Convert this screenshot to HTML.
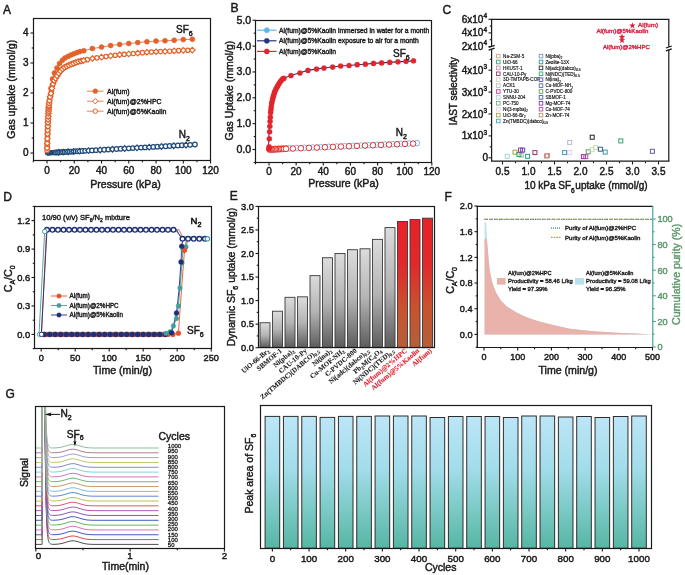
<!DOCTYPE html>
<html><head><meta charset="utf-8"><style>
html,body{margin:0;padding:0;background:#fff;width:685px;height:575px;overflow:hidden;}
svg{display:block;will-change:transform;filter:blur(0.3px);}
</style></head><body>
<svg width="685" height="575" viewBox="0 0 685 575">
<rect x="0" y="0" width="685" height="575" fill="#fff"/>
<text x="3.1" y="13.7" font-size="12" text-anchor="start" fill="#1a1a1a" font-family="Liberation Sans, sans-serif" font-weight="normal"  stroke="#1a1a1a" stroke-width="0.45">A</text>
<path d="M47,153 L47,153 L47.14,152.99 L47.2,152.99 L47.27,152.98 L47.41,152.98 L47.55,152.97 L47.68,152.96 L47.82,152.95 L47.95,152.95 L47.95,152.95 L48.09,152.94 L48.23,152.93 L48.36,152.92 L48.5,152.91 L48.59,152.91 L48.64,152.91 L48.77,152.9 L48.91,152.89 L49.11,152.88 L49.45,152.86 L50.13,152.82 L50.95,152.77 L51.91,152.72 L52.45,152.69 L53,152.66 L54.22,152.59 L54.36,152.58 L55.59,152.51 L56.95,152.43 L57.09,152.42 L58.72,152.33 L59.54,152.28 L60.49,152.23 L62.4,152.12 L64.45,152 L64.99,151.97 L66.63,151.88 L67.99,151.8 L68.81,151.75 L70.99,151.63 L71.13,151.62 L73.44,151.49 L73.99,151.46 L75.9,151.35 L76.99,151.28 L78.35,151.21 L79.98,151.11 L80.94,151.06 L83.53,150.91 L83.8,150.89 L92.39,150.4 L101.52,149.88 L110.65,149.36 L119.65,148.84 L128.78,148.32 L137.78,147.81 L146.91,147.28 L156.04,146.76 L165.04,146.25 L174.17,145.72 L183.3,145.2 L192.3,144.69 L195.57,144.5" stroke="#1f4a7a" stroke-width="0.8" fill="none" />
<circle cx="47.41" cy="152.98" r="2.3" fill="#1f4a7a" stroke="#1f4a7a" stroke-width="0.6"/>
<circle cx="48.23" cy="152.93" r="2.3" fill="#1f4a7a" stroke="#1f4a7a" stroke-width="0.6"/>
<circle cx="49.04" cy="152.88" r="2.3" fill="#1f4a7a" stroke="#1f4a7a" stroke-width="0.6"/>
<circle cx="50" cy="152.83" r="2.3" fill="#1f4a7a" stroke="#1f4a7a" stroke-width="0.6"/>
<circle cx="51.09" cy="152.77" r="2.3" fill="#1f4a7a" stroke="#1f4a7a" stroke-width="0.6"/>
<circle cx="52.18" cy="152.7" r="2.3" fill="#1f4a7a" stroke="#1f4a7a" stroke-width="0.6"/>
<circle cx="53.41" cy="152.63" r="2.3" fill="#1f4a7a" stroke="#1f4a7a" stroke-width="0.6"/>
<circle cx="54.63" cy="152.56" r="2.3" fill="#1f4a7a" stroke="#1f4a7a" stroke-width="0.6"/>
<circle cx="55.86" cy="152.49" r="2.3" fill="#fff" stroke="#1f4a7a" stroke-width="1.25"/>
<circle cx="57.22" cy="152.41" r="2.3" fill="#fff" stroke="#1f4a7a" stroke-width="1.25"/>
<path d="M58.59,149.54 L61.39,152.34 L58.59,155.14 L55.79,152.34Z" fill="#fff" stroke="#1f4a7a" stroke-width="1.25"/>
<circle cx="60.08" cy="152.25" r="2.3" fill="#fff" stroke="#1f4a7a" stroke-width="1.25"/>
<circle cx="61.58" cy="152.17" r="2.3" fill="#fff" stroke="#1f4a7a" stroke-width="1.25"/>
<path d="M63.08,149.28 L65.88,152.08 L63.08,154.88 L60.28,152.08Z" fill="#fff" stroke="#1f4a7a" stroke-width="1.25"/>
<circle cx="64.72" cy="151.99" r="2.3" fill="#fff" stroke="#1f4a7a" stroke-width="1.25"/>
<circle cx="66.35" cy="151.89" r="2.3" fill="#fff" stroke="#1f4a7a" stroke-width="1.25"/>
<path d="M68.13,148.99 L70.93,151.79 L68.13,154.59 L65.33,151.79Z" fill="#fff" stroke="#1f4a7a" stroke-width="1.25"/>
<circle cx="69.9" cy="151.69" r="2.3" fill="#fff" stroke="#1f4a7a" stroke-width="1.25"/>
<circle cx="71.81" cy="151.58" r="2.3" fill="#fff" stroke="#1f4a7a" stroke-width="1.25"/>
<path d="M73.71,148.67 L76.51,151.47 L73.71,154.27 L70.91,151.47Z" fill="#fff" stroke="#1f4a7a" stroke-width="1.25"/>
<circle cx="75.62" cy="151.36" r="2.3" fill="#fff" stroke="#1f4a7a" stroke-width="1.25"/>
<circle cx="77.67" cy="151.25" r="2.3" fill="#fff" stroke="#1f4a7a" stroke-width="1.25"/>
<path d="M79.71,148.33 L82.51,151.13 L79.71,153.93 L76.91,151.13Z" fill="#fff" stroke="#1f4a7a" stroke-width="1.25"/>
<circle cx="82.44" cy="150.97" r="2.3" fill="#fff" stroke="#1f4a7a" stroke-width="1.25"/>
<circle cx="85.16" cy="150.82" r="2.3" fill="#fff" stroke="#1f4a7a" stroke-width="1.25"/>
<path d="M88.57,147.82 L91.37,150.62 L88.57,153.42 L85.77,150.62Z" fill="#fff" stroke="#1f4a7a" stroke-width="1.25"/>
<circle cx="91.98" cy="150.43" r="2.3" fill="#fff" stroke="#1f4a7a" stroke-width="1.25"/>
<circle cx="96.07" cy="150.19" r="2.3" fill="#fff" stroke="#1f4a7a" stroke-width="1.25"/>
<path d="M100.16,147.16 L102.96,149.96 L100.16,152.76 L97.36,149.96Z" fill="#fff" stroke="#1f4a7a" stroke-width="1.25"/>
<circle cx="104.25" cy="149.72" r="2.3" fill="#fff" stroke="#1f4a7a" stroke-width="1.25"/>
<circle cx="108.34" cy="149.49" r="2.3" fill="#fff" stroke="#1f4a7a" stroke-width="1.25"/>
<path d="M112.42,146.46 L115.22,149.26 L112.42,152.06 L109.62,149.26Z" fill="#fff" stroke="#1f4a7a" stroke-width="1.25"/>
<circle cx="116.51" cy="149.02" r="2.3" fill="#fff" stroke="#1f4a7a" stroke-width="1.25"/>
<circle cx="120.6" cy="148.79" r="2.3" fill="#fff" stroke="#1f4a7a" stroke-width="1.25"/>
<path d="M124.69,145.75 L127.49,148.55 L124.69,151.35 L121.89,148.55Z" fill="#fff" stroke="#1f4a7a" stroke-width="1.25"/>
<circle cx="128.78" cy="148.32" r="2.3" fill="#fff" stroke="#1f4a7a" stroke-width="1.25"/>
<circle cx="132.87" cy="148.09" r="2.3" fill="#fff" stroke="#1f4a7a" stroke-width="1.25"/>
<path d="M136.96,145.05 L139.76,147.85 L136.96,150.65 L134.16,147.85Z" fill="#fff" stroke="#1f4a7a" stroke-width="1.25"/>
<circle cx="141.05" cy="147.62" r="2.3" fill="#fff" stroke="#1f4a7a" stroke-width="1.25"/>
<circle cx="145.14" cy="147.38" r="2.3" fill="#fff" stroke="#1f4a7a" stroke-width="1.25"/>
<path d="M149.22,144.35 L152.03,147.15 L149.22,149.95 L146.42,147.15Z" fill="#fff" stroke="#1f4a7a" stroke-width="1.25"/>
<circle cx="153.31" cy="146.92" r="2.3" fill="#fff" stroke="#1f4a7a" stroke-width="1.25"/>
<circle cx="157.4" cy="146.68" r="2.3" fill="#fff" stroke="#1f4a7a" stroke-width="1.25"/>
<path d="M161.49,143.65 L164.29,146.45 L161.49,149.25 L158.69,146.45Z" fill="#fff" stroke="#1f4a7a" stroke-width="1.25"/>
<circle cx="165.58" cy="146.21" r="2.3" fill="#fff" stroke="#1f4a7a" stroke-width="1.25"/>
<circle cx="169.67" cy="145.98" r="2.3" fill="#fff" stroke="#1f4a7a" stroke-width="1.25"/>
<path d="M173.76,142.95 L176.56,145.75 L173.76,148.55 L170.96,145.75Z" fill="#fff" stroke="#1f4a7a" stroke-width="1.25"/>
<circle cx="177.85" cy="145.51" r="2.3" fill="#fff" stroke="#1f4a7a" stroke-width="1.25"/>
<circle cx="181.94" cy="145.28" r="2.3" fill="#fff" stroke="#1f4a7a" stroke-width="1.25"/>
<path d="M186.03,142.24 L188.83,145.04 L186.03,147.84 L183.23,145.04Z" fill="#fff" stroke="#1f4a7a" stroke-width="1.25"/>
<circle cx="190.12" cy="144.81" r="2.3" fill="#fff" stroke="#1f4a7a" stroke-width="1.25"/>
<circle cx="194.89" cy="144.54" r="2.3" fill="#fff" stroke="#1f4a7a" stroke-width="1.25"/>
<path d="M47,153 L47.14,148.03 L47.27,143.22 L47.41,138.55 L47.55,133.93 L47.68,130.13 L47.82,126.36 L47.95,122.62 L48.09,119.57 L48.23,116.53 L48.36,113.51 L48.5,111.3 L48.64,109.23 L48.77,107.51 L48.91,105.79 L49.11,103.22 L49.45,100.72 L50.13,96.84 L50.95,93.47 L51.91,88.39 L53,84 L54.22,80.68 L55.59,78.33 L57.09,75.89 L58.72,73.35 L60.49,71.09 L62.4,69.1 L64.45,67.39 L66.63,66.19 L68.81,65.21 L71.13,64.17 L73.44,63.33 L75.9,62.44 L78.35,61.68 L80.94,61.03 L83.53,60.48 L92.39,58.52 L101.52,57.16 L110.65,55.8 L119.65,54.72 L128.78,53.9 L137.78,53.09 L146.91,52.27 L156.04,51.73 L165.04,51.46 L174.17,50.92 L183.3,50.37 L192.3,50.1" stroke="#e2622a" stroke-width="0.8" fill="none" />
<path d="M47,153 L47.2,145.5 L47.55,133.5 L47.95,121.5 L48.59,107.4 L50.95,88.2 L52.45,78.9 L54.36,72.9 L56.95,68.1 L59.54,63.6 L62.4,60.3 L64.99,57.9 L67.99,56.4 L70.99,54.9 L73.99,53.7 L76.99,52.5 L79.98,51.6 L83.8,50.7 L92.39,48.6 L101.52,47.1 L110.65,45.6 L119.65,44.4 L128.78,43.5 L137.78,42.6 L146.91,41.7 L156.04,41.1 L165.04,40.8 L174.17,40.2 L183.3,39.6 L192.3,39.3" stroke="#e2622a" stroke-width="0.8" fill="none" />
<circle cx="47.2" cy="145.5" r="2.5" fill="#e2622a" stroke="#e2622a" stroke-width="0.5"/>
<circle cx="47.55" cy="133.5" r="2.5" fill="#e2622a" stroke="#e2622a" stroke-width="0.5"/>
<circle cx="47.95" cy="121.5" r="2.5" fill="#e2622a" stroke="#e2622a" stroke-width="0.5"/>
<circle cx="48.59" cy="107.4" r="2.5" fill="#e2622a" stroke="#e2622a" stroke-width="0.5"/>
<circle cx="50.95" cy="88.2" r="2.5" fill="#e2622a" stroke="#e2622a" stroke-width="0.5"/>
<circle cx="52.45" cy="78.9" r="2.5" fill="#e2622a" stroke="#e2622a" stroke-width="0.5"/>
<circle cx="54.36" cy="72.9" r="2.5" fill="#e2622a" stroke="#e2622a" stroke-width="0.5"/>
<circle cx="56.95" cy="68.1" r="2.5" fill="#e2622a" stroke="#e2622a" stroke-width="0.5"/>
<circle cx="59.54" cy="63.6" r="2.5" fill="#e2622a" stroke="#e2622a" stroke-width="0.5"/>
<circle cx="62.4" cy="60.3" r="2.5" fill="#e2622a" stroke="#e2622a" stroke-width="0.5"/>
<circle cx="64.99" cy="57.9" r="2.5" fill="#e2622a" stroke="#e2622a" stroke-width="0.5"/>
<circle cx="67.99" cy="56.4" r="2.5" fill="#e2622a" stroke="#e2622a" stroke-width="0.5"/>
<circle cx="70.99" cy="54.9" r="2.5" fill="#e2622a" stroke="#e2622a" stroke-width="0.5"/>
<circle cx="73.99" cy="53.7" r="2.5" fill="#e2622a" stroke="#e2622a" stroke-width="0.5"/>
<circle cx="76.99" cy="52.5" r="2.5" fill="#e2622a" stroke="#e2622a" stroke-width="0.5"/>
<circle cx="79.98" cy="51.6" r="2.5" fill="#e2622a" stroke="#e2622a" stroke-width="0.5"/>
<circle cx="83.8" cy="50.7" r="2.5" fill="#e2622a" stroke="#e2622a" stroke-width="0.5"/>
<circle cx="92.39" cy="48.6" r="2.5" fill="#e2622a" stroke="#e2622a" stroke-width="0.5"/>
<circle cx="101.52" cy="47.1" r="2.5" fill="#e2622a" stroke="#e2622a" stroke-width="0.5"/>
<circle cx="110.65" cy="45.6" r="2.5" fill="#e2622a" stroke="#e2622a" stroke-width="0.5"/>
<circle cx="119.65" cy="44.4" r="2.5" fill="#e2622a" stroke="#e2622a" stroke-width="0.5"/>
<circle cx="128.78" cy="43.5" r="2.5" fill="#e2622a" stroke="#e2622a" stroke-width="0.5"/>
<circle cx="137.78" cy="42.6" r="2.5" fill="#e2622a" stroke="#e2622a" stroke-width="0.5"/>
<circle cx="146.91" cy="41.7" r="2.5" fill="#e2622a" stroke="#e2622a" stroke-width="0.5"/>
<circle cx="156.04" cy="41.1" r="2.5" fill="#e2622a" stroke="#e2622a" stroke-width="0.5"/>
<circle cx="165.04" cy="40.8" r="2.5" fill="#e2622a" stroke="#e2622a" stroke-width="0.5"/>
<circle cx="174.17" cy="40.2" r="2.5" fill="#e2622a" stroke="#e2622a" stroke-width="0.5"/>
<circle cx="183.3" cy="39.6" r="2.5" fill="#e2622a" stroke="#e2622a" stroke-width="0.5"/>
<circle cx="192.3" cy="39.3" r="2.5" fill="#e2622a" stroke="#e2622a" stroke-width="0.5"/>
<circle cx="47.07" cy="150.51" r="2.2" fill="#fff" stroke="#e2622a" stroke-width="1.2"/>
<circle cx="47.2" cy="145.57" r="2.2" fill="#fff" stroke="#e2622a" stroke-width="1.2"/>
<circle cx="47.34" cy="140.88" r="2.2" fill="#fff" stroke="#e2622a" stroke-width="1.2"/>
<circle cx="47.48" cy="136.24" r="2.2" fill="#fff" stroke="#e2622a" stroke-width="1.2"/>
<circle cx="47.61" cy="132.03" r="2.2" fill="#fff" stroke="#e2622a" stroke-width="1.2"/>
<circle cx="47.75" cy="128.24" r="2.2" fill="#fff" stroke="#e2622a" stroke-width="1.2"/>
<circle cx="47.89" cy="124.49" r="2.2" fill="#fff" stroke="#e2622a" stroke-width="1.2"/>
<circle cx="48.02" cy="121.09" r="2.2" fill="#fff" stroke="#e2622a" stroke-width="1.2"/>
<circle cx="48.16" cy="118.05" r="2.2" fill="#fff" stroke="#e2622a" stroke-width="1.2"/>
<circle cx="48.29" cy="115.02" r="2.2" fill="#fff" stroke="#e2622a" stroke-width="1.2"/>
<circle cx="48.43" cy="112.4" r="2.2" fill="#fff" stroke="#e2622a" stroke-width="1.2"/>
<circle cx="48.57" cy="110.19" r="2.2" fill="#fff" stroke="#e2622a" stroke-width="1.2"/>
<circle cx="48.7" cy="108.37" r="2.2" fill="#fff" stroke="#e2622a" stroke-width="1.2"/>
<circle cx="48.84" cy="106.65" r="2.2" fill="#fff" stroke="#e2622a" stroke-width="1.2"/>
<circle cx="48.98" cy="104.94" r="2.2" fill="#fff" stroke="#e2622a" stroke-width="1.2"/>
<circle cx="49.79" cy="98.64" r="2.2" fill="#fff" stroke="#e2622a" stroke-width="1.2"/>
<circle cx="50.54" cy="95.16" r="2.2" fill="#fff" stroke="#e2622a" stroke-width="1.2"/>
<circle cx="51.43" cy="90.94" r="2.2" fill="#fff" stroke="#e2622a" stroke-width="1.2"/>
<circle cx="52.45" cy="85.45" r="2.2" fill="#fff" stroke="#e2622a" stroke-width="1.2"/>
<circle cx="53.61" cy="82.35" r="2.2" fill="#fff" stroke="#e2622a" stroke-width="1.2"/>
<circle cx="54.91" cy="79.43" r="2.2" fill="#fff" stroke="#e2622a" stroke-width="1.2"/>
<circle cx="56.34" cy="77.11" r="2.2" fill="#fff" stroke="#e2622a" stroke-width="1.2"/>
<circle cx="57.9" cy="74.63" r="2.2" fill="#fff" stroke="#e2622a" stroke-width="1.2"/>
<circle cx="59.61" cy="72" r="2.2" fill="#fff" stroke="#e2622a" stroke-width="1.2"/>
<circle cx="61.45" cy="70.09" r="2.2" fill="#fff" stroke="#e2622a" stroke-width="1.2"/>
<circle cx="63.36" cy="68.3" r="2.2" fill="#fff" stroke="#e2622a" stroke-width="1.2"/>
<circle cx="65.54" cy="66.69" r="2.2" fill="#fff" stroke="#e2622a" stroke-width="1.2"/>
<circle cx="67.72" cy="65.7" r="2.2" fill="#fff" stroke="#e2622a" stroke-width="1.2"/>
<circle cx="69.9" cy="64.71" r="2.2" fill="#fff" stroke="#e2622a" stroke-width="1.2"/>
<circle cx="72.22" cy="63.78" r="2.2" fill="#fff" stroke="#e2622a" stroke-width="1.2"/>
<circle cx="74.67" cy="62.89" r="2.2" fill="#fff" stroke="#e2622a" stroke-width="1.2"/>
<circle cx="77.12" cy="62.01" r="2.2" fill="#fff" stroke="#e2622a" stroke-width="1.2"/>
<circle cx="79.71" cy="61.31" r="2.2" fill="#fff" stroke="#e2622a" stroke-width="1.2"/>
<circle cx="82.3" cy="60.74" r="2.2" fill="#fff" stroke="#e2622a" stroke-width="1.2"/>
<circle cx="87.21" cy="59.66" r="2.2" fill="#fff" stroke="#e2622a" stroke-width="1.2"/>
<circle cx="96.89" cy="57.85" r="2.2" fill="#fff" stroke="#e2622a" stroke-width="1.2"/>
<circle cx="106.02" cy="56.49" r="2.2" fill="#fff" stroke="#e2622a" stroke-width="1.2"/>
<circle cx="115.15" cy="55.26" r="2.2" fill="#fff" stroke="#e2622a" stroke-width="1.2"/>
<circle cx="124.15" cy="54.32" r="2.2" fill="#fff" stroke="#e2622a" stroke-width="1.2"/>
<circle cx="133.28" cy="53.5" r="2.2" fill="#fff" stroke="#e2622a" stroke-width="1.2"/>
<circle cx="142.41" cy="52.67" r="2.2" fill="#fff" stroke="#e2622a" stroke-width="1.2"/>
<circle cx="151.41" cy="52.01" r="2.2" fill="#fff" stroke="#e2622a" stroke-width="1.2"/>
<circle cx="160.54" cy="51.59" r="2.2" fill="#fff" stroke="#e2622a" stroke-width="1.2"/>
<circle cx="169.67" cy="51.18" r="2.2" fill="#fff" stroke="#e2622a" stroke-width="1.2"/>
<circle cx="178.67" cy="50.65" r="2.2" fill="#fff" stroke="#e2622a" stroke-width="1.2"/>
<circle cx="187.8" cy="50.24" r="2.2" fill="#fff" stroke="#e2622a" stroke-width="1.2"/>
<path d="M47.14,145.28 L49.89,148.03 L47.14,150.78 L44.39,148.03Z" fill="#fff" stroke="#e2622a" stroke-width="1.2"/>
<path d="M47.27,140.47 L50.02,143.22 L47.27,145.97 L44.52,143.22Z" fill="#fff" stroke="#e2622a" stroke-width="1.2"/>
<path d="M47.41,135.8 L50.16,138.55 L47.41,141.3 L44.66,138.55Z" fill="#fff" stroke="#e2622a" stroke-width="1.2"/>
<path d="M47.55,131.18 L50.3,133.93 L47.55,136.68 L44.8,133.93Z" fill="#fff" stroke="#e2622a" stroke-width="1.2"/>
<path d="M47.68,127.38 L50.43,130.13 L47.68,132.88 L44.93,130.13Z" fill="#fff" stroke="#e2622a" stroke-width="1.2"/>
<path d="M47.82,123.61 L50.57,126.36 L47.82,129.11 L45.07,126.36Z" fill="#fff" stroke="#e2622a" stroke-width="1.2"/>
<path d="M47.95,119.87 L50.7,122.62 L47.95,125.37 L45.2,122.62Z" fill="#fff" stroke="#e2622a" stroke-width="1.2"/>
<path d="M48.09,116.82 L50.84,119.57 L48.09,122.32 L45.34,119.57Z" fill="#fff" stroke="#e2622a" stroke-width="1.2"/>
<path d="M48.23,113.78 L50.98,116.53 L48.23,119.28 L45.48,116.53Z" fill="#fff" stroke="#e2622a" stroke-width="1.2"/>
<path d="M48.36,110.76 L51.11,113.51 L48.36,116.26 L45.61,113.51Z" fill="#fff" stroke="#e2622a" stroke-width="1.2"/>
<path d="M48.5,108.55 L51.25,111.3 L48.5,114.05 L45.75,111.3Z" fill="#fff" stroke="#e2622a" stroke-width="1.2"/>
<path d="M48.64,106.48 L51.39,109.23 L48.64,111.98 L45.89,109.23Z" fill="#fff" stroke="#e2622a" stroke-width="1.2"/>
<path d="M48.77,104.76 L51.52,107.51 L48.77,110.26 L46.02,107.51Z" fill="#fff" stroke="#e2622a" stroke-width="1.2"/>
<path d="M48.91,103.04 L51.66,105.79 L48.91,108.54 L46.16,105.79Z" fill="#fff" stroke="#e2622a" stroke-width="1.2"/>
<path d="M49.11,100.47 L51.86,103.22 L49.11,105.97 L46.36,103.22Z" fill="#fff" stroke="#e2622a" stroke-width="1.2"/>
<path d="M49.45,97.97 L52.2,100.72 L49.45,103.47 L46.7,100.72Z" fill="#fff" stroke="#e2622a" stroke-width="1.2"/>
<path d="M50.13,94.09 L52.88,96.84 L50.13,99.59 L47.38,96.84Z" fill="#fff" stroke="#e2622a" stroke-width="1.2"/>
<path d="M50.95,90.72 L53.7,93.47 L50.95,96.22 L48.2,93.47Z" fill="#fff" stroke="#e2622a" stroke-width="1.2"/>
<path d="M51.91,85.64 L54.66,88.39 L51.91,91.14 L49.16,88.39Z" fill="#fff" stroke="#e2622a" stroke-width="1.2"/>
<path d="M53,81.25 L55.75,84 L53,86.75 L50.25,84Z" fill="#fff" stroke="#e2622a" stroke-width="1.2"/>
<path d="M54.22,77.93 L56.97,80.68 L54.22,83.43 L51.47,80.68Z" fill="#fff" stroke="#e2622a" stroke-width="1.2"/>
<path d="M55.59,75.58 L58.34,78.33 L55.59,81.08 L52.84,78.33Z" fill="#fff" stroke="#e2622a" stroke-width="1.2"/>
<path d="M57.09,73.14 L59.84,75.89 L57.09,78.64 L54.34,75.89Z" fill="#fff" stroke="#e2622a" stroke-width="1.2"/>
<path d="M58.72,70.6 L61.47,73.35 L58.72,76.1 L55.97,73.35Z" fill="#fff" stroke="#e2622a" stroke-width="1.2"/>
<path d="M60.49,68.34 L63.24,71.09 L60.49,73.84 L57.74,71.09Z" fill="#fff" stroke="#e2622a" stroke-width="1.2"/>
<path d="M62.4,66.35 L65.15,69.1 L62.4,71.85 L59.65,69.1Z" fill="#fff" stroke="#e2622a" stroke-width="1.2"/>
<path d="M64.45,64.64 L67.2,67.39 L64.45,70.14 L61.7,67.39Z" fill="#fff" stroke="#e2622a" stroke-width="1.2"/>
<path d="M66.63,63.44 L69.38,66.19 L66.63,68.94 L63.88,66.19Z" fill="#fff" stroke="#e2622a" stroke-width="1.2"/>
<path d="M68.81,62.46 L71.56,65.21 L68.81,67.96 L66.06,65.21Z" fill="#fff" stroke="#e2622a" stroke-width="1.2"/>
<path d="M71.13,61.42 L73.88,64.17 L71.13,66.92 L68.38,64.17Z" fill="#fff" stroke="#e2622a" stroke-width="1.2"/>
<path d="M73.44,60.58 L76.19,63.33 L73.44,66.08 L70.69,63.33Z" fill="#fff" stroke="#e2622a" stroke-width="1.2"/>
<path d="M75.9,59.69 L78.65,62.44 L75.9,65.19 L73.15,62.44Z" fill="#fff" stroke="#e2622a" stroke-width="1.2"/>
<path d="M78.35,58.93 L81.1,61.68 L78.35,64.43 L75.6,61.68Z" fill="#fff" stroke="#e2622a" stroke-width="1.2"/>
<path d="M80.94,58.28 L83.69,61.03 L80.94,63.78 L78.19,61.03Z" fill="#fff" stroke="#e2622a" stroke-width="1.2"/>
<path d="M83.53,57.73 L86.28,60.48 L83.53,63.23 L80.78,60.48Z" fill="#fff" stroke="#e2622a" stroke-width="1.2"/>
<path d="M92.39,55.77 L95.14,58.52 L92.39,61.27 L89.64,58.52Z" fill="#fff" stroke="#e2622a" stroke-width="1.2"/>
<path d="M101.52,54.41 L104.27,57.16 L101.52,59.91 L98.77,57.16Z" fill="#fff" stroke="#e2622a" stroke-width="1.2"/>
<path d="M110.65,53.05 L113.4,55.8 L110.65,58.55 L107.9,55.8Z" fill="#fff" stroke="#e2622a" stroke-width="1.2"/>
<path d="M119.65,51.97 L122.4,54.72 L119.65,57.47 L116.9,54.72Z" fill="#fff" stroke="#e2622a" stroke-width="1.2"/>
<path d="M128.78,51.15 L131.53,53.9 L128.78,56.65 L126.03,53.9Z" fill="#fff" stroke="#e2622a" stroke-width="1.2"/>
<path d="M137.78,50.34 L140.53,53.09 L137.78,55.84 L135.03,53.09Z" fill="#fff" stroke="#e2622a" stroke-width="1.2"/>
<path d="M146.91,49.52 L149.66,52.27 L146.91,55.02 L144.16,52.27Z" fill="#fff" stroke="#e2622a" stroke-width="1.2"/>
<path d="M156.04,48.98 L158.79,51.73 L156.04,54.48 L153.29,51.73Z" fill="#fff" stroke="#e2622a" stroke-width="1.2"/>
<path d="M165.04,48.71 L167.79,51.46 L165.04,54.21 L162.29,51.46Z" fill="#fff" stroke="#e2622a" stroke-width="1.2"/>
<path d="M174.17,48.17 L176.92,50.92 L174.17,53.67 L171.42,50.92Z" fill="#fff" stroke="#e2622a" stroke-width="1.2"/>
<path d="M183.3,47.62 L186.05,50.37 L183.3,53.12 L180.55,50.37Z" fill="#fff" stroke="#e2622a" stroke-width="1.2"/>
<path d="M192.3,47.35 L195.05,50.1 L192.3,52.85 L189.55,50.1Z" fill="#fff" stroke="#e2622a" stroke-width="1.2"/>
<rect x="33.5" y="18.5" width="177" height="142" fill="none" stroke="#1a1a1a" stroke-width="1.2" />
<line x1="30.5" y1="153" x2="33.5" y2="153" stroke="#1a1a1a" stroke-width="1.1" />
<line x1="30.5" y1="123" x2="33.5" y2="123" stroke="#1a1a1a" stroke-width="1.1" />
<line x1="30.5" y1="93" x2="33.5" y2="93" stroke="#1a1a1a" stroke-width="1.1" />
<line x1="30.5" y1="63" x2="33.5" y2="63" stroke="#1a1a1a" stroke-width="1.1" />
<line x1="30.5" y1="33" x2="33.5" y2="33" stroke="#1a1a1a" stroke-width="1.1" />
<line x1="31.7" y1="138" x2="33.5" y2="138" stroke="#1a1a1a" stroke-width="1.1" />
<line x1="31.7" y1="108" x2="33.5" y2="108" stroke="#1a1a1a" stroke-width="1.1" />
<line x1="31.7" y1="78" x2="33.5" y2="78" stroke="#1a1a1a" stroke-width="1.1" />
<line x1="31.7" y1="48" x2="33.5" y2="48" stroke="#1a1a1a" stroke-width="1.1" />
<line x1="47" y1="160.5" x2="47" y2="163.5" stroke="#1a1a1a" stroke-width="1.1" />
<line x1="74.26" y1="160.5" x2="74.26" y2="163.5" stroke="#1a1a1a" stroke-width="1.1" />
<line x1="101.52" y1="160.5" x2="101.52" y2="163.5" stroke="#1a1a1a" stroke-width="1.1" />
<line x1="128.78" y1="160.5" x2="128.78" y2="163.5" stroke="#1a1a1a" stroke-width="1.1" />
<line x1="156.04" y1="160.5" x2="156.04" y2="163.5" stroke="#1a1a1a" stroke-width="1.1" />
<line x1="183.3" y1="160.5" x2="183.3" y2="163.5" stroke="#1a1a1a" stroke-width="1.1" />
<line x1="210.56" y1="160.5" x2="210.56" y2="163.5" stroke="#1a1a1a" stroke-width="1.1" />
<line x1="33.37" y1="160.5" x2="33.37" y2="162.3" stroke="#1a1a1a" stroke-width="1.1" />
<line x1="60.63" y1="160.5" x2="60.63" y2="162.3" stroke="#1a1a1a" stroke-width="1.1" />
<line x1="87.89" y1="160.5" x2="87.89" y2="162.3" stroke="#1a1a1a" stroke-width="1.1" />
<line x1="115.15" y1="160.5" x2="115.15" y2="162.3" stroke="#1a1a1a" stroke-width="1.1" />
<line x1="142.41" y1="160.5" x2="142.41" y2="162.3" stroke="#1a1a1a" stroke-width="1.1" />
<line x1="169.67" y1="160.5" x2="169.67" y2="162.3" stroke="#1a1a1a" stroke-width="1.1" />
<line x1="196.93" y1="160.5" x2="196.93" y2="162.3" stroke="#1a1a1a" stroke-width="1.1" />
<text x="28.6" y="156.4" font-size="10" text-anchor="end" fill="#1a1a1a" font-family="Liberation Sans, sans-serif" font-weight="normal"  stroke="#1a1a1a" stroke-width="0.45">0</text>
<text x="28.6" y="126.4" font-size="10" text-anchor="end" fill="#1a1a1a" font-family="Liberation Sans, sans-serif" font-weight="normal"  stroke="#1a1a1a" stroke-width="0.45">1</text>
<text x="28.6" y="96.4" font-size="10" text-anchor="end" fill="#1a1a1a" font-family="Liberation Sans, sans-serif" font-weight="normal"  stroke="#1a1a1a" stroke-width="0.45">2</text>
<text x="28.6" y="66.4" font-size="10" text-anchor="end" fill="#1a1a1a" font-family="Liberation Sans, sans-serif" font-weight="normal"  stroke="#1a1a1a" stroke-width="0.45">3</text>
<text x="28.6" y="36.4" font-size="10" text-anchor="end" fill="#1a1a1a" font-family="Liberation Sans, sans-serif" font-weight="normal"  stroke="#1a1a1a" stroke-width="0.45">4</text>
<text x="47" y="173.8" font-size="10" text-anchor="middle" fill="#1a1a1a" font-family="Liberation Sans, sans-serif" font-weight="normal"  stroke="#1a1a1a" stroke-width="0.45">0</text>
<text x="74.26" y="173.8" font-size="10" text-anchor="middle" fill="#1a1a1a" font-family="Liberation Sans, sans-serif" font-weight="normal"  stroke="#1a1a1a" stroke-width="0.45">20</text>
<text x="101.52" y="173.8" font-size="10" text-anchor="middle" fill="#1a1a1a" font-family="Liberation Sans, sans-serif" font-weight="normal"  stroke="#1a1a1a" stroke-width="0.45">40</text>
<text x="128.78" y="173.8" font-size="10" text-anchor="middle" fill="#1a1a1a" font-family="Liberation Sans, sans-serif" font-weight="normal"  stroke="#1a1a1a" stroke-width="0.45">60</text>
<text x="156.04" y="173.8" font-size="10" text-anchor="middle" fill="#1a1a1a" font-family="Liberation Sans, sans-serif" font-weight="normal"  stroke="#1a1a1a" stroke-width="0.45">80</text>
<text x="183.3" y="173.8" font-size="10" text-anchor="middle" fill="#1a1a1a" font-family="Liberation Sans, sans-serif" font-weight="normal"  stroke="#1a1a1a" stroke-width="0.45">100</text>
<text x="210.56" y="173.8" font-size="10" text-anchor="middle" fill="#1a1a1a" font-family="Liberation Sans, sans-serif" font-weight="normal"  stroke="#1a1a1a" stroke-width="0.45">120</text>
<text x="125.5" y="187.5" font-size="10.6" text-anchor="middle" fill="#1a1a1a" font-family="Liberation Sans, sans-serif" font-weight="normal"  stroke="#1a1a1a" stroke-width="0.45">Pressure (kPa)</text>
<text x="15" y="89.3" font-size="10.6" text-anchor="middle" fill="#1a1a1a" font-family="Liberation Sans, sans-serif" font-weight="normal" transform="rotate(-90 15 89.3)"  stroke="#1a1a1a" stroke-width="0.45">Gas uptake (mmol/g)</text>
<text x="176" y="32.6" font-size="10" text-anchor="start" fill="#1a1a1a" font-family="Liberation Sans, sans-serif" font-weight="normal"  stroke="#1a1a1a" stroke-width="0.45">SF<tspan font-size="7" dy="3.3">6</tspan></text>
<text x="178.8" y="137.6" font-size="10" text-anchor="start" fill="#1a1a1a" font-family="Liberation Sans, sans-serif" font-weight="normal"  stroke="#1a1a1a" stroke-width="0.45">N<tspan font-size="7" dy="3.3">2</tspan></text>
<line x1="87" y1="91.2" x2="103.6" y2="91.2" stroke="#e2622a" stroke-width="0.8" />
<circle cx="95.3" cy="91.2" r="2.4" fill="#e2622a" stroke="#e2622a" stroke-width="0.5"/>
<text x="107.1" y="93.7" font-size="7" text-anchor="start" fill="#1a1a1a" font-family="Liberation Sans, sans-serif" font-weight="normal"  stroke="#1a1a1a" stroke-width="0.4">Al(fum)</text>
<line x1="87" y1="101.2" x2="103.6" y2="101.2" stroke="#e2622a" stroke-width="0.8" />
<path d="M95.3,98.5 L98,101.2 L95.3,103.9 L92.6,101.2Z" fill="#fff" stroke="#e2622a" stroke-width="1"/>
<text x="107.1" y="103.7" font-size="7" text-anchor="start" fill="#1a1a1a" font-family="Liberation Sans, sans-serif" font-weight="normal"  stroke="#1a1a1a" stroke-width="0.4">Al(fum)@2%HPC</text>
<line x1="87" y1="111.2" x2="103.6" y2="111.2" stroke="#e2622a" stroke-width="0.8" />
<circle cx="95.3" cy="111.2" r="2.2" fill="#fff" stroke="#e2622a" stroke-width="1"/>
<text x="107.1" y="113.7" font-size="7" text-anchor="start" fill="#1a1a1a" font-family="Liberation Sans, sans-serif" font-weight="normal"  stroke="#1a1a1a" stroke-width="0.4">Al(fum)@5%Kaolin</text>
<text x="230.6" y="11.9" font-size="12.2" text-anchor="start" fill="#1a1a1a" font-family="Liberation Sans, sans-serif" font-weight="normal"  stroke="#1a1a1a" stroke-width="0.45">B</text>
<path d="M269,149.5 L269.41,149.48 L270.09,149.46 L270.9,149.42 L271.71,149.39 L272.66,149.35 L273.61,149.31 L274.7,149.27 L275.79,149.22 L277.14,149.17 L278.5,149.11 L279.86,149.06 L281.21,149 L282.57,148.94 L283.93,148.89 L285.96,148.81 L292.88,148.52 L300.89,148.19 L308.9,147.87 L316.9,147.54 L324.91,147.21 L332.91,146.88 L340.92,146.55 L348.93,146.23 L356.93,145.9 L364.94,145.57 L372.95,145.24 L380.95,144.91 L388.96,144.59 L396.97,144.26 L404.97,143.93 L413.11,143.6" stroke="#e2252b" stroke-width="0.8" fill="none" />
<path d="M269,149.5 L269.41,149.48 L270.09,149.46 L270.9,149.42 L271.71,149.39 L272.66,149.35 L273.61,149.31 L274.7,149.27 L275.79,149.22 L277.14,149.17 L278.5,149.11 L279.86,149.06 L281.21,149 L282.57,148.94 L283.93,148.89 L285.96,148.81 L292.88,148.52 L300.89,148.19 L308.9,147.87 L316.9,147.54 L324.91,147.21 L332.91,146.88 L340.92,146.55 L348.93,146.23 L356.93,145.9 L364.94,145.57 L372.95,145.24 L380.95,144.91 L388.96,144.59 L396.97,144.26 L404.97,143.93 L413.11,143.6" stroke="#27357f" stroke-width="1.1" fill="none" />
<circle cx="273.21" cy="149.07" r="2.8" fill="#fff" stroke="#5cb6e6" stroke-width="0.9"/>
<circle cx="273.89" cy="149.04" r="2.8" fill="#fff" stroke="#5cb6e6" stroke-width="0.9"/>
<circle cx="274.7" cy="149.01" r="2.8" fill="#fff" stroke="#5cb6e6" stroke-width="0.9"/>
<circle cx="275.51" cy="148.97" r="2.8" fill="#fff" stroke="#5cb6e6" stroke-width="0.9"/>
<circle cx="276.46" cy="148.94" r="2.8" fill="#fff" stroke="#5cb6e6" stroke-width="0.9"/>
<circle cx="277.41" cy="148.9" r="2.8" fill="#fff" stroke="#5cb6e6" stroke-width="0.9"/>
<circle cx="278.5" cy="148.85" r="2.8" fill="#fff" stroke="#5cb6e6" stroke-width="0.9"/>
<circle cx="279.58" cy="148.81" r="2.8" fill="#fff" stroke="#5cb6e6" stroke-width="0.9"/>
<circle cx="280.94" cy="148.75" r="2.8" fill="#fff" stroke="#5cb6e6" stroke-width="0.9"/>
<circle cx="282.3" cy="148.7" r="2.8" fill="#fff" stroke="#5cb6e6" stroke-width="0.9"/>
<circle cx="283.66" cy="148.64" r="2.8" fill="#fff" stroke="#5cb6e6" stroke-width="0.9"/>
<circle cx="285.01" cy="148.59" r="2.8" fill="#fff" stroke="#5cb6e6" stroke-width="0.9"/>
<circle cx="286.37" cy="148.53" r="2.8" fill="#fff" stroke="#5cb6e6" stroke-width="0.9"/>
<circle cx="287.73" cy="148.47" r="2.8" fill="#fff" stroke="#5cb6e6" stroke-width="0.9"/>
<circle cx="289.76" cy="148.39" r="2.8" fill="#fff" stroke="#5cb6e6" stroke-width="0.9"/>
<circle cx="296.68" cy="148.11" r="2.8" fill="#fff" stroke="#5cb6e6" stroke-width="0.9"/>
<circle cx="304.69" cy="147.78" r="2.8" fill="#fff" stroke="#5cb6e6" stroke-width="0.9"/>
<circle cx="312.7" cy="147.45" r="2.8" fill="#fff" stroke="#5cb6e6" stroke-width="0.9"/>
<circle cx="320.7" cy="147.12" r="2.8" fill="#fff" stroke="#5cb6e6" stroke-width="0.9"/>
<circle cx="328.71" cy="146.8" r="2.8" fill="#fff" stroke="#5cb6e6" stroke-width="0.9"/>
<circle cx="336.71" cy="146.47" r="2.8" fill="#fff" stroke="#5cb6e6" stroke-width="0.9"/>
<circle cx="344.72" cy="146.14" r="2.8" fill="#fff" stroke="#5cb6e6" stroke-width="0.9"/>
<circle cx="352.73" cy="145.81" r="2.8" fill="#fff" stroke="#5cb6e6" stroke-width="0.9"/>
<circle cx="360.73" cy="145.48" r="2.8" fill="#fff" stroke="#5cb6e6" stroke-width="0.9"/>
<circle cx="368.74" cy="145.16" r="2.8" fill="#fff" stroke="#5cb6e6" stroke-width="0.9"/>
<circle cx="376.75" cy="144.83" r="2.8" fill="#fff" stroke="#5cb6e6" stroke-width="0.9"/>
<circle cx="384.75" cy="144.5" r="2.8" fill="#fff" stroke="#5cb6e6" stroke-width="0.9"/>
<circle cx="392.76" cy="144.17" r="2.8" fill="#fff" stroke="#5cb6e6" stroke-width="0.9"/>
<circle cx="400.76" cy="143.84" r="2.8" fill="#fff" stroke="#5cb6e6" stroke-width="0.9"/>
<circle cx="408.77" cy="143.52" r="2.8" fill="#fff" stroke="#5cb6e6" stroke-width="0.9"/>
<circle cx="416.91" cy="143.18" r="2.8" fill="#fff" stroke="#5cb6e6" stroke-width="0.9"/>
<circle cx="269.41" cy="149.48" r="2.8" fill="#fff" stroke="#e2252b" stroke-width="0.95"/>
<circle cx="270.09" cy="149.46" r="2.8" fill="#fff" stroke="#e2252b" stroke-width="0.95"/>
<circle cx="270.9" cy="149.42" r="2.8" fill="#fff" stroke="#e2252b" stroke-width="0.95"/>
<circle cx="271.71" cy="149.39" r="2.8" fill="#fff" stroke="#e2252b" stroke-width="0.95"/>
<circle cx="272.66" cy="149.35" r="2.8" fill="#fff" stroke="#e2252b" stroke-width="0.95"/>
<circle cx="273.61" cy="149.31" r="2.8" fill="#fff" stroke="#e2252b" stroke-width="0.95"/>
<circle cx="274.7" cy="149.27" r="2.8" fill="#fff" stroke="#e2252b" stroke-width="0.95"/>
<circle cx="275.79" cy="149.22" r="2.8" fill="#fff" stroke="#e2252b" stroke-width="0.95"/>
<circle cx="277.14" cy="149.17" r="2.8" fill="#fff" stroke="#e2252b" stroke-width="0.95"/>
<circle cx="278.5" cy="149.11" r="2.8" fill="#fff" stroke="#e2252b" stroke-width="0.95"/>
<circle cx="279.86" cy="149.06" r="2.8" fill="#fff" stroke="#e2252b" stroke-width="0.95"/>
<circle cx="281.21" cy="149" r="2.8" fill="#fff" stroke="#e2252b" stroke-width="0.95"/>
<circle cx="282.57" cy="148.94" r="2.8" fill="#fff" stroke="#e2252b" stroke-width="0.95"/>
<circle cx="283.93" cy="148.89" r="2.8" fill="#fff" stroke="#e2252b" stroke-width="0.95"/>
<circle cx="285.96" cy="148.81" r="2.8" fill="#fff" stroke="#e2252b" stroke-width="0.95"/>
<circle cx="292.88" cy="148.52" r="2.8" fill="#fff" stroke="#e2252b" stroke-width="0.95"/>
<circle cx="300.89" cy="148.19" r="2.8" fill="#fff" stroke="#e2252b" stroke-width="0.95"/>
<circle cx="308.9" cy="147.87" r="2.8" fill="#fff" stroke="#e2252b" stroke-width="0.95"/>
<circle cx="316.9" cy="147.54" r="2.8" fill="#fff" stroke="#e2252b" stroke-width="0.95"/>
<circle cx="324.91" cy="147.21" r="2.8" fill="#fff" stroke="#e2252b" stroke-width="0.95"/>
<circle cx="332.91" cy="146.88" r="2.8" fill="#fff" stroke="#e2252b" stroke-width="0.95"/>
<circle cx="340.92" cy="146.55" r="2.8" fill="#fff" stroke="#e2252b" stroke-width="0.95"/>
<circle cx="348.93" cy="146.23" r="2.8" fill="#fff" stroke="#e2252b" stroke-width="0.95"/>
<circle cx="356.93" cy="145.9" r="2.8" fill="#fff" stroke="#e2252b" stroke-width="0.95"/>
<circle cx="364.94" cy="145.57" r="2.8" fill="#fff" stroke="#e2252b" stroke-width="0.95"/>
<circle cx="372.95" cy="145.24" r="2.8" fill="#fff" stroke="#e2252b" stroke-width="0.95"/>
<circle cx="380.95" cy="144.91" r="2.8" fill="#fff" stroke="#e2252b" stroke-width="0.95"/>
<circle cx="388.96" cy="144.59" r="2.8" fill="#fff" stroke="#e2252b" stroke-width="0.95"/>
<circle cx="396.97" cy="144.26" r="2.8" fill="#fff" stroke="#e2252b" stroke-width="0.95"/>
<circle cx="404.97" cy="143.93" r="2.8" fill="#fff" stroke="#e2252b" stroke-width="0.95"/>
<circle cx="413.11" cy="143.6" r="2.8" fill="#fff" stroke="#e2252b" stroke-width="0.95"/>
<path d="M268.5,149.5 L268.53,148.64 L268.58,146.91 L268.84,138.73 L269.11,131.73 L269.34,126.23 L269.59,121.32 L269.83,117.14 L270.1,112.48 L270.4,109.76 L270.74,106.93 L271.15,103.54 L271.62,101.26 L272.16,98.99 L272.71,96.82 L273.25,94.96 L273.93,92.63 L274.61,90.95 L275.42,89.03 L276.37,87.33 L277.32,85.63 L278.41,83.84 L279.49,82.12 L280.71,80.61 L282.07,78.93 L283.43,78.39 L290.48,75.57 L299.44,72.98 L307.45,70.4 L316,69.11 L323.46,68.07 L332.14,67.04 L340.15,66 L348.56,65.49 L356.7,64.71 L364.85,64.19 L372.99,63.42 L381.13,62.9 L389.27,62.39 L397.41,61.87 L405.56,61.35 L413.02,60.83" stroke="#27357f" stroke-width="1.1" fill="none" />
<circle cx="269.03" cy="148.64" r="2.6" fill="#e2252b" stroke="#e2252b" stroke-width="0.3"/>
<circle cx="269.08" cy="146.91" r="2.6" fill="#e2252b" stroke="#e2252b" stroke-width="0.3"/>
<circle cx="269.34" cy="138.73" r="2.6" fill="#e2252b" stroke="#e2252b" stroke-width="0.3"/>
<circle cx="269.61" cy="131.73" r="2.6" fill="#e2252b" stroke="#e2252b" stroke-width="0.3"/>
<circle cx="269.84" cy="126.23" r="2.6" fill="#e2252b" stroke="#e2252b" stroke-width="0.3"/>
<circle cx="270.09" cy="121.32" r="2.6" fill="#e2252b" stroke="#e2252b" stroke-width="0.3"/>
<circle cx="270.33" cy="117.14" r="2.6" fill="#e2252b" stroke="#e2252b" stroke-width="0.3"/>
<circle cx="270.6" cy="112.48" r="2.6" fill="#e2252b" stroke="#e2252b" stroke-width="0.3"/>
<circle cx="270.9" cy="109.76" r="2.6" fill="#e2252b" stroke="#e2252b" stroke-width="0.3"/>
<circle cx="271.24" cy="106.93" r="2.6" fill="#e2252b" stroke="#e2252b" stroke-width="0.3"/>
<circle cx="271.65" cy="103.54" r="2.6" fill="#e2252b" stroke="#e2252b" stroke-width="0.3"/>
<circle cx="272.12" cy="101.26" r="2.6" fill="#e2252b" stroke="#e2252b" stroke-width="0.3"/>
<circle cx="272.66" cy="98.99" r="2.6" fill="#e2252b" stroke="#e2252b" stroke-width="0.3"/>
<circle cx="273.21" cy="96.82" r="2.6" fill="#e2252b" stroke="#e2252b" stroke-width="0.3"/>
<circle cx="273.75" cy="94.96" r="2.6" fill="#e2252b" stroke="#e2252b" stroke-width="0.3"/>
<circle cx="274.43" cy="92.63" r="2.6" fill="#e2252b" stroke="#e2252b" stroke-width="0.3"/>
<circle cx="275.11" cy="90.95" r="2.6" fill="#e2252b" stroke="#e2252b" stroke-width="0.3"/>
<circle cx="275.92" cy="89.03" r="2.6" fill="#e2252b" stroke="#e2252b" stroke-width="0.3"/>
<circle cx="276.87" cy="87.33" r="2.6" fill="#e2252b" stroke="#e2252b" stroke-width="0.3"/>
<circle cx="277.82" cy="85.63" r="2.6" fill="#e2252b" stroke="#e2252b" stroke-width="0.3"/>
<circle cx="278.91" cy="83.84" r="2.6" fill="#e2252b" stroke="#e2252b" stroke-width="0.3"/>
<circle cx="279.99" cy="82.12" r="2.6" fill="#e2252b" stroke="#e2252b" stroke-width="0.3"/>
<circle cx="281.21" cy="80.61" r="2.6" fill="#e2252b" stroke="#e2252b" stroke-width="0.3"/>
<circle cx="282.57" cy="78.93" r="2.6" fill="#e2252b" stroke="#e2252b" stroke-width="0.3"/>
<circle cx="283.93" cy="78.39" r="2.6" fill="#e2252b" stroke="#e2252b" stroke-width="0.3"/>
<circle cx="290.98" cy="75.57" r="2.6" fill="#e2252b" stroke="#e2252b" stroke-width="0.3"/>
<circle cx="299.94" cy="72.98" r="2.6" fill="#e2252b" stroke="#e2252b" stroke-width="0.3"/>
<circle cx="307.95" cy="70.4" r="2.6" fill="#e2252b" stroke="#e2252b" stroke-width="0.3"/>
<circle cx="316.5" cy="69.11" r="2.6" fill="#e2252b" stroke="#e2252b" stroke-width="0.3"/>
<circle cx="323.96" cy="68.07" r="2.6" fill="#e2252b" stroke="#e2252b" stroke-width="0.3"/>
<circle cx="332.64" cy="67.04" r="2.6" fill="#e2252b" stroke="#e2252b" stroke-width="0.3"/>
<circle cx="340.65" cy="66" r="2.6" fill="#e2252b" stroke="#e2252b" stroke-width="0.3"/>
<circle cx="349.06" cy="65.49" r="2.6" fill="#e2252b" stroke="#e2252b" stroke-width="0.3"/>
<circle cx="357.2" cy="64.71" r="2.6" fill="#e2252b" stroke="#e2252b" stroke-width="0.3"/>
<circle cx="365.35" cy="64.19" r="2.6" fill="#e2252b" stroke="#e2252b" stroke-width="0.3"/>
<circle cx="373.49" cy="63.42" r="2.6" fill="#e2252b" stroke="#e2252b" stroke-width="0.3"/>
<circle cx="381.63" cy="62.9" r="2.6" fill="#e2252b" stroke="#e2252b" stroke-width="0.3"/>
<circle cx="389.77" cy="62.39" r="2.6" fill="#e2252b" stroke="#e2252b" stroke-width="0.3"/>
<circle cx="397.91" cy="61.87" r="2.6" fill="#e2252b" stroke="#e2252b" stroke-width="0.3"/>
<circle cx="406.06" cy="61.35" r="2.6" fill="#e2252b" stroke="#e2252b" stroke-width="0.3"/>
<circle cx="413.52" cy="60.83" r="2.6" fill="#e2252b" stroke="#e2252b" stroke-width="0.3"/>
<rect x="255.5" y="20.5" width="176" height="142" fill="none" stroke="#1a1a1a" stroke-width="1.2" />
<line x1="252.5" y1="149.5" x2="255.5" y2="149.5" stroke="#1a1a1a" stroke-width="1.1" />
<line x1="252.5" y1="123.65" x2="255.5" y2="123.65" stroke="#1a1a1a" stroke-width="1.1" />
<line x1="252.5" y1="97.8" x2="255.5" y2="97.8" stroke="#1a1a1a" stroke-width="1.1" />
<line x1="252.5" y1="71.95" x2="255.5" y2="71.95" stroke="#1a1a1a" stroke-width="1.1" />
<line x1="252.5" y1="46.1" x2="255.5" y2="46.1" stroke="#1a1a1a" stroke-width="1.1" />
<line x1="252.5" y1="20.25" x2="255.5" y2="20.25" stroke="#1a1a1a" stroke-width="1.1" />
<line x1="253.7" y1="162.43" x2="255.5" y2="162.43" stroke="#1a1a1a" stroke-width="1.1" />
<line x1="253.7" y1="136.57" x2="255.5" y2="136.57" stroke="#1a1a1a" stroke-width="1.1" />
<line x1="253.7" y1="110.72" x2="255.5" y2="110.72" stroke="#1a1a1a" stroke-width="1.1" />
<line x1="253.7" y1="84.88" x2="255.5" y2="84.88" stroke="#1a1a1a" stroke-width="1.1" />
<line x1="253.7" y1="59.02" x2="255.5" y2="59.02" stroke="#1a1a1a" stroke-width="1.1" />
<line x1="253.7" y1="33.17" x2="255.5" y2="33.17" stroke="#1a1a1a" stroke-width="1.1" />
<line x1="269" y1="162.5" x2="269" y2="165.5" stroke="#1a1a1a" stroke-width="1.1" />
<line x1="296.14" y1="162.5" x2="296.14" y2="165.5" stroke="#1a1a1a" stroke-width="1.1" />
<line x1="323.28" y1="162.5" x2="323.28" y2="165.5" stroke="#1a1a1a" stroke-width="1.1" />
<line x1="350.42" y1="162.5" x2="350.42" y2="165.5" stroke="#1a1a1a" stroke-width="1.1" />
<line x1="377.56" y1="162.5" x2="377.56" y2="165.5" stroke="#1a1a1a" stroke-width="1.1" />
<line x1="404.7" y1="162.5" x2="404.7" y2="165.5" stroke="#1a1a1a" stroke-width="1.1" />
<line x1="431.84" y1="162.5" x2="431.84" y2="165.5" stroke="#1a1a1a" stroke-width="1.1" />
<line x1="255.43" y1="162.5" x2="255.43" y2="164.3" stroke="#1a1a1a" stroke-width="1.1" />
<line x1="282.57" y1="162.5" x2="282.57" y2="164.3" stroke="#1a1a1a" stroke-width="1.1" />
<line x1="309.71" y1="162.5" x2="309.71" y2="164.3" stroke="#1a1a1a" stroke-width="1.1" />
<line x1="336.85" y1="162.5" x2="336.85" y2="164.3" stroke="#1a1a1a" stroke-width="1.1" />
<line x1="363.99" y1="162.5" x2="363.99" y2="164.3" stroke="#1a1a1a" stroke-width="1.1" />
<line x1="391.13" y1="162.5" x2="391.13" y2="164.3" stroke="#1a1a1a" stroke-width="1.1" />
<line x1="418.27" y1="162.5" x2="418.27" y2="164.3" stroke="#1a1a1a" stroke-width="1.1" />
<text x="251.2" y="153" font-size="10.6" text-anchor="end" fill="#1a1a1a" font-family="Liberation Sans, sans-serif" font-weight="normal"  stroke="#1a1a1a" stroke-width="0.45">0.0</text>
<text x="251.2" y="127.15" font-size="10.6" text-anchor="end" fill="#1a1a1a" font-family="Liberation Sans, sans-serif" font-weight="normal"  stroke="#1a1a1a" stroke-width="0.45">1.0</text>
<text x="251.2" y="101.3" font-size="10.6" text-anchor="end" fill="#1a1a1a" font-family="Liberation Sans, sans-serif" font-weight="normal"  stroke="#1a1a1a" stroke-width="0.45">2.0</text>
<text x="251.2" y="75.45" font-size="10.6" text-anchor="end" fill="#1a1a1a" font-family="Liberation Sans, sans-serif" font-weight="normal"  stroke="#1a1a1a" stroke-width="0.45">3.0</text>
<text x="251.2" y="49.6" font-size="10.6" text-anchor="end" fill="#1a1a1a" font-family="Liberation Sans, sans-serif" font-weight="normal"  stroke="#1a1a1a" stroke-width="0.45">4.0</text>
<text x="251.2" y="23.75" font-size="10.6" text-anchor="end" fill="#1a1a1a" font-family="Liberation Sans, sans-serif" font-weight="normal"  stroke="#1a1a1a" stroke-width="0.45">5.0</text>
<text x="269" y="175.4" font-size="10" text-anchor="middle" fill="#1a1a1a" font-family="Liberation Sans, sans-serif" font-weight="normal"  stroke="#1a1a1a" stroke-width="0.45">0</text>
<text x="296.14" y="175.4" font-size="10" text-anchor="middle" fill="#1a1a1a" font-family="Liberation Sans, sans-serif" font-weight="normal"  stroke="#1a1a1a" stroke-width="0.45">20</text>
<text x="323.28" y="175.4" font-size="10" text-anchor="middle" fill="#1a1a1a" font-family="Liberation Sans, sans-serif" font-weight="normal"  stroke="#1a1a1a" stroke-width="0.45">40</text>
<text x="350.42" y="175.4" font-size="10" text-anchor="middle" fill="#1a1a1a" font-family="Liberation Sans, sans-serif" font-weight="normal"  stroke="#1a1a1a" stroke-width="0.45">60</text>
<text x="377.56" y="175.4" font-size="10" text-anchor="middle" fill="#1a1a1a" font-family="Liberation Sans, sans-serif" font-weight="normal"  stroke="#1a1a1a" stroke-width="0.45">80</text>
<text x="404.7" y="175.4" font-size="10" text-anchor="middle" fill="#1a1a1a" font-family="Liberation Sans, sans-serif" font-weight="normal"  stroke="#1a1a1a" stroke-width="0.45">100</text>
<text x="431.84" y="175.4" font-size="10" text-anchor="middle" fill="#1a1a1a" font-family="Liberation Sans, sans-serif" font-weight="normal"  stroke="#1a1a1a" stroke-width="0.45">120</text>
<text x="343.5" y="187.4" font-size="10.6" text-anchor="middle" fill="#1a1a1a" font-family="Liberation Sans, sans-serif" font-weight="normal"  stroke="#1a1a1a" stroke-width="0.45">Pressure (kPa)</text>
<text x="232.6" y="90.6" font-size="10.5" text-anchor="middle" fill="#1a1a1a" font-family="Liberation Sans, sans-serif" font-weight="normal" transform="rotate(-90 232.6 90.6)"  stroke="#1a1a1a" stroke-width="0.45">Gas Uptake (mmol/g)</text>
<text x="393" y="56.6" font-size="10" text-anchor="start" fill="#1a1a1a" font-family="Liberation Sans, sans-serif" font-weight="normal"  stroke="#1a1a1a" stroke-width="0.45">SF<tspan font-size="7" dy="3.3">6</tspan></text>
<text x="395.8" y="135.9" font-size="10" text-anchor="start" fill="#1a1a1a" font-family="Liberation Sans, sans-serif" font-weight="normal"  stroke="#1a1a1a" stroke-width="0.45">N<tspan font-size="7" dy="3.3">2</tspan></text>
<line x1="257" y1="30.2" x2="276.5" y2="30.2" stroke="#5cb6e6" stroke-width="1.2" />
<circle cx="266.8" cy="30.2" r="2.6" fill="#5cb6e6" stroke="#5cb6e6" stroke-width="0.3"/>
<text x="279" y="32.6" font-size="6.75" text-anchor="start" fill="#1a1a1a" font-family="Liberation Sans, sans-serif" font-weight="normal"  stroke="#1a1a1a" stroke-width="0.39">Al(fum)@5%Kaolin immersed in water for a month</text>
<line x1="257" y1="40.8" x2="276.5" y2="40.8" stroke="#27357f" stroke-width="1.2" />
<circle cx="266.8" cy="40.8" r="2.6" fill="#27357f" stroke="#27357f" stroke-width="0.3"/>
<text x="279" y="43.2" font-size="6.75" text-anchor="start" fill="#1a1a1a" font-family="Liberation Sans, sans-serif" font-weight="normal"  stroke="#1a1a1a" stroke-width="0.39">Al(fum)@5%Kaolin exposure to air for a month</text>
<line x1="257" y1="51.4" x2="276.5" y2="51.4" stroke="#e2252b" stroke-width="1.2" />
<circle cx="266.8" cy="51.4" r="2.6" fill="#e2252b" stroke="#e2252b" stroke-width="0.3"/>
<text x="279" y="53.8" font-size="6.75" text-anchor="start" fill="#1a1a1a" font-family="Liberation Sans, sans-serif" font-weight="normal"  stroke="#1a1a1a" stroke-width="0.39">Al(fum)@5%Kaolin</text>
<text x="442.5" y="13.8" font-size="12" text-anchor="start" fill="#1a1a1a" font-family="Liberation Sans, sans-serif" font-weight="normal"  stroke="#1a1a1a" stroke-width="0.45">C</text>
<line x1="491" y1="19.4" x2="669.4" y2="19.4" stroke="#1a1a1a" stroke-width="1.2" />
<line x1="491" y1="161.2" x2="669.4" y2="161.2" stroke="#1a1a1a" stroke-width="1.2" />
<line x1="491.6" y1="19.4" x2="491.6" y2="46.4" stroke="#1a1a1a" stroke-width="1.2" />
<line x1="491.6" y1="49.2" x2="491.6" y2="161.2" stroke="#1a1a1a" stroke-width="1.2" />
<line x1="488.7" y1="47.4" x2="494.6" y2="45.4" stroke="#1a1a1a" stroke-width="1.3" />
<line x1="488.7" y1="50.2" x2="494.6" y2="48.2" stroke="#1a1a1a" stroke-width="1.3" />
<line x1="668.8" y1="19.4" x2="668.8" y2="47" stroke="#1a1a1a" stroke-width="1.2" />
<line x1="668.8" y1="49.8" x2="668.8" y2="161.2" stroke="#1a1a1a" stroke-width="1.2" />
<line x1="665.9" y1="48" x2="671.8" y2="46" stroke="#1a1a1a" stroke-width="1.3" />
<line x1="665.9" y1="50.8" x2="671.8" y2="48.8" stroke="#1a1a1a" stroke-width="1.3" />
<line x1="488.5" y1="46.5" x2="491.5" y2="46.5" stroke="#1a1a1a" stroke-width="1.1" />
<line x1="488.5" y1="32.9" x2="491.5" y2="32.9" stroke="#1a1a1a" stroke-width="1.1" />
<line x1="488.5" y1="19.3" x2="491.5" y2="19.3" stroke="#1a1a1a" stroke-width="1.1" />
<line x1="489.7" y1="39.7" x2="491.5" y2="39.7" stroke="#1a1a1a" stroke-width="1.1" />
<line x1="489.7" y1="26.1" x2="491.5" y2="26.1" stroke="#1a1a1a" stroke-width="1.1" />
<line x1="488.5" y1="157.8" x2="491.5" y2="157.8" stroke="#1a1a1a" stroke-width="1.1" />
<line x1="488.5" y1="135.9" x2="491.5" y2="135.9" stroke="#1a1a1a" stroke-width="1.1" />
<line x1="488.5" y1="114" x2="491.5" y2="114" stroke="#1a1a1a" stroke-width="1.1" />
<line x1="488.5" y1="92.1" x2="491.5" y2="92.1" stroke="#1a1a1a" stroke-width="1.1" />
<line x1="488.5" y1="70.2" x2="491.5" y2="70.2" stroke="#1a1a1a" stroke-width="1.1" />
<line x1="489.7" y1="146.85" x2="491.5" y2="146.85" stroke="#1a1a1a" stroke-width="1.1" />
<line x1="489.7" y1="124.95" x2="491.5" y2="124.95" stroke="#1a1a1a" stroke-width="1.1" />
<line x1="489.7" y1="103.05" x2="491.5" y2="103.05" stroke="#1a1a1a" stroke-width="1.1" />
<line x1="489.7" y1="81.15" x2="491.5" y2="81.15" stroke="#1a1a1a" stroke-width="1.1" />
<line x1="489.7" y1="59.25" x2="491.5" y2="59.25" stroke="#1a1a1a" stroke-width="1.1" />
<line x1="502.5" y1="161.5" x2="502.5" y2="164.5" stroke="#1a1a1a" stroke-width="1.1" />
<line x1="528.5" y1="161.5" x2="528.5" y2="164.5" stroke="#1a1a1a" stroke-width="1.1" />
<line x1="554.5" y1="161.5" x2="554.5" y2="164.5" stroke="#1a1a1a" stroke-width="1.1" />
<line x1="580.5" y1="161.5" x2="580.5" y2="164.5" stroke="#1a1a1a" stroke-width="1.1" />
<line x1="606.5" y1="161.5" x2="606.5" y2="164.5" stroke="#1a1a1a" stroke-width="1.1" />
<line x1="632.5" y1="161.5" x2="632.5" y2="164.5" stroke="#1a1a1a" stroke-width="1.1" />
<line x1="658.5" y1="161.5" x2="658.5" y2="164.5" stroke="#1a1a1a" stroke-width="1.1" />
<line x1="515.5" y1="161.5" x2="515.5" y2="163.3" stroke="#1a1a1a" stroke-width="1.1" />
<line x1="541.5" y1="161.5" x2="541.5" y2="163.3" stroke="#1a1a1a" stroke-width="1.1" />
<line x1="567.5" y1="161.5" x2="567.5" y2="163.3" stroke="#1a1a1a" stroke-width="1.1" />
<line x1="593.5" y1="161.5" x2="593.5" y2="163.3" stroke="#1a1a1a" stroke-width="1.1" />
<line x1="619.5" y1="161.5" x2="619.5" y2="163.3" stroke="#1a1a1a" stroke-width="1.1" />
<line x1="645.5" y1="161.5" x2="645.5" y2="163.3" stroke="#1a1a1a" stroke-width="1.1" />
<text x="487" y="50" font-size="10" text-anchor="end" fill="#1a1a1a" font-family="Liberation Sans, sans-serif" font-weight="normal"  stroke="#1a1a1a" stroke-width="0.45">2x10<tspan font-size="6.5" dy="-4.6">4</tspan></text>
<text x="487" y="36.4" font-size="10" text-anchor="end" fill="#1a1a1a" font-family="Liberation Sans, sans-serif" font-weight="normal"  stroke="#1a1a1a" stroke-width="0.45">4x10<tspan font-size="6.5" dy="-4.6">4</tspan></text>
<text x="487" y="22.8" font-size="10" text-anchor="end" fill="#1a1a1a" font-family="Liberation Sans, sans-serif" font-weight="normal"  stroke="#1a1a1a" stroke-width="0.45">6x10<tspan font-size="6.5" dy="-4.6">4</tspan></text>
<text x="487" y="139.4" font-size="10" text-anchor="end" fill="#1a1a1a" font-family="Liberation Sans, sans-serif" font-weight="normal"  stroke="#1a1a1a" stroke-width="0.45">1x10<tspan font-size="6.5" dy="-4.6">3</tspan></text>
<text x="487" y="117.5" font-size="10" text-anchor="end" fill="#1a1a1a" font-family="Liberation Sans, sans-serif" font-weight="normal"  stroke="#1a1a1a" stroke-width="0.45">2x10<tspan font-size="6.5" dy="-4.6">3</tspan></text>
<text x="487" y="95.6" font-size="10" text-anchor="end" fill="#1a1a1a" font-family="Liberation Sans, sans-serif" font-weight="normal"  stroke="#1a1a1a" stroke-width="0.45">3x10<tspan font-size="6.5" dy="-4.6">3</tspan></text>
<text x="487" y="73.7" font-size="10" text-anchor="end" fill="#1a1a1a" font-family="Liberation Sans, sans-serif" font-weight="normal"  stroke="#1a1a1a" stroke-width="0.45">4x10<tspan font-size="6.5" dy="-4.6">3</tspan></text>
<text x="488" y="161.3" font-size="10" text-anchor="end" fill="#1a1a1a" font-family="Liberation Sans, sans-serif" font-weight="normal"  stroke="#1a1a1a" stroke-width="0.45">0</text>
<text x="502.5" y="174.8" font-size="10" text-anchor="middle" fill="#1a1a1a" font-family="Liberation Sans, sans-serif" font-weight="normal"  stroke="#1a1a1a" stroke-width="0.45">0.5</text>
<text x="528.5" y="174.8" font-size="10" text-anchor="middle" fill="#1a1a1a" font-family="Liberation Sans, sans-serif" font-weight="normal"  stroke="#1a1a1a" stroke-width="0.45">1.0</text>
<text x="554.5" y="174.8" font-size="10" text-anchor="middle" fill="#1a1a1a" font-family="Liberation Sans, sans-serif" font-weight="normal"  stroke="#1a1a1a" stroke-width="0.45">1.5</text>
<text x="580.5" y="174.8" font-size="10" text-anchor="middle" fill="#1a1a1a" font-family="Liberation Sans, sans-serif" font-weight="normal"  stroke="#1a1a1a" stroke-width="0.45">2.0</text>
<text x="606.5" y="174.8" font-size="10" text-anchor="middle" fill="#1a1a1a" font-family="Liberation Sans, sans-serif" font-weight="normal"  stroke="#1a1a1a" stroke-width="0.45">2.5</text>
<text x="632.5" y="174.8" font-size="10" text-anchor="middle" fill="#1a1a1a" font-family="Liberation Sans, sans-serif" font-weight="normal"  stroke="#1a1a1a" stroke-width="0.45">3.0</text>
<text x="658.5" y="174.8" font-size="10" text-anchor="middle" fill="#1a1a1a" font-family="Liberation Sans, sans-serif" font-weight="normal"  stroke="#1a1a1a" stroke-width="0.45">3.5</text>
<text x="586" y="189.3" font-size="10" text-anchor="middle" fill="#1a1a1a" font-family="Liberation Sans, sans-serif" font-weight="normal"  stroke="#1a1a1a" stroke-width="0.45">10 kPa SF<tspan font-size="6.5" dy="3.3">6</tspan><tspan dy="-3.3" dx="0.6">uptake (mmol/g)</tspan></text>
<text x="456.6" y="91.2" font-size="10" text-anchor="middle" fill="#1a1a1a" font-family="Liberation Sans, sans-serif" font-weight="normal" transform="rotate(-90 456.6 91.2)"  stroke="#1a1a1a" stroke-width="0.45">IAST selectivity</text>
<rect x="496.5" y="54.3" width="3.6" height="3.6" fill="none" stroke="#c9a27a" stroke-width="0.85" />
<text x="503.1" y="57.8" font-size="4.6" text-anchor="start" fill="#111" font-family="Liberation Sans, sans-serif" font-weight="normal"  stroke="#111" stroke-width="0.15">Na-ZSM-5</text>
<rect x="496.5" y="60.2" width="3.6" height="3.6" fill="none" stroke="#2aa37f" stroke-width="0.85" />
<text x="503.1" y="63.7" font-size="4.6" text-anchor="start" fill="#111" font-family="Liberation Sans, sans-serif" font-weight="normal"  stroke="#111" stroke-width="0.15">UiO-66</text>
<rect x="496.5" y="66.1" width="3.6" height="3.6" fill="none" stroke="#d58c9c" stroke-width="0.85" />
<text x="503.1" y="69.6" font-size="4.6" text-anchor="start" fill="#111" font-family="Liberation Sans, sans-serif" font-weight="normal"  stroke="#111" stroke-width="0.15">HKUST-1</text>
<rect x="496.5" y="72" width="3.6" height="3.6" fill="none" stroke="#9c2f6c" stroke-width="0.85" />
<text x="503.1" y="75.5" font-size="4.6" text-anchor="start" fill="#111" font-family="Liberation Sans, sans-serif" font-weight="normal"  stroke="#111" stroke-width="0.15">CAU-10-Py</text>
<rect x="496.5" y="77.9" width="3.6" height="3.6" fill="none" stroke="#c9d9bb" stroke-width="0.85" />
<text x="503.1" y="81.4" font-size="4.6" text-anchor="start" fill="#111" font-family="Liberation Sans, sans-serif" font-weight="normal"  stroke="#111" stroke-width="0.15">3D-TMTAPB-COF</text>
<rect x="496.5" y="83.8" width="3.6" height="3.6" fill="none" stroke="#b8b8cc" stroke-width="0.85" />
<text x="503.1" y="87.3" font-size="4.6" text-anchor="start" fill="#111" font-family="Liberation Sans, sans-serif" font-weight="normal"  stroke="#111" stroke-width="0.15">ACK1</text>
<rect x="496.5" y="89.7" width="3.6" height="3.6" fill="none" stroke="#c43a96" stroke-width="0.85" />
<text x="503.1" y="93.2" font-size="4.6" text-anchor="start" fill="#111" font-family="Liberation Sans, sans-serif" font-weight="normal"  stroke="#111" stroke-width="0.15">YTU-30</text>
<rect x="496.5" y="95.6" width="3.6" height="3.6" fill="none" stroke="#a6d4d0" stroke-width="0.85" />
<text x="503.1" y="99.1" font-size="4.6" text-anchor="start" fill="#111" font-family="Liberation Sans, sans-serif" font-weight="normal"  stroke="#111" stroke-width="0.15">SNNU-204</text>
<rect x="496.5" y="101.5" width="3.6" height="3.6" fill="none" stroke="#7fa67f" stroke-width="0.85" />
<text x="503.1" y="105" font-size="4.6" text-anchor="start" fill="#111" font-family="Liberation Sans, sans-serif" font-weight="normal"  stroke="#111" stroke-width="0.15">PC-750</text>
<rect x="496.5" y="107.4" width="3.6" height="3.6" fill="none" stroke="#e2d2ec" stroke-width="0.85" />
<text x="503.1" y="110.9" font-size="4.6" text-anchor="start" fill="#111" font-family="Liberation Sans, sans-serif" font-weight="normal"  stroke="#111" stroke-width="0.15">Ni(3-mpba)<tspan font-size="3.5" dy="1.5">2</tspan></text>
<rect x="496.5" y="113.3" width="3.6" height="3.6" fill="none" stroke="#a8a23a" stroke-width="0.85" />
<text x="503.1" y="116.8" font-size="4.6" text-anchor="start" fill="#111" font-family="Liberation Sans, sans-serif" font-weight="normal"  stroke="#111" stroke-width="0.15">UiO-66-Br<tspan font-size="3.5" dy="1.5">2</tspan></text>
<rect x="496.5" y="119.2" width="3.6" height="3.6" fill="none" stroke="#3e9cc0" stroke-width="0.85" />
<text x="503.1" y="122.7" font-size="4.6" text-anchor="start" fill="#111" font-family="Liberation Sans, sans-serif" font-weight="normal"  stroke="#111" stroke-width="0.15">Zn(TMBDC)(dabco)<tspan font-size="3.5" dy="1.5">0.5</tspan></text>
<rect x="539.2" y="54.3" width="3.6" height="3.6" fill="none" stroke="#6a96c0" stroke-width="0.85" />
<text x="545.5" y="57.8" font-size="4.6" text-anchor="start" fill="#111" font-family="Liberation Sans, sans-serif" font-weight="normal"  stroke="#111" stroke-width="0.15">Ni(pba)<tspan font-size="3.5" dy="1.5">2</tspan></text>
<rect x="539.2" y="60.2" width="3.6" height="3.6" fill="none" stroke="#2a9494" stroke-width="0.85" />
<text x="545.5" y="63.7" font-size="4.6" text-anchor="start" fill="#111" font-family="Liberation Sans, sans-serif" font-weight="normal"  stroke="#111" stroke-width="0.15">Zeolite-13X</text>
<rect x="539.2" y="66.1" width="3.6" height="3.6" fill="none" stroke="#222222" stroke-width="0.85" />
<text x="545.5" y="69.6" font-size="4.6" text-anchor="start" fill="#111" font-family="Liberation Sans, sans-serif" font-weight="normal"  stroke="#111" stroke-width="0.15">Ni(adc)(dabco)<tspan font-size="3.5" dy="1.5">0.5</tspan></text>
<rect x="539.2" y="72" width="3.6" height="3.6" fill="none" stroke="#2aa86a" stroke-width="0.85" />
<text x="545.5" y="75.5" font-size="4.6" text-anchor="start" fill="#111" font-family="Liberation Sans, sans-serif" font-weight="normal"  stroke="#111" stroke-width="0.15">Ni(NDC)(TED)<tspan font-size="3.5" dy="1.5">0.5</tspan></text>
<rect x="539.2" y="77.9" width="3.6" height="3.6" fill="none" stroke="#4a4ac0" stroke-width="0.85" />
<text x="545.5" y="81.4" font-size="4.6" text-anchor="start" fill="#111" font-family="Liberation Sans, sans-serif" font-weight="normal"  stroke="#111" stroke-width="0.15">Ni(ina)<tspan font-size="3.5" dy="1.5">2</tspan></text>
<rect x="539.2" y="83.8" width="3.6" height="3.6" fill="none" stroke="#5c6294" stroke-width="0.85" />
<text x="545.5" y="87.3" font-size="4.6" text-anchor="start" fill="#111" font-family="Liberation Sans, sans-serif" font-weight="normal"  stroke="#111" stroke-width="0.15">Cu-MOF-NH<tspan font-size="3.5" dy="1.5">2</tspan></text>
<rect x="539.2" y="89.7" width="3.6" height="3.6" fill="none" stroke="#5ca05c" stroke-width="0.85" />
<text x="545.5" y="93.2" font-size="4.6" text-anchor="start" fill="#111" font-family="Liberation Sans, sans-serif" font-weight="normal"  stroke="#111" stroke-width="0.15">C-PVDC-800</text>
<rect x="539.2" y="95.6" width="3.6" height="3.6" fill="none" stroke="#3a5a94" stroke-width="0.85" />
<text x="545.5" y="99.1" font-size="4.6" text-anchor="start" fill="#111" font-family="Liberation Sans, sans-serif" font-weight="normal"  stroke="#111" stroke-width="0.15">SBMOF-1</text>
<rect x="539.2" y="101.5" width="3.6" height="3.6" fill="none" stroke="#9a2aa8" stroke-width="0.85" />
<text x="545.5" y="105" font-size="4.6" text-anchor="start" fill="#111" font-family="Liberation Sans, sans-serif" font-weight="normal"  stroke="#111" stroke-width="0.15">Mg-MOF-74</text>
<rect x="539.2" y="107.4" width="3.6" height="3.6" fill="none" stroke="#b04aa8" stroke-width="0.85" />
<text x="545.5" y="110.9" font-size="4.6" text-anchor="start" fill="#111" font-family="Liberation Sans, sans-serif" font-weight="normal"  stroke="#111" stroke-width="0.15">Co-MOF-74</text>
<rect x="539.2" y="113.3" width="3.6" height="3.6" fill="none" stroke="#b88a64" stroke-width="0.85" />
<text x="545.5" y="116.8" font-size="4.6" text-anchor="start" fill="#111" font-family="Liberation Sans, sans-serif" font-weight="normal"  stroke="#111" stroke-width="0.15">Zn-MOF-74</text>
<rect x="505.2" y="154.3" width="4" height="4" fill="none" stroke="#a6d4d0" stroke-width="1" />
<rect x="513" y="150.2" width="4" height="4" fill="none" stroke="#a8a23a" stroke-width="1" />
<rect x="519.2" y="153.1" width="4" height="4" fill="none" stroke="#c9a27a" stroke-width="1" />
<rect x="516.9" y="152.5" width="4" height="4" fill="none" stroke="#2aa37f" stroke-width="1" />
<rect x="518.5" y="148.1" width="4" height="4" fill="none" stroke="#c43a96" stroke-width="1" />
<rect x="520.7" y="148.1" width="4" height="4" fill="none" stroke="#4a4ac0" stroke-width="1" />
<rect x="525.6" y="154.3" width="4" height="4" fill="none" stroke="#2a9494" stroke-width="1" />
<rect x="532.9" y="150.6" width="4" height="4" fill="none" stroke="#9c2f6c" stroke-width="1" />
<rect x="544.6" y="154" width="4" height="4" fill="none" stroke="#b88a64" stroke-width="1" />
<rect x="545.5" y="153.5" width="4" height="4" fill="none" stroke="#d58c9c" stroke-width="1" />
<rect x="562.6" y="150.6" width="4" height="4" fill="none" stroke="#3e9cc0" stroke-width="1" />
<rect x="567.7" y="140.4" width="4" height="4" fill="none" stroke="#b8b8cc" stroke-width="1" />
<rect x="567.7" y="150.6" width="4" height="4" fill="none" stroke="#e2d2ec" stroke-width="1" />
<rect x="581.4" y="154.6" width="4" height="4" fill="none" stroke="#9a2aa8" stroke-width="1" />
<rect x="583.8" y="154.6" width="4" height="4" fill="none" stroke="#b04aa8" stroke-width="1" />
<rect x="590.2" y="135.2" width="4" height="4" fill="none" stroke="#222222" stroke-width="1" />
<rect x="618.8" y="138.9" width="4" height="4" fill="none" stroke="#2aa86a" stroke-width="1" />
<rect x="593.6" y="145.6" width="4" height="4" fill="none" stroke="#c9d9bb" stroke-width="1" />
<rect x="598.4" y="147.2" width="4" height="4" fill="none" stroke="#3a5a94" stroke-width="1" />
<rect x="603.2" y="150.1" width="4" height="4" fill="none" stroke="#3a9c9c" stroke-width="1" />
<rect x="586.2" y="149.8" width="4" height="4" fill="none" stroke="#5ca05c" stroke-width="1" />
<rect x="589.9" y="147.7" width="4" height="4" fill="none" stroke="#c9d9bb" stroke-width="1" />
<rect x="650.4" y="149.3" width="4" height="4" fill="none" stroke="#5c6294" stroke-width="1" />
<polygon points="632.4,22.2 633.22,24.47 635.63,24.55 633.73,26.03 634.4,28.35 632.4,27 630.4,28.35 631.07,26.03 629.17,24.55 631.58,24.47" fill="#e0203a"/>
<polygon points="622,33.6 622.82,35.87 625.23,35.95 623.33,37.43 624,39.75 622,38.4 620,39.75 620.67,37.43 618.77,35.95 621.18,35.87" fill="#e0203a"/>
<polygon points="622,37 622.82,39.27 625.23,39.35 623.33,40.83 624,43.15 622,41.8 620,43.15 620.67,40.83 618.77,39.35 621.18,39.27" fill="#e0203a"/>
<text x="638" y="27" font-size="6.2" text-anchor="start" fill="#d82040" font-family="Liberation Sans, sans-serif" font-weight="normal"  stroke="#d82040" stroke-width="0.37">Al(fum)</text>
<text x="596.4" y="33.2" font-size="6.15" text-anchor="start" fill="#d82040" font-family="Liberation Sans, sans-serif" font-weight="normal"  stroke="#d82040" stroke-width="0.37">Al(fum)@5%Kaolin</text>
<text x="603" y="48.8" font-size="6.0" text-anchor="start" fill="#d82040" font-family="Liberation Sans, sans-serif" font-weight="normal"  stroke="#d82040" stroke-width="0.37">Al(fum)@2%HPC</text>
<text x="3.3" y="200.6" font-size="12" text-anchor="start" fill="#1a1a1a" font-family="Liberation Sans, sans-serif" font-weight="normal"  stroke="#1a1a1a" stroke-width="0.45">D</text>
<path d="M39,334.4 L44.7,231 L176,231 L181,236.5 L184,237 L207,237" stroke="#3f9f9c" stroke-width="0.9" fill="none" />
<path d="M41.5,334.4 L46.5,229.8 L179,229.8 L183.5,238.8 L207,238.8" stroke="#e4532a" stroke-width="0.9" fill="none" />
<path d="M41.3,334.4 L47,229.8 L176.5,229.8 L181.7,238.8 L207,238.8" stroke="#1f2f78" stroke-width="0.9" fill="none" />
<path d="M39,334.4 L160,334.4 L166,333.4 L170,331.8 L173.4,326 L176.5,318.5 L178.4,306 L180,288 L182,263 L183,250 L186,247 L188,238.8 L207,238.8" stroke="#3f9f9c" stroke-width="0.9" fill="none" />
<path d="M41,334.4 L172.8,334.4 L178.4,333.2 L181.5,290 L184.5,250.3 L186.5,238.8" stroke="#e4532a" stroke-width="0.9" fill="none" />
<path d="M41,334.4 L166,334.4 L171.6,332.8 L176.5,313 L179,290 L181,262 L181.7,246.3 L183,238.8" stroke="#1f2f78" stroke-width="0.9" fill="none" />
<circle cx="46.95" cy="334.4" r="2.5" fill="#e4532a" stroke="#e4532a" stroke-width="0.3"/>
<circle cx="52.45" cy="334.4" r="2.5" fill="#e4532a" stroke="#e4532a" stroke-width="0.3"/>
<circle cx="57.95" cy="334.4" r="2.5" fill="#e4532a" stroke="#e4532a" stroke-width="0.3"/>
<circle cx="63.45" cy="334.4" r="2.5" fill="#e4532a" stroke="#e4532a" stroke-width="0.3"/>
<circle cx="68.95" cy="334.4" r="2.5" fill="#e4532a" stroke="#e4532a" stroke-width="0.3"/>
<circle cx="74.45" cy="334.4" r="2.5" fill="#e4532a" stroke="#e4532a" stroke-width="0.3"/>
<circle cx="79.95" cy="334.4" r="2.5" fill="#e4532a" stroke="#e4532a" stroke-width="0.3"/>
<circle cx="85.45" cy="334.4" r="2.5" fill="#e4532a" stroke="#e4532a" stroke-width="0.3"/>
<circle cx="90.95" cy="334.4" r="2.5" fill="#e4532a" stroke="#e4532a" stroke-width="0.3"/>
<circle cx="96.45" cy="334.4" r="2.5" fill="#e4532a" stroke="#e4532a" stroke-width="0.3"/>
<circle cx="101.95" cy="334.4" r="2.5" fill="#e4532a" stroke="#e4532a" stroke-width="0.3"/>
<circle cx="107.45" cy="334.4" r="2.5" fill="#e4532a" stroke="#e4532a" stroke-width="0.3"/>
<circle cx="112.95" cy="334.4" r="2.5" fill="#e4532a" stroke="#e4532a" stroke-width="0.3"/>
<circle cx="118.45" cy="334.4" r="2.5" fill="#e4532a" stroke="#e4532a" stroke-width="0.3"/>
<circle cx="123.95" cy="334.4" r="2.5" fill="#e4532a" stroke="#e4532a" stroke-width="0.3"/>
<circle cx="129.45" cy="334.4" r="2.5" fill="#e4532a" stroke="#e4532a" stroke-width="0.3"/>
<circle cx="134.95" cy="334.4" r="2.5" fill="#e4532a" stroke="#e4532a" stroke-width="0.3"/>
<circle cx="140.45" cy="334.4" r="2.5" fill="#e4532a" stroke="#e4532a" stroke-width="0.3"/>
<circle cx="145.95" cy="334.4" r="2.5" fill="#e4532a" stroke="#e4532a" stroke-width="0.3"/>
<circle cx="151.45" cy="334.4" r="2.5" fill="#e4532a" stroke="#e4532a" stroke-width="0.3"/>
<circle cx="156.95" cy="334.4" r="2.5" fill="#e4532a" stroke="#e4532a" stroke-width="0.3"/>
<circle cx="162.45" cy="334.4" r="2.5" fill="#e4532a" stroke="#e4532a" stroke-width="0.3"/>
<circle cx="167.95" cy="334.4" r="2.5" fill="#e4532a" stroke="#e4532a" stroke-width="0.3"/>
<circle cx="44.2" cy="334.4" r="2.6" fill="#1f2f78" stroke="#1f2f78" stroke-width="0.3"/>
<circle cx="49.7" cy="334.4" r="2.6" fill="#1f2f78" stroke="#1f2f78" stroke-width="0.3"/>
<circle cx="55.2" cy="334.4" r="2.6" fill="#1f2f78" stroke="#1f2f78" stroke-width="0.3"/>
<circle cx="60.7" cy="334.4" r="2.6" fill="#1f2f78" stroke="#1f2f78" stroke-width="0.3"/>
<circle cx="66.2" cy="334.4" r="2.6" fill="#1f2f78" stroke="#1f2f78" stroke-width="0.3"/>
<circle cx="71.7" cy="334.4" r="2.6" fill="#1f2f78" stroke="#1f2f78" stroke-width="0.3"/>
<circle cx="77.2" cy="334.4" r="2.6" fill="#1f2f78" stroke="#1f2f78" stroke-width="0.3"/>
<circle cx="82.7" cy="334.4" r="2.6" fill="#1f2f78" stroke="#1f2f78" stroke-width="0.3"/>
<circle cx="88.2" cy="334.4" r="2.6" fill="#1f2f78" stroke="#1f2f78" stroke-width="0.3"/>
<circle cx="93.7" cy="334.4" r="2.6" fill="#1f2f78" stroke="#1f2f78" stroke-width="0.3"/>
<circle cx="99.2" cy="334.4" r="2.6" fill="#1f2f78" stroke="#1f2f78" stroke-width="0.3"/>
<circle cx="104.7" cy="334.4" r="2.6" fill="#1f2f78" stroke="#1f2f78" stroke-width="0.3"/>
<circle cx="110.2" cy="334.4" r="2.6" fill="#1f2f78" stroke="#1f2f78" stroke-width="0.3"/>
<circle cx="115.7" cy="334.4" r="2.6" fill="#1f2f78" stroke="#1f2f78" stroke-width="0.3"/>
<circle cx="121.2" cy="334.4" r="2.6" fill="#1f2f78" stroke="#1f2f78" stroke-width="0.3"/>
<circle cx="126.7" cy="334.4" r="2.6" fill="#1f2f78" stroke="#1f2f78" stroke-width="0.3"/>
<circle cx="132.2" cy="334.4" r="2.6" fill="#1f2f78" stroke="#1f2f78" stroke-width="0.3"/>
<circle cx="137.7" cy="334.4" r="2.6" fill="#1f2f78" stroke="#1f2f78" stroke-width="0.3"/>
<circle cx="143.2" cy="334.4" r="2.6" fill="#1f2f78" stroke="#1f2f78" stroke-width="0.3"/>
<circle cx="148.7" cy="334.4" r="2.6" fill="#1f2f78" stroke="#1f2f78" stroke-width="0.3"/>
<circle cx="154.2" cy="334.4" r="2.6" fill="#1f2f78" stroke="#1f2f78" stroke-width="0.3"/>
<circle cx="159.7" cy="334.4" r="2.6" fill="#1f2f78" stroke="#1f2f78" stroke-width="0.3"/>
<circle cx="165.2" cy="334.4" r="2.6" fill="#1f2f78" stroke="#1f2f78" stroke-width="0.3"/>
<circle cx="166" cy="333.4" r="2.4" fill="#3f9f9c" stroke="#3f9f9c" stroke-width="0.3"/>
<circle cx="170" cy="331.8" r="2.4" fill="#3f9f9c" stroke="#3f9f9c" stroke-width="0.3"/>
<circle cx="173.4" cy="326" r="2.4" fill="#3f9f9c" stroke="#3f9f9c" stroke-width="0.3"/>
<circle cx="176.5" cy="318.5" r="2.4" fill="#3f9f9c" stroke="#3f9f9c" stroke-width="0.3"/>
<circle cx="178.4" cy="306" r="2.4" fill="#3f9f9c" stroke="#3f9f9c" stroke-width="0.3"/>
<circle cx="180" cy="288" r="2.4" fill="#3f9f9c" stroke="#3f9f9c" stroke-width="0.3"/>
<circle cx="182" cy="263" r="2.4" fill="#3f9f9c" stroke="#3f9f9c" stroke-width="0.3"/>
<circle cx="183" cy="250" r="2.4" fill="#3f9f9c" stroke="#3f9f9c" stroke-width="0.3"/>
<circle cx="186" cy="247" r="2.4" fill="#3f9f9c" stroke="#3f9f9c" stroke-width="0.3"/>
<circle cx="172.8" cy="334.4" r="2.5" fill="#e4532a" stroke="#e4532a" stroke-width="0.3"/>
<circle cx="178.4" cy="333.2" r="2.5" fill="#e4532a" stroke="#e4532a" stroke-width="0.3"/>
<circle cx="184.5" cy="250.3" r="2.5" fill="#e4532a" stroke="#e4532a" stroke-width="0.3"/>
<circle cx="171.6" cy="332.8" r="2.5" fill="#1f2f78" stroke="#1f2f78" stroke-width="0.3"/>
<circle cx="176.5" cy="313" r="2.5" fill="#1f2f78" stroke="#1f2f78" stroke-width="0.3"/>
<circle cx="181" cy="262" r="2.5" fill="#1f2f78" stroke="#1f2f78" stroke-width="0.3"/>
<circle cx="181.7" cy="246.3" r="2.5" fill="#1f2f78" stroke="#1f2f78" stroke-width="0.3"/>
<circle cx="39.5" cy="334.4" r="2.2" fill="#fff" stroke="#3f9f9c" stroke-width="0.9"/>
<circle cx="41.5" cy="334.4" r="2.2" fill="#fff" stroke="#1f2f78" stroke-width="0.9"/>
<circle cx="47" cy="229.8" r="2.35" fill="#fff" stroke="#1f2f78" stroke-width="1.35"/>
<circle cx="52.5" cy="229.8" r="2.35" fill="#fff" stroke="#1f2f78" stroke-width="1.35"/>
<circle cx="58" cy="229.8" r="2.35" fill="#fff" stroke="#1f2f78" stroke-width="1.35"/>
<circle cx="63.5" cy="229.8" r="2.35" fill="#fff" stroke="#1f2f78" stroke-width="1.35"/>
<circle cx="69" cy="229.8" r="2.35" fill="#fff" stroke="#1f2f78" stroke-width="1.35"/>
<circle cx="74.5" cy="229.8" r="2.35" fill="#fff" stroke="#1f2f78" stroke-width="1.35"/>
<circle cx="80" cy="229.8" r="2.35" fill="#fff" stroke="#1f2f78" stroke-width="1.35"/>
<circle cx="85.5" cy="229.8" r="2.35" fill="#fff" stroke="#1f2f78" stroke-width="1.35"/>
<circle cx="91" cy="229.8" r="2.35" fill="#fff" stroke="#1f2f78" stroke-width="1.35"/>
<circle cx="96.5" cy="229.8" r="2.35" fill="#fff" stroke="#1f2f78" stroke-width="1.35"/>
<circle cx="102" cy="229.8" r="2.35" fill="#fff" stroke="#1f2f78" stroke-width="1.35"/>
<circle cx="107.5" cy="229.8" r="2.35" fill="#fff" stroke="#1f2f78" stroke-width="1.35"/>
<circle cx="113" cy="229.8" r="2.35" fill="#fff" stroke="#1f2f78" stroke-width="1.35"/>
<circle cx="118.5" cy="229.8" r="2.35" fill="#fff" stroke="#1f2f78" stroke-width="1.35"/>
<circle cx="124" cy="229.8" r="2.35" fill="#fff" stroke="#1f2f78" stroke-width="1.35"/>
<circle cx="129.5" cy="229.8" r="2.35" fill="#fff" stroke="#1f2f78" stroke-width="1.35"/>
<circle cx="135" cy="229.8" r="2.35" fill="#fff" stroke="#1f2f78" stroke-width="1.35"/>
<circle cx="140.5" cy="229.8" r="2.35" fill="#fff" stroke="#1f2f78" stroke-width="1.35"/>
<circle cx="146" cy="229.8" r="2.35" fill="#fff" stroke="#1f2f78" stroke-width="1.35"/>
<circle cx="151.5" cy="229.8" r="2.35" fill="#fff" stroke="#1f2f78" stroke-width="1.35"/>
<circle cx="157" cy="229.8" r="2.35" fill="#fff" stroke="#1f2f78" stroke-width="1.35"/>
<circle cx="162.5" cy="229.8" r="2.35" fill="#fff" stroke="#1f2f78" stroke-width="1.35"/>
<circle cx="168" cy="229.8" r="2.35" fill="#fff" stroke="#1f2f78" stroke-width="1.35"/>
<circle cx="173.5" cy="229.8" r="2.35" fill="#fff" stroke="#1f2f78" stroke-width="1.35"/>
<circle cx="44.7" cy="231.5" r="2.2" fill="#fff" stroke="#3f9f9c" stroke-width="1"/>
<circle cx="182.5" cy="238.8" r="2.35" fill="#fff" stroke="#1f2f78" stroke-width="1.35"/>
<circle cx="188.1" cy="238.8" r="2.35" fill="#fff" stroke="#1f2f78" stroke-width="1.35"/>
<circle cx="193.7" cy="238.8" r="2.35" fill="#fff" stroke="#1f2f78" stroke-width="1.35"/>
<circle cx="199.3" cy="238.8" r="2.35" fill="#fff" stroke="#1f2f78" stroke-width="1.35"/>
<circle cx="204.9" cy="238.8" r="2.35" fill="#fff" stroke="#1f2f78" stroke-width="1.35"/>
<circle cx="207.4" cy="238.8" r="2.2" fill="#fff" stroke="#3f9f9c" stroke-width="1.1"/>
<rect x="34.5" y="206.5" width="177" height="142" fill="none" stroke="#1a1a1a" stroke-width="1.2" />
<line x1="31.5" y1="334.4" x2="34.5" y2="334.4" stroke="#1a1a1a" stroke-width="1.1" />
<line x1="31.5" y1="305.96" x2="34.5" y2="305.96" stroke="#1a1a1a" stroke-width="1.1" />
<line x1="31.5" y1="277.52" x2="34.5" y2="277.52" stroke="#1a1a1a" stroke-width="1.1" />
<line x1="31.5" y1="249.08" x2="34.5" y2="249.08" stroke="#1a1a1a" stroke-width="1.1" />
<line x1="31.5" y1="220.64" x2="34.5" y2="220.64" stroke="#1a1a1a" stroke-width="1.1" />
<line x1="32.7" y1="348.62" x2="34.5" y2="348.62" stroke="#1a1a1a" stroke-width="1.1" />
<line x1="32.7" y1="320.18" x2="34.5" y2="320.18" stroke="#1a1a1a" stroke-width="1.1" />
<line x1="32.7" y1="291.74" x2="34.5" y2="291.74" stroke="#1a1a1a" stroke-width="1.1" />
<line x1="32.7" y1="263.3" x2="34.5" y2="263.3" stroke="#1a1a1a" stroke-width="1.1" />
<line x1="32.7" y1="234.86" x2="34.5" y2="234.86" stroke="#1a1a1a" stroke-width="1.1" />
<line x1="32.7" y1="206.42" x2="34.5" y2="206.42" stroke="#1a1a1a" stroke-width="1.1" />
<line x1="41.2" y1="348.5" x2="41.2" y2="351.5" stroke="#1a1a1a" stroke-width="1.1" />
<line x1="75.2" y1="348.5" x2="75.2" y2="351.5" stroke="#1a1a1a" stroke-width="1.1" />
<line x1="109.2" y1="348.5" x2="109.2" y2="351.5" stroke="#1a1a1a" stroke-width="1.1" />
<line x1="143.2" y1="348.5" x2="143.2" y2="351.5" stroke="#1a1a1a" stroke-width="1.1" />
<line x1="177.2" y1="348.5" x2="177.2" y2="351.5" stroke="#1a1a1a" stroke-width="1.1" />
<line x1="211.2" y1="348.5" x2="211.2" y2="351.5" stroke="#1a1a1a" stroke-width="1.1" />
<line x1="58.2" y1="348.5" x2="58.2" y2="350.3" stroke="#1a1a1a" stroke-width="1.1" />
<line x1="92.2" y1="348.5" x2="92.2" y2="350.3" stroke="#1a1a1a" stroke-width="1.1" />
<line x1="126.2" y1="348.5" x2="126.2" y2="350.3" stroke="#1a1a1a" stroke-width="1.1" />
<line x1="160.2" y1="348.5" x2="160.2" y2="350.3" stroke="#1a1a1a" stroke-width="1.1" />
<line x1="194.2" y1="348.5" x2="194.2" y2="350.3" stroke="#1a1a1a" stroke-width="1.1" />
<text x="30.2" y="337.7" font-size="9.4" text-anchor="end" fill="#1a1a1a" font-family="Liberation Sans, sans-serif" font-weight="normal"  stroke="#1a1a1a" stroke-width="0.45">0.0</text>
<text x="30.2" y="309.26" font-size="9.4" text-anchor="end" fill="#1a1a1a" font-family="Liberation Sans, sans-serif" font-weight="normal"  stroke="#1a1a1a" stroke-width="0.45">0.3</text>
<text x="30.2" y="280.82" font-size="9.4" text-anchor="end" fill="#1a1a1a" font-family="Liberation Sans, sans-serif" font-weight="normal"  stroke="#1a1a1a" stroke-width="0.45">0.6</text>
<text x="30.2" y="252.38" font-size="9.4" text-anchor="end" fill="#1a1a1a" font-family="Liberation Sans, sans-serif" font-weight="normal"  stroke="#1a1a1a" stroke-width="0.45">0.9</text>
<text x="30.2" y="223.94" font-size="9.4" text-anchor="end" fill="#1a1a1a" font-family="Liberation Sans, sans-serif" font-weight="normal"  stroke="#1a1a1a" stroke-width="0.45">1.2</text>
<text x="41.2" y="361.2" font-size="9.2" text-anchor="middle" fill="#1a1a1a" font-family="Liberation Sans, sans-serif" font-weight="normal"  stroke="#1a1a1a" stroke-width="0.45">0</text>
<text x="75.2" y="361.2" font-size="9.2" text-anchor="middle" fill="#1a1a1a" font-family="Liberation Sans, sans-serif" font-weight="normal"  stroke="#1a1a1a" stroke-width="0.45">50</text>
<text x="109.2" y="361.2" font-size="9.2" text-anchor="middle" fill="#1a1a1a" font-family="Liberation Sans, sans-serif" font-weight="normal"  stroke="#1a1a1a" stroke-width="0.45">100</text>
<text x="143.2" y="361.2" font-size="9.2" text-anchor="middle" fill="#1a1a1a" font-family="Liberation Sans, sans-serif" font-weight="normal"  stroke="#1a1a1a" stroke-width="0.45">150</text>
<text x="177.2" y="361.2" font-size="9.2" text-anchor="middle" fill="#1a1a1a" font-family="Liberation Sans, sans-serif" font-weight="normal"  stroke="#1a1a1a" stroke-width="0.45">200</text>
<text x="211.2" y="361.2" font-size="9.2" text-anchor="middle" fill="#1a1a1a" font-family="Liberation Sans, sans-serif" font-weight="normal"  stroke="#1a1a1a" stroke-width="0.45">250</text>
<text x="122.5" y="374.4" font-size="10.6" text-anchor="middle" fill="#1a1a1a" font-family="Liberation Sans, sans-serif" font-weight="normal"  stroke="#1a1a1a" stroke-width="0.45">Time (min/g)</text>
<text x="12" y="278.8" font-size="10.6" text-anchor="middle" fill="#1a1a1a" font-family="Liberation Sans, sans-serif" font-weight="normal" transform="rotate(-90 12 278.8)"  stroke="#1a1a1a" stroke-width="0.45">C<tspan font-size="7" dy="3.4">A</tspan><tspan dy="-3.4">/C</tspan><tspan font-size="7" dy="3.4">0</tspan></text>
<text x="42" y="219.8" font-size="7.6" text-anchor="start" fill="#1a1a1a" font-family="Liberation Sans, sans-serif" font-weight="normal"  stroke="#1a1a1a" stroke-width="0.41">10/90 (v/v) SF<tspan font-size="5" dy="1.8">6</tspan><tspan dy="-1.8">/N</tspan><tspan font-size="5" dy="1.8">2</tspan><tspan dy="-1.8"> mixture</tspan></text>
<text x="190.6" y="223.6" font-size="9.6" text-anchor="start" fill="#1a1a1a" font-family="Liberation Sans, sans-serif" font-weight="normal"  stroke="#1a1a1a" stroke-width="0.6">N<tspan font-size="7" dy="3">2</tspan></text>
<text x="187" y="334" font-size="10" text-anchor="start" fill="#1a1a1a" font-family="Liberation Sans, sans-serif" font-weight="normal"  stroke="#1a1a1a" stroke-width="0.45">SF<tspan font-size="7" dy="3.3">6</tspan></text>
<line x1="51" y1="296" x2="67" y2="296" stroke="#e4532a" stroke-width="0.9" />
<circle cx="59" cy="296" r="2.3" fill="#e4532a" stroke="#e4532a" stroke-width="0.3"/>
<text x="69.6" y="298.3" font-size="6.3" text-anchor="start" fill="#1a1a1a" font-family="Liberation Sans, sans-serif" font-weight="normal"  stroke="#1a1a1a" stroke-width="0.38">Al(fum)</text>
<line x1="51" y1="305.5" x2="67" y2="305.5" stroke="#3f9f9c" stroke-width="0.9" />
<circle cx="59" cy="305.5" r="2.3" fill="#3f9f9c" stroke="#3f9f9c" stroke-width="0.3"/>
<text x="69.6" y="307.8" font-size="6.3" text-anchor="start" fill="#1a1a1a" font-family="Liberation Sans, sans-serif" font-weight="normal"  stroke="#1a1a1a" stroke-width="0.38">Al(fum)@2%HPC</text>
<line x1="51" y1="315" x2="67" y2="315" stroke="#1f2f78" stroke-width="0.9" />
<circle cx="59" cy="315" r="2.3" fill="#1f2f78" stroke="#1f2f78" stroke-width="0.3"/>
<text x="69.6" y="317.3" font-size="6.3" text-anchor="start" fill="#1a1a1a" font-family="Liberation Sans, sans-serif" font-weight="normal"  stroke="#1a1a1a" stroke-width="0.38">Al(fum)@5%Kaolin</text>
<text x="229.8" y="200.2" font-size="12" text-anchor="start" fill="#1a1a1a" font-family="Liberation Sans, sans-serif" font-weight="normal"  stroke="#1a1a1a" stroke-width="0.45">E</text>
<defs><linearGradient id="gg" x1="0" y1="0" x2="0" y2="1"><stop offset="0" stop-color="#dcdcdc"/><stop offset="0.5" stop-color="#b4b4b4"/><stop offset="1" stop-color="#5c5c5c"/></linearGradient><linearGradient id="gr" x1="0" y1="0" x2="0" y2="1"><stop offset="0" stop-color="#ea2029"/><stop offset="0.35" stop-color="#e2282b"/><stop offset="0.68" stop-color="#c9522f"/><stop offset="1" stop-color="#b4603a"/></linearGradient><linearGradient id="gb" x1="0" y1="0" x2="0" y2="1"><stop offset="0" stop-color="#bce6f8"/><stop offset="0.4" stop-color="#a2dcea"/><stop offset="0.7" stop-color="#7ccac6"/><stop offset="1" stop-color="#56b6a4"/></linearGradient></defs>
<rect x="260" y="322.74" width="10" height="24.96" fill="url(#gg)" stroke="#3a3a3a" stroke-width="0.9" />
<rect x="272.5" y="311.2" width="10" height="36.5" fill="url(#gg)" stroke="#3a3a3a" stroke-width="0.9" />
<rect x="285" y="297.3" width="10" height="50.4" fill="url(#gg)" stroke="#3a3a3a" stroke-width="0.9" />
<rect x="297.5" y="296.83" width="10" height="50.87" fill="url(#gg)" stroke="#3a3a3a" stroke-width="0.9" />
<rect x="310" y="275.64" width="10" height="72.06" fill="url(#gg)" stroke="#3a3a3a" stroke-width="0.9" />
<rect x="322.5" y="257.74" width="10" height="89.96" fill="url(#gg)" stroke="#3a3a3a" stroke-width="0.9" />
<rect x="335" y="253.5" width="10" height="94.2" fill="url(#gg)" stroke="#3a3a3a" stroke-width="0.9" />
<rect x="347.5" y="249.73" width="10" height="97.97" fill="url(#gg)" stroke="#3a3a3a" stroke-width="0.9" />
<rect x="360" y="248.79" width="10" height="98.91" fill="url(#gg)" stroke="#3a3a3a" stroke-width="0.9" />
<rect x="372.5" y="239.37" width="10" height="108.33" fill="url(#gg)" stroke="#3a3a3a" stroke-width="0.9" />
<rect x="385" y="227.59" width="10" height="120.1" fill="url(#gg)" stroke="#3a3a3a" stroke-width="0.9" />
<rect x="397.5" y="221.47" width="10" height="126.23" fill="url(#gr)" stroke="#3a3a3a" stroke-width="0.9" />
<rect x="410" y="219.59" width="10" height="128.11" fill="url(#gr)" stroke="#3a3a3a" stroke-width="0.9" />
<rect x="422.5" y="218.17" width="10" height="129.53" fill="url(#gr)" stroke="#3a3a3a" stroke-width="0.9" />
<rect x="258.5" y="206.5" width="176" height="141" fill="none" stroke="#1a1a1a" stroke-width="1.2" />
<line x1="255.5" y1="347.7" x2="258.5" y2="347.7" stroke="#1a1a1a" stroke-width="1.1" />
<line x1="255.5" y1="324.15" x2="258.5" y2="324.15" stroke="#1a1a1a" stroke-width="1.1" />
<line x1="255.5" y1="300.6" x2="258.5" y2="300.6" stroke="#1a1a1a" stroke-width="1.1" />
<line x1="255.5" y1="277.05" x2="258.5" y2="277.05" stroke="#1a1a1a" stroke-width="1.1" />
<line x1="255.5" y1="253.5" x2="258.5" y2="253.5" stroke="#1a1a1a" stroke-width="1.1" />
<line x1="255.5" y1="229.95" x2="258.5" y2="229.95" stroke="#1a1a1a" stroke-width="1.1" />
<line x1="255.5" y1="206.4" x2="258.5" y2="206.4" stroke="#1a1a1a" stroke-width="1.1" />
<line x1="256.7" y1="335.93" x2="258.5" y2="335.93" stroke="#1a1a1a" stroke-width="1.1" />
<line x1="256.7" y1="312.38" x2="258.5" y2="312.38" stroke="#1a1a1a" stroke-width="1.1" />
<line x1="256.7" y1="288.82" x2="258.5" y2="288.82" stroke="#1a1a1a" stroke-width="1.1" />
<line x1="256.7" y1="265.27" x2="258.5" y2="265.27" stroke="#1a1a1a" stroke-width="1.1" />
<line x1="256.7" y1="241.72" x2="258.5" y2="241.72" stroke="#1a1a1a" stroke-width="1.1" />
<line x1="256.7" y1="218.17" x2="258.5" y2="218.17" stroke="#1a1a1a" stroke-width="1.1" />
<text x="254" y="351" font-size="9.3" text-anchor="end" fill="#1a1a1a" font-family="Liberation Sans, sans-serif" font-weight="normal"  stroke="#1a1a1a" stroke-width="0.45">0.0</text>
<text x="254" y="327.45" font-size="9.3" text-anchor="end" fill="#1a1a1a" font-family="Liberation Sans, sans-serif" font-weight="normal"  stroke="#1a1a1a" stroke-width="0.45">0.5</text>
<text x="254" y="303.9" font-size="9.3" text-anchor="end" fill="#1a1a1a" font-family="Liberation Sans, sans-serif" font-weight="normal"  stroke="#1a1a1a" stroke-width="0.45">1.0</text>
<text x="254" y="280.35" font-size="9.3" text-anchor="end" fill="#1a1a1a" font-family="Liberation Sans, sans-serif" font-weight="normal"  stroke="#1a1a1a" stroke-width="0.45">1.5</text>
<text x="254" y="256.8" font-size="9.3" text-anchor="end" fill="#1a1a1a" font-family="Liberation Sans, sans-serif" font-weight="normal"  stroke="#1a1a1a" stroke-width="0.45">2.0</text>
<text x="254" y="233.25" font-size="9.3" text-anchor="end" fill="#1a1a1a" font-family="Liberation Sans, sans-serif" font-weight="normal"  stroke="#1a1a1a" stroke-width="0.45">2.5</text>
<text x="254" y="209.7" font-size="9.3" text-anchor="end" fill="#1a1a1a" font-family="Liberation Sans, sans-serif" font-weight="normal"  stroke="#1a1a1a" stroke-width="0.45">3.0</text>
<text x="235" y="277" font-size="10.4" text-anchor="middle" fill="#1a1a1a" font-family="Liberation Sans, sans-serif" font-weight="normal" transform="rotate(-90 235 277)"  stroke="#1a1a1a" stroke-width="0.45">Dynamic SF<tspan font-size="7" dy="3.3">6</tspan><tspan dy="-3.3"> uptake (mmol/g)</tspan></text>
<text x="269.8" y="351.6" font-size="6.95" text-anchor="end" fill="#1a1a1a" font-family="Liberation Serif, serif" font-weight="bold" transform="rotate(-40 269.8 351.6)"  stroke="#1a1a1a" stroke-width="0.1">UiO-66-Br<tspan font-size="5" dy="1.5">2</tspan></text>
<text x="282.3" y="351.6" font-size="6.95" text-anchor="end" fill="#1a1a1a" font-family="Liberation Serif, serif" font-weight="bold" transform="rotate(-40 282.3 351.6)"  stroke="#1a1a1a" stroke-width="0.1">SBMOF-1</text>
<text x="294.8" y="351.6" font-size="6.95" text-anchor="end" fill="#1a1a1a" font-family="Liberation Serif, serif" font-weight="bold" transform="rotate(-40 294.8 351.6)"  stroke="#1a1a1a" stroke-width="0.1">Ni(pba)<tspan font-size="5" dy="1.5">2</tspan></text>
<text x="307.3" y="351.6" font-size="6.95" text-anchor="end" fill="#1a1a1a" font-family="Liberation Serif, serif" font-weight="bold" transform="rotate(-40 307.3 351.6)"  stroke="#1a1a1a" stroke-width="0.1">CAU-10-Py</text>
<text x="319.8" y="351.6" font-size="6.95" text-anchor="end" fill="#1a1a1a" font-family="Liberation Serif, serif" font-weight="bold" transform="rotate(-40 319.8 351.6)"  stroke="#1a1a1a" stroke-width="0.1">Zn(TMBDC)(DABCO)<tspan font-size="5" dy="1.5">0.5</tspan></text>
<text x="332.3" y="351.6" font-size="6.95" text-anchor="end" fill="#1a1a1a" font-family="Liberation Serif, serif" font-weight="bold" transform="rotate(-40 332.3 351.6)"  stroke="#1a1a1a" stroke-width="0.1">Ni(ina)<tspan font-size="5" dy="1.5">2</tspan></text>
<text x="344.8" y="351.6" font-size="6.95" text-anchor="end" fill="#1a1a1a" font-family="Liberation Serif, serif" font-weight="bold" transform="rotate(-40 344.8 351.6)"  stroke="#1a1a1a" stroke-width="0.1">Cu-MOF-NH<tspan font-size="5" dy="1.5">2</tspan></text>
<text x="357.3" y="351.6" font-size="6.95" text-anchor="end" fill="#1a1a1a" font-family="Liberation Serif, serif" font-weight="bold" transform="rotate(-40 357.3 351.6)"  stroke="#1a1a1a" stroke-width="0.1">C-PVDC-800</text>
<text x="369.8" y="351.6" font-size="6.95" text-anchor="end" fill="#1a1a1a" font-family="Liberation Serif, serif" font-weight="bold" transform="rotate(-40 369.8 351.6)"  stroke="#1a1a1a" stroke-width="0.1">Ni(adc)(dabco)<tspan font-size="5" dy="1.5">0.5</tspan></text>
<text x="382.3" y="351.6" font-size="6.95" text-anchor="end" fill="#1a1a1a" font-family="Liberation Serif, serif" font-weight="bold" transform="rotate(-40 382.3 351.6)"  stroke="#1a1a1a" stroke-width="0.1">Pb<tspan font-size="5" dy="1.5">2</tspan><tspan dy="-1.5">M(C</tspan><tspan font-size="5" dy="1.5">4</tspan><tspan dy="-1.5">O</tspan><tspan font-size="5" dy="1.5">4</tspan></text>
<text x="394.8" y="351.6" font-size="6.95" text-anchor="end" fill="#1a1a1a" font-family="Liberation Serif, serif" font-weight="bold" transform="rotate(-40 394.8 351.6)"  stroke="#1a1a1a" stroke-width="0.1">Ni(NDC)(TED)<tspan font-size="5" dy="1.5">0.5</tspan></text>
<text x="407.3" y="351.6" font-size="6.95" text-anchor="end" fill="#e02030" font-family="Liberation Serif, serif" font-weight="bold" transform="rotate(-40 407.3 351.6)"  stroke="#e02030" stroke-width="0.1">Al(fum)@2%HPC</text>
<text x="419.8" y="351.6" font-size="6.95" text-anchor="end" fill="#e02030" font-family="Liberation Serif, serif" font-weight="bold" transform="rotate(-40 419.8 351.6)"  stroke="#e02030" stroke-width="0.1">Al(fum)@5%Kaolin</text>
<text x="432.3" y="351.6" font-size="6.95" text-anchor="end" fill="#e02030" font-family="Liberation Serif, serif" font-weight="bold" transform="rotate(-40 432.3 351.6)"  stroke="#e02030" stroke-width="0.1">Al(fum)</text>
<text x="444.6" y="201" font-size="12" text-anchor="start" fill="#1a1a1a" font-family="Liberation Sans, sans-serif" font-weight="normal"  stroke="#1a1a1a" stroke-width="0.45">F</text>
<path d="M484.6,334.4 L484.6,223.98 L484,223.98 L484.51,223.21 L485.01,222.55 L485.62,222.05 L486.19,223.33 L486.76,231.68 L487.3,243.88 L487.88,250.36 L488.38,256.08 L489.06,263.32 L489.7,270.2 L490.74,275.31 L492.19,282.4 L493.77,286.63 L495.8,292.03 L498.15,296.03 L500.72,300.37 L503.55,303.2 L506.81,306.47 L510.96,309.09 L516.49,312.57 L521.74,314.95 L528.69,318.09 L534.55,319.95 L539.61,321.56 L545.33,322.96 L551.4,324.45 L559.83,326.4 L569.93,328.75 L581.73,329.97 L593.52,331.19 L605.32,332 L616.78,332.79 L628.91,333.3 L640.03,333.76 L652.5,334.4 L652.5,334.4Z" stroke="none" stroke-width="0" fill="#bfe4ec" />
<path d="M484.6,334.4 L484.6,238.74 L484,238.74 L484.51,238.74 L485.01,238.74 L485.62,238.74 L486.19,238.74 L486.76,238.74 L487.3,243.88 L487.88,250.36 L488.38,256.08 L489.06,263.32 L489.7,270.2 L490.74,275.31 L492.19,282.4 L493.77,286.63 L495.8,292.03 L498.15,296.03 L500.72,300.37 L503.55,303.2 L506.81,306.47 L510.96,309.09 L516.49,312.57 L521.74,314.95 L528.69,318.09 L534.55,319.95 L539.61,321.56 L545.33,322.96 L551.4,324.45 L559.83,326.4 L569.93,328.75 L581.73,329.97 L593.52,331.19 L605.32,332 L616.78,332.79 L628.91,333.3 L640.03,333.76 L652.5,334.4 L652.5,334.4Z" stroke="none" stroke-width="0" fill="#e9b2aa" />
<line x1="484.4" y1="219.4" x2="652" y2="219.4" stroke="#2a8a7c" stroke-width="1.3" stroke-dasharray="1.2 1.2"/>
<line x1="484.4" y1="219.4" x2="652" y2="219.4" stroke="#a3a32a" stroke-width="1.3" stroke-dasharray="3 2.2"/>
<line x1="476.7" y1="206.4" x2="652.8" y2="206.4" stroke="#1a1a1a" stroke-width="1.2" />
<line x1="476.7" y1="347.5" x2="652.8" y2="347.5" stroke="#1a1a1a" stroke-width="1.2" />
<line x1="477.3" y1="206" x2="477.3" y2="348" stroke="#1a1a1a" stroke-width="1.3" />
<line x1="652.8" y1="206" x2="652.8" y2="347" stroke="#3a9a8a" stroke-width="1.1" />
<line x1="474.5" y1="334.4" x2="477.5" y2="334.4" stroke="#1a1a1a" stroke-width="1.1" />
<line x1="474.5" y1="308.72" x2="477.5" y2="308.72" stroke="#1a1a1a" stroke-width="1.1" />
<line x1="474.5" y1="283.04" x2="477.5" y2="283.04" stroke="#1a1a1a" stroke-width="1.1" />
<line x1="474.5" y1="257.36" x2="477.5" y2="257.36" stroke="#1a1a1a" stroke-width="1.1" />
<line x1="474.5" y1="231.68" x2="477.5" y2="231.68" stroke="#1a1a1a" stroke-width="1.1" />
<line x1="474.5" y1="206" x2="477.5" y2="206" stroke="#1a1a1a" stroke-width="1.1" />
<line x1="475.7" y1="347.24" x2="477.5" y2="347.24" stroke="#1a1a1a" stroke-width="1.1" />
<line x1="475.7" y1="321.56" x2="477.5" y2="321.56" stroke="#1a1a1a" stroke-width="1.1" />
<line x1="475.7" y1="295.88" x2="477.5" y2="295.88" stroke="#1a1a1a" stroke-width="1.1" />
<line x1="475.7" y1="270.2" x2="477.5" y2="270.2" stroke="#1a1a1a" stroke-width="1.1" />
<line x1="475.7" y1="244.52" x2="477.5" y2="244.52" stroke="#1a1a1a" stroke-width="1.1" />
<line x1="475.7" y1="218.84" x2="477.5" y2="218.84" stroke="#1a1a1a" stroke-width="1.1" />
<line x1="484" y1="347.5" x2="484" y2="350.5" stroke="#1a1a1a" stroke-width="1.1" />
<line x1="517.7" y1="347.5" x2="517.7" y2="350.5" stroke="#1a1a1a" stroke-width="1.1" />
<line x1="551.4" y1="347.5" x2="551.4" y2="350.5" stroke="#1a1a1a" stroke-width="1.1" />
<line x1="585.1" y1="347.5" x2="585.1" y2="350.5" stroke="#1a1a1a" stroke-width="1.1" />
<line x1="618.8" y1="347.5" x2="618.8" y2="350.5" stroke="#1a1a1a" stroke-width="1.1" />
<line x1="652.5" y1="347.5" x2="652.5" y2="350.5" stroke="#1a1a1a" stroke-width="1.1" />
<line x1="500.85" y1="347.5" x2="500.85" y2="349.3" stroke="#1a1a1a" stroke-width="1.1" />
<line x1="534.55" y1="347.5" x2="534.55" y2="349.3" stroke="#1a1a1a" stroke-width="1.1" />
<line x1="568.25" y1="347.5" x2="568.25" y2="349.3" stroke="#1a1a1a" stroke-width="1.1" />
<line x1="601.95" y1="347.5" x2="601.95" y2="349.3" stroke="#1a1a1a" stroke-width="1.1" />
<line x1="635.65" y1="347.5" x2="635.65" y2="349.3" stroke="#1a1a1a" stroke-width="1.1" />
<line x1="652.8" y1="347" x2="655.8" y2="347" stroke="#3a9a8a" stroke-width="1" />
<line x1="652.8" y1="321.4" x2="655.8" y2="321.4" stroke="#3a9a8a" stroke-width="1" />
<line x1="652.8" y1="295.8" x2="655.8" y2="295.8" stroke="#3a9a8a" stroke-width="1" />
<line x1="652.8" y1="270.2" x2="655.8" y2="270.2" stroke="#3a9a8a" stroke-width="1" />
<line x1="652.8" y1="244.6" x2="655.8" y2="244.6" stroke="#3a9a8a" stroke-width="1" />
<line x1="652.8" y1="219" x2="655.8" y2="219" stroke="#3a9a8a" stroke-width="1" />
<line x1="652.8" y1="334.2" x2="654.6" y2="334.2" stroke="#3a9a8a" stroke-width="1" />
<line x1="652.8" y1="308.6" x2="654.6" y2="308.6" stroke="#3a9a8a" stroke-width="1" />
<line x1="652.8" y1="283" x2="654.6" y2="283" stroke="#3a9a8a" stroke-width="1" />
<line x1="652.8" y1="257.4" x2="654.6" y2="257.4" stroke="#3a9a8a" stroke-width="1" />
<line x1="652.8" y1="231.8" x2="654.6" y2="231.8" stroke="#3a9a8a" stroke-width="1" />
<text x="472.6" y="337.6" font-size="9.2" text-anchor="end" fill="#1a1a1a" font-family="Liberation Sans, sans-serif" font-weight="normal"  stroke="#1a1a1a" stroke-width="0.45">0.0</text>
<text x="472.6" y="311.92" font-size="9.2" text-anchor="end" fill="#1a1a1a" font-family="Liberation Sans, sans-serif" font-weight="normal"  stroke="#1a1a1a" stroke-width="0.45">0.4</text>
<text x="472.6" y="286.24" font-size="9.2" text-anchor="end" fill="#1a1a1a" font-family="Liberation Sans, sans-serif" font-weight="normal"  stroke="#1a1a1a" stroke-width="0.45">0.8</text>
<text x="472.6" y="260.56" font-size="9.2" text-anchor="end" fill="#1a1a1a" font-family="Liberation Sans, sans-serif" font-weight="normal"  stroke="#1a1a1a" stroke-width="0.45">1.2</text>
<text x="472.6" y="234.88" font-size="9.2" text-anchor="end" fill="#1a1a1a" font-family="Liberation Sans, sans-serif" font-weight="normal"  stroke="#1a1a1a" stroke-width="0.45">1.6</text>
<text x="472.6" y="209.2" font-size="9.2" text-anchor="end" fill="#1a1a1a" font-family="Liberation Sans, sans-serif" font-weight="normal"  stroke="#1a1a1a" stroke-width="0.45">2.0</text>
<text x="484" y="359.8" font-size="9" text-anchor="middle" fill="#1a1a1a" font-family="Liberation Sans, sans-serif" font-weight="normal"  stroke="#1a1a1a" stroke-width="0.45">0</text>
<text x="517.7" y="359.8" font-size="9" text-anchor="middle" fill="#1a1a1a" font-family="Liberation Sans, sans-serif" font-weight="normal"  stroke="#1a1a1a" stroke-width="0.45">100</text>
<text x="551.4" y="359.8" font-size="9" text-anchor="middle" fill="#1a1a1a" font-family="Liberation Sans, sans-serif" font-weight="normal"  stroke="#1a1a1a" stroke-width="0.45">200</text>
<text x="585.1" y="359.8" font-size="9" text-anchor="middle" fill="#1a1a1a" font-family="Liberation Sans, sans-serif" font-weight="normal"  stroke="#1a1a1a" stroke-width="0.45">300</text>
<text x="618.8" y="359.8" font-size="9" text-anchor="middle" fill="#1a1a1a" font-family="Liberation Sans, sans-serif" font-weight="normal"  stroke="#1a1a1a" stroke-width="0.45">400</text>
<text x="652.5" y="359.8" font-size="9" text-anchor="middle" fill="#1a1a1a" font-family="Liberation Sans, sans-serif" font-weight="normal"  stroke="#1a1a1a" stroke-width="0.45">500</text>
<text x="657.4" y="350.3" font-size="9.2" text-anchor="start" fill="#5e9a6e" font-family="Liberation Sans, sans-serif" font-weight="normal"  stroke="#5e9a6e" stroke-width="0.45">0</text>
<text x="657.4" y="324.7" font-size="9.2" text-anchor="start" fill="#5e9a6e" font-family="Liberation Sans, sans-serif" font-weight="normal"  stroke="#5e9a6e" stroke-width="0.45">20</text>
<text x="657.4" y="299.1" font-size="9.2" text-anchor="start" fill="#5e9a6e" font-family="Liberation Sans, sans-serif" font-weight="normal"  stroke="#5e9a6e" stroke-width="0.45">40</text>
<text x="657.4" y="273.5" font-size="9.2" text-anchor="start" fill="#5e9a6e" font-family="Liberation Sans, sans-serif" font-weight="normal"  stroke="#5e9a6e" stroke-width="0.45">60</text>
<text x="657.4" y="247.9" font-size="9.2" text-anchor="start" fill="#5e9a6e" font-family="Liberation Sans, sans-serif" font-weight="normal"  stroke="#5e9a6e" stroke-width="0.45">80</text>
<text x="657.4" y="222.3" font-size="9.2" text-anchor="start" fill="#5e9a6e" font-family="Liberation Sans, sans-serif" font-weight="normal"  stroke="#5e9a6e" stroke-width="0.45">100</text>
<text x="568" y="374.4" font-size="10.6" text-anchor="middle" fill="#1a1a1a" font-family="Liberation Sans, sans-serif" font-weight="normal"  stroke="#1a1a1a" stroke-width="0.45">Time (min/g)</text>
<text x="453.6" y="280.4" font-size="10.6" text-anchor="middle" fill="#1a1a1a" font-family="Liberation Sans, sans-serif" font-weight="normal" transform="rotate(-90 453.6 280.4)"  stroke="#1a1a1a" stroke-width="0.45">C<tspan font-size="7" dy="3.4">A</tspan><tspan dy="-3.4">/C</tspan><tspan font-size="7" dy="3.4">0</tspan></text>
<text x="680.4" y="274.3" font-size="10.6" text-anchor="middle" fill="#5e9a6e" font-family="Liberation Sans, sans-serif" font-weight="normal" transform="rotate(-90 680.4 274.3)"  stroke="#5e9a6e" stroke-width="0.45">Cumulative purity (%)</text>
<line x1="551" y1="228.2" x2="561" y2="228.2" stroke="#2a8a7c" stroke-width="1.2" stroke-dasharray="1 1"/>
<line x1="551" y1="237.4" x2="561" y2="237.4" stroke="#a3a32a" stroke-width="1.2" stroke-dasharray="1.6 1"/>
<text x="565" y="230.4" font-size="6.1" text-anchor="start" fill="#1a1a1a" font-family="Liberation Sans, sans-serif" font-weight="normal"  stroke="#1a1a1a" stroke-width="0.37">Purity of Al(fum)@2%HPC</text>
<text x="565" y="239.6" font-size="6.1" text-anchor="start" fill="#1a1a1a" font-family="Liberation Sans, sans-serif" font-weight="normal"  stroke="#1a1a1a" stroke-width="0.37">Purity of Al(fum)@5%Kaolin</text>
<rect x="497" y="278" width="8.6" height="6.6" fill="#e9b2aa" stroke="none" stroke-width="1" />
<rect x="575" y="278" width="9" height="6.6" fill="#b8e2ea" stroke="none" stroke-width="1" />
<text x="508" y="275" font-size="5.6" text-anchor="start" fill="#1a1a1a" font-family="Liberation Sans, sans-serif" font-weight="normal"  stroke="#1a1a1a" stroke-width="0.35">Al(fum)@2%HPC</text>
<text x="508" y="283.4" font-size="5.9" text-anchor="start" fill="#1a1a1a" font-family="Liberation Sans, sans-serif" font-weight="normal"  stroke="#1a1a1a" stroke-width="0.36">Productivity = 58.46 L/kg</text>
<text x="508" y="291.2" font-size="5.9" text-anchor="start" fill="#1a1a1a" font-family="Liberation Sans, sans-serif" font-weight="normal"  stroke="#1a1a1a" stroke-width="0.36">Yield = 97.39%</text>
<text x="586" y="275" font-size="5.6" text-anchor="start" fill="#1a1a1a" font-family="Liberation Sans, sans-serif" font-weight="normal"  stroke="#1a1a1a" stroke-width="0.35">Al(fum)@5%Kaolin</text>
<text x="586" y="283.4" font-size="5.9" text-anchor="start" fill="#1a1a1a" font-family="Liberation Sans, sans-serif" font-weight="normal"  stroke="#1a1a1a" stroke-width="0.36">Productivity = 59.08 L/kg</text>
<text x="586" y="291.2" font-size="5.9" text-anchor="start" fill="#1a1a1a" font-family="Liberation Sans, sans-serif" font-weight="normal"  stroke="#1a1a1a" stroke-width="0.36">Yield = 96.35%</text>
<text x="5.6" y="398" font-size="12" text-anchor="start" fill="#1a1a1a" font-family="Liberation Sans, sans-serif" font-weight="normal"  stroke="#1a1a1a" stroke-width="0.45">G</text>
<clipPath id="cg"><rect x="36" y="407" width="188" height="141"/></clipPath>
<g clip-path="url(#cg)">
<path d="M36,544.4 L42.1,544.4 L42.5,300 L44.3,300 L44.5,344.3 L44.7,380.57 L44.9,410.27 L45.1,434.58 L45.3,454.49 L45.5,470.79 L45.7,484.13 L45.9,495.06 L46.1,504 L46.3,511.32 L46.5,517.32 L46.7,522.23 L46.9,526.25 L47.1,529.54 L47.3,532.23 L47.5,534.44 L47.7,536.24 L47.9,537.72 L48.1,538.93 L48.3,539.92 L48.5,540.74 L48.7,541.4 L48.9,541.94 L49.1,542.39 L49.3,542.75 L49.5,543.05 L49.7,543.3 L49.9,543.5 L50.1,543.66 L50.3,543.79 L50.5,543.9 L50.7,543.99 L50.9,544.07 L51.1,544.13 L51.3,544.18 L51.5,544.22 L51.7,544.25 L51.9,544.28 L52.1,544.3 L53,544.35 L54,544.33 L55,544.29 L56,544.24 L57,544.17 L58,544.08 L59,543.96 L60,543.81 L61,543.63 L62,543.41 L63,543.16 L64,542.87 L65,542.57 L66,542.24 L67,541.92 L68,541.61 L69,541.33 L70,541.1 L71,540.93 L72,540.83 L73,540.8 L74,540.86 L75,540.99 L76,541.19 L77,541.44 L78,541.73 L79,542.05 L80,542.37 L81,542.69 L82,542.99 L83,543.26 L84,543.5 L85,543.71 L86,543.88 L87,544.01 L88,544.12 L89,544.2 L90,544.26 L91,544.31 L92,544.34 L93,544.36 L94,544.38 L95,544.38 L96,544.39 L97,544.39 L98,544.4 L99,544.4 L100,544.4 L101,544.4 L102,544.4 L103,544.4 L104,544.4 L105,544.4 L106,544.4 L107,544.4 L108,544.4 L109,544.4 L110,544.4 L111,544.4 L112,544.4 L113,544.4 L114,544.4 L115,544.4 L116,544.4 L117,544.4 L118,544.4 L119,544.4 L120,544.4 L121,544.4 L122,544.4 L123,544.4 L124,544.4 L125,544.4 L126,544.4 L127,544.4 L128,544.4 L129,544.4 L130,544.4 L131,544.4 L132,544.4 L133,544.4 L134,544.4 L135,544.4 L136,544.4 L137,544.4 L138,544.4 L139,544.4 L140,544.4 L141,544.4 L142,544.4 L143,544.4 L144,544.4 L145,544.4 L146,544.4 L147,544.4 L148,544.4 L149,544.4 L150,544.4 L151,544.4 L152,544.4 L153,544.4 L154,544.4 L155,544.4 L156,544.4 L157,544.4 L158,544.4 L158.6,544.4" stroke="#505050" stroke-width="1.0" fill="none" />
<path d="M36,539.58 L42.1,539.58 L42.5,300 L44.3,300 L44.5,343.43 L44.7,378.98 L44.9,408.1 L45.1,431.93 L45.3,451.44 L45.5,467.42 L45.7,480.5 L45.9,491.21 L46.1,499.98 L46.3,507.16 L46.5,513.03 L46.7,517.85 L46.9,521.79 L47.1,525.01 L47.3,527.65 L47.5,529.81 L47.7,531.58 L47.9,533.03 L48.1,534.22 L48.3,535.19 L48.5,535.99 L48.7,536.64 L48.9,537.17 L49.1,537.61 L49.3,537.97 L49.5,538.26 L49.7,538.5 L49.9,538.69 L50.1,538.85 L50.3,538.99 L50.5,539.09 L50.7,539.18 L50.9,539.25 L51.1,539.31 L51.3,539.36 L51.5,539.4 L51.7,539.43 L51.9,539.46 L52.1,539.48 L53,539.53 L54,539.51 L55,539.47 L56,539.42 L57,539.35 L58,539.26 L59,539.14 L60,538.99 L61,538.81 L62,538.59 L63,538.34 L64,538.05 L65,537.75 L66,537.42 L67,537.1 L68,536.79 L69,536.51 L70,536.28 L71,536.11 L72,536.01 L73,535.98 L74,536.04 L75,536.17 L76,536.37 L77,536.62 L78,536.91 L79,537.23 L80,537.55 L81,537.87 L82,538.17 L83,538.44 L84,538.68 L85,538.89 L86,539.06 L87,539.19 L88,539.3 L89,539.38 L90,539.44 L91,539.49 L92,539.52 L93,539.54 L94,539.56 L95,539.56 L96,539.57 L97,539.57 L98,539.58 L99,539.58 L100,539.58 L101,539.58 L102,539.58 L103,539.58 L104,539.58 L105,539.58 L106,539.58 L107,539.58 L108,539.58 L109,539.58 L110,539.58 L111,539.58 L112,539.58 L113,539.58 L114,539.58 L115,539.58 L116,539.58 L117,539.58 L118,539.58 L119,539.58 L120,539.58 L121,539.58 L122,539.58 L123,539.58 L124,539.58 L125,539.58 L126,539.58 L127,539.58 L128,539.58 L129,539.58 L130,539.58 L131,539.58 L132,539.58 L133,539.58 L134,539.58 L135,539.58 L136,539.58 L137,539.58 L138,539.58 L139,539.58 L140,539.58 L141,539.58 L142,539.58 L143,539.58 L144,539.58 L145,539.58 L146,539.58 L147,539.58 L148,539.58 L149,539.58 L150,539.58 L151,539.58 L152,539.58 L153,539.58 L154,539.58 L155,539.58 L156,539.58 L157,539.58 L158,539.58 L158.6,539.58" stroke="#e24a4a" stroke-width="1.0" fill="none" />
<path d="M36,534.76 L42.1,534.76 L42.5,300 L44.3,300 L44.5,342.55 L44.7,377.4 L44.9,405.92 L45.1,429.28 L45.3,448.4 L45.5,464.05 L45.7,476.87 L45.9,487.36 L46.1,495.95 L46.3,502.99 L46.5,508.75 L46.7,513.46 L46.9,517.32 L47.1,520.48 L47.3,523.07 L47.5,525.19 L47.7,526.93 L47.9,528.35 L48.1,529.51 L48.3,530.46 L48.5,531.24 L48.7,531.88 L48.9,532.4 L49.1,532.83 L49.3,533.18 L49.5,533.46 L49.7,533.7 L49.9,533.89 L50.1,534.05 L50.3,534.18 L50.5,534.28 L50.7,534.37 L50.9,534.44 L51.1,534.5 L51.3,534.55 L51.5,534.58 L51.7,534.62 L51.9,534.64 L52.1,534.66 L53,534.71 L54,534.69 L55,534.65 L56,534.6 L57,534.53 L58,534.44 L59,534.32 L60,534.17 L61,533.99 L62,533.77 L63,533.52 L64,533.23 L65,532.93 L66,532.6 L67,532.28 L68,531.97 L69,531.69 L70,531.46 L71,531.29 L72,531.19 L73,531.16 L74,531.22 L75,531.35 L76,531.55 L77,531.8 L78,532.09 L79,532.41 L80,532.73 L81,533.05 L82,533.35 L83,533.62 L84,533.86 L85,534.07 L86,534.24 L87,534.37 L88,534.48 L89,534.56 L90,534.62 L91,534.67 L92,534.7 L93,534.72 L94,534.74 L95,534.74 L96,534.75 L97,534.75 L98,534.76 L99,534.76 L100,534.76 L101,534.76 L102,534.76 L103,534.76 L104,534.76 L105,534.76 L106,534.76 L107,534.76 L108,534.76 L109,534.76 L110,534.76 L111,534.76 L112,534.76 L113,534.76 L114,534.76 L115,534.76 L116,534.76 L117,534.76 L118,534.76 L119,534.76 L120,534.76 L121,534.76 L122,534.76 L123,534.76 L124,534.76 L125,534.76 L126,534.76 L127,534.76 L128,534.76 L129,534.76 L130,534.76 L131,534.76 L132,534.76 L133,534.76 L134,534.76 L135,534.76 L136,534.76 L137,534.76 L138,534.76 L139,534.76 L140,534.76 L141,534.76 L142,534.76 L143,534.76 L144,534.76 L145,534.76 L146,534.76 L147,534.76 L148,534.76 L149,534.76 L150,534.76 L151,534.76 L152,534.76 L153,534.76 L154,534.76 L155,534.76 L156,534.76 L157,534.76 L158,534.76 L158.6,534.76" stroke="#4c5ab2" stroke-width="1.0" fill="none" />
<path d="M36,529.94 L42.1,529.94 L42.5,300 L44.3,300 L44.5,341.68 L44.7,375.81 L44.9,403.75 L45.1,426.62 L45.3,445.35 L45.5,460.68 L45.7,473.24 L45.9,483.52 L46.1,491.93 L46.3,498.82 L46.5,504.46 L46.7,509.08 L46.9,512.86 L47.1,515.96 L47.3,518.49 L47.5,520.57 L47.7,522.27 L47.9,523.66 L48.1,524.8 L48.3,525.73 L48.5,526.49 L48.7,527.12 L48.9,527.63 L49.1,528.05 L49.3,528.39 L49.5,528.67 L49.7,528.9 L49.9,529.09 L50.1,529.24 L50.3,529.37 L50.5,529.47 L50.7,529.56 L50.9,529.63 L51.1,529.68 L51.3,529.73 L51.5,529.77 L51.7,529.8 L51.9,529.82 L52.1,529.85 L53,529.89 L54,529.87 L55,529.83 L56,529.78 L57,529.71 L58,529.62 L59,529.5 L60,529.35 L61,529.17 L62,528.95 L63,528.7 L64,528.41 L65,528.11 L66,527.78 L67,527.46 L68,527.15 L69,526.87 L70,526.64 L71,526.47 L72,526.37 L73,526.34 L74,526.4 L75,526.53 L76,526.73 L77,526.98 L78,527.27 L79,527.59 L80,527.91 L81,528.23 L82,528.53 L83,528.8 L84,529.04 L85,529.25 L86,529.42 L87,529.55 L88,529.66 L89,529.74 L90,529.8 L91,529.85 L92,529.88 L93,529.9 L94,529.92 L95,529.92 L96,529.93 L97,529.93 L98,529.94 L99,529.94 L100,529.94 L101,529.94 L102,529.94 L103,529.94 L104,529.94 L105,529.94 L106,529.94 L107,529.94 L108,529.94 L109,529.94 L110,529.94 L111,529.94 L112,529.94 L113,529.94 L114,529.94 L115,529.94 L116,529.94 L117,529.94 L118,529.94 L119,529.94 L120,529.94 L121,529.94 L122,529.94 L123,529.94 L124,529.94 L125,529.94 L126,529.94 L127,529.94 L128,529.94 L129,529.94 L130,529.94 L131,529.94 L132,529.94 L133,529.94 L134,529.94 L135,529.94 L136,529.94 L137,529.94 L138,529.94 L139,529.94 L140,529.94 L141,529.94 L142,529.94 L143,529.94 L144,529.94 L145,529.94 L146,529.94 L147,529.94 L148,529.94 L149,529.94 L150,529.94 L151,529.94 L152,529.94 L153,529.94 L154,529.94 L155,529.94 L156,529.94 L157,529.94 L158,529.94 L158.6,529.94" stroke="#d872ba" stroke-width="1.0" fill="none" />
<path d="M36,525.12 L42.1,525.12 L42.5,300 L44.3,300 L44.5,340.81 L44.7,374.22 L44.9,401.57 L45.1,423.97 L45.3,442.3 L45.5,457.32 L45.7,469.61 L45.9,479.67 L46.1,487.91 L46.3,494.65 L46.5,500.18 L46.7,504.7 L46.9,508.4 L47.1,511.43 L47.3,513.91 L47.5,515.94 L47.7,517.61 L47.9,518.97 L48.1,520.08 L48.3,521 L48.5,521.74 L48.7,522.36 L48.9,522.86 L49.1,523.27 L49.3,523.6 L49.5,523.88 L49.7,524.1 L49.9,524.29 L50.1,524.44 L50.3,524.56 L50.5,524.66 L50.7,524.75 L50.9,524.81 L51.1,524.87 L51.3,524.91 L51.5,524.95 L51.7,524.98 L51.9,525.01 L52.1,525.03 L53,525.07 L54,525.05 L55,525.01 L56,524.96 L57,524.89 L58,524.8 L59,524.68 L60,524.53 L61,524.35 L62,524.13 L63,523.88 L64,523.59 L65,523.29 L66,522.96 L67,522.64 L68,522.33 L69,522.05 L70,521.82 L71,521.65 L72,521.55 L73,521.52 L74,521.58 L75,521.71 L76,521.91 L77,522.16 L78,522.45 L79,522.77 L80,523.09 L81,523.41 L82,523.71 L83,523.98 L84,524.22 L85,524.43 L86,524.6 L87,524.73 L88,524.84 L89,524.92 L90,524.98 L91,525.03 L92,525.06 L93,525.08 L94,525.1 L95,525.1 L96,525.11 L97,525.11 L98,525.12 L99,525.12 L100,525.12 L101,525.12 L102,525.12 L103,525.12 L104,525.12 L105,525.12 L106,525.12 L107,525.12 L108,525.12 L109,525.12 L110,525.12 L111,525.12 L112,525.12 L113,525.12 L114,525.12 L115,525.12 L116,525.12 L117,525.12 L118,525.12 L119,525.12 L120,525.12 L121,525.12 L122,525.12 L123,525.12 L124,525.12 L125,525.12 L126,525.12 L127,525.12 L128,525.12 L129,525.12 L130,525.12 L131,525.12 L132,525.12 L133,525.12 L134,525.12 L135,525.12 L136,525.12 L137,525.12 L138,525.12 L139,525.12 L140,525.12 L141,525.12 L142,525.12 L143,525.12 L144,525.12 L145,525.12 L146,525.12 L147,525.12 L148,525.12 L149,525.12 L150,525.12 L151,525.12 L152,525.12 L153,525.12 L154,525.12 L155,525.12 L156,525.12 L157,525.12 L158,525.12 L158.6,525.12" stroke="#5cba5c" stroke-width="1.0" fill="none" />
<path d="M36,520.3 L42.1,520.3 L42.5,300 L44.3,300 L44.5,339.93 L44.7,372.63 L44.9,399.4 L45.1,421.31 L45.3,439.26 L45.5,453.95 L45.7,465.97 L45.9,475.82 L46.1,483.88 L46.3,490.49 L46.5,495.89 L46.7,500.31 L46.9,503.94 L47.1,506.9 L47.3,509.33 L47.5,511.32 L47.7,512.95 L47.9,514.28 L48.1,515.37 L48.3,516.27 L48.5,517 L48.7,517.6 L48.9,518.09 L49.1,518.49 L49.3,518.82 L49.5,519.08 L49.7,519.3 L49.9,519.49 L50.1,519.63 L50.3,519.75 L50.5,519.85 L50.7,519.93 L50.9,520 L51.1,520.05 L51.3,520.1 L51.5,520.14 L51.7,520.17 L51.9,520.19 L52.1,520.21 L53,520.25 L54,520.23 L55,520.19 L56,520.14 L57,520.07 L58,519.98 L59,519.86 L60,519.71 L61,519.53 L62,519.31 L63,519.06 L64,518.77 L65,518.47 L66,518.14 L67,517.82 L68,517.51 L69,517.23 L70,517 L71,516.83 L72,516.73 L73,516.7 L74,516.76 L75,516.89 L76,517.09 L77,517.34 L78,517.63 L79,517.95 L80,518.27 L81,518.59 L82,518.89 L83,519.16 L84,519.4 L85,519.61 L86,519.78 L87,519.91 L88,520.02 L89,520.1 L90,520.16 L91,520.21 L92,520.24 L93,520.26 L94,520.28 L95,520.28 L96,520.29 L97,520.29 L98,520.3 L99,520.3 L100,520.3 L101,520.3 L102,520.3 L103,520.3 L104,520.3 L105,520.3 L106,520.3 L107,520.3 L108,520.3 L109,520.3 L110,520.3 L111,520.3 L112,520.3 L113,520.3 L114,520.3 L115,520.3 L116,520.3 L117,520.3 L118,520.3 L119,520.3 L120,520.3 L121,520.3 L122,520.3 L123,520.3 L124,520.3 L125,520.3 L126,520.3 L127,520.3 L128,520.3 L129,520.3 L130,520.3 L131,520.3 L132,520.3 L133,520.3 L134,520.3 L135,520.3 L136,520.3 L137,520.3 L138,520.3 L139,520.3 L140,520.3 L141,520.3 L142,520.3 L143,520.3 L144,520.3 L145,520.3 L146,520.3 L147,520.3 L148,520.3 L149,520.3 L150,520.3 L151,520.3 L152,520.3 L153,520.3 L154,520.3 L155,520.3 L156,520.3 L157,520.3 L158,520.3 L158.6,520.3" stroke="#4c5cc2" stroke-width="1.0" fill="none" />
<path d="M36,515.48 L42.1,515.48 L42.5,300 L44.3,300 L44.5,339.06 L44.7,371.04 L44.9,397.22 L45.1,418.66 L45.3,436.21 L45.5,450.58 L45.7,462.34 L45.9,471.98 L46.1,479.86 L46.3,486.32 L46.5,491.6 L46.7,495.93 L46.9,499.48 L47.1,502.38 L47.3,504.75 L47.5,506.7 L47.7,508.29 L47.9,509.59 L48.1,510.66 L48.3,511.53 L48.5,512.25 L48.7,512.83 L48.9,513.31 L49.1,513.71 L49.3,514.03 L49.5,514.29 L49.7,514.51 L49.9,514.68 L50.1,514.83 L50.3,514.95 L50.5,515.04 L50.7,515.12 L50.9,515.19 L51.1,515.24 L51.3,515.28 L51.5,515.32 L51.7,515.35 L51.9,515.37 L52.1,515.39 L53,515.43 L54,515.41 L55,515.37 L56,515.32 L57,515.25 L58,515.16 L59,515.04 L60,514.89 L61,514.71 L62,514.49 L63,514.24 L64,513.95 L65,513.65 L66,513.32 L67,513 L68,512.69 L69,512.41 L70,512.18 L71,512.01 L72,511.91 L73,511.88 L74,511.94 L75,512.07 L76,512.27 L77,512.52 L78,512.81 L79,513.13 L80,513.45 L81,513.77 L82,514.07 L83,514.34 L84,514.58 L85,514.79 L86,514.96 L87,515.09 L88,515.2 L89,515.28 L90,515.34 L91,515.39 L92,515.42 L93,515.44 L94,515.46 L95,515.46 L96,515.47 L97,515.47 L98,515.48 L99,515.48 L100,515.48 L101,515.48 L102,515.48 L103,515.48 L104,515.48 L105,515.48 L106,515.48 L107,515.48 L108,515.48 L109,515.48 L110,515.48 L111,515.48 L112,515.48 L113,515.48 L114,515.48 L115,515.48 L116,515.48 L117,515.48 L118,515.48 L119,515.48 L120,515.48 L121,515.48 L122,515.48 L123,515.48 L124,515.48 L125,515.48 L126,515.48 L127,515.48 L128,515.48 L129,515.48 L130,515.48 L131,515.48 L132,515.48 L133,515.48 L134,515.48 L135,515.48 L136,515.48 L137,515.48 L138,515.48 L139,515.48 L140,515.48 L141,515.48 L142,515.48 L143,515.48 L144,515.48 L145,515.48 L146,515.48 L147,515.48 L148,515.48 L149,515.48 L150,515.48 L151,515.48 L152,515.48 L153,515.48 L154,515.48 L155,515.48 L156,515.48 L157,515.48 L158,515.48 L158.6,515.48" stroke="#8c5aaa" stroke-width="1.0" fill="none" />
<path d="M36,510.66 L42.1,510.66 L42.5,300 L44.3,300 L44.5,338.19 L44.7,369.45 L44.9,395.05 L45.1,416 L45.3,433.16 L45.5,447.21 L45.7,458.71 L45.9,468.13 L46.1,475.84 L46.3,482.15 L46.5,487.32 L46.7,491.55 L46.9,495.01 L47.1,497.85 L47.3,500.17 L47.5,502.07 L47.7,503.63 L47.9,504.9 L48.1,505.95 L48.3,506.8 L48.5,507.5 L48.7,508.07 L48.9,508.54 L49.1,508.93 L49.3,509.24 L49.5,509.5 L49.7,509.71 L49.9,509.88 L50.1,510.02 L50.3,510.14 L50.5,510.23 L50.7,510.31 L50.9,510.37 L51.1,510.43 L51.3,510.47 L51.5,510.5 L51.7,510.53 L51.9,510.55 L52.1,510.57 L53,510.61 L54,510.59 L55,510.55 L56,510.5 L57,510.43 L58,510.34 L59,510.22 L60,510.07 L61,509.89 L62,509.67 L63,509.42 L64,509.13 L65,508.83 L66,508.5 L67,508.18 L68,507.87 L69,507.59 L70,507.36 L71,507.19 L72,507.09 L73,507.06 L74,507.12 L75,507.25 L76,507.45 L77,507.7 L78,507.99 L79,508.31 L80,508.63 L81,508.95 L82,509.25 L83,509.52 L84,509.76 L85,509.97 L86,510.14 L87,510.27 L88,510.38 L89,510.46 L90,510.52 L91,510.57 L92,510.6 L93,510.62 L94,510.64 L95,510.64 L96,510.65 L97,510.65 L98,510.66 L99,510.66 L100,510.66 L101,510.66 L102,510.66 L103,510.66 L104,510.66 L105,510.66 L106,510.66 L107,510.66 L108,510.66 L109,510.66 L110,510.66 L111,510.66 L112,510.66 L113,510.66 L114,510.66 L115,510.66 L116,510.66 L117,510.66 L118,510.66 L119,510.66 L120,510.66 L121,510.66 L122,510.66 L123,510.66 L124,510.66 L125,510.66 L126,510.66 L127,510.66 L128,510.66 L129,510.66 L130,510.66 L131,510.66 L132,510.66 L133,510.66 L134,510.66 L135,510.66 L136,510.66 L137,510.66 L138,510.66 L139,510.66 L140,510.66 L141,510.66 L142,510.66 L143,510.66 L144,510.66 L145,510.66 L146,510.66 L147,510.66 L148,510.66 L149,510.66 L150,510.66 L151,510.66 L152,510.66 L153,510.66 L154,510.66 L155,510.66 L156,510.66 L157,510.66 L158,510.66 L158.6,510.66" stroke="#a85cb8" stroke-width="1.0" fill="none" />
<path d="M36,505.84 L42.1,505.84 L42.5,300 L44.3,300 L44.5,337.31 L44.7,367.86 L44.9,392.87 L45.1,413.35 L45.3,430.12 L45.5,443.84 L45.7,455.08 L45.9,464.28 L46.1,471.81 L46.3,477.98 L46.5,483.03 L46.7,487.17 L46.9,490.55 L47.1,493.32 L47.3,495.59 L47.5,497.45 L47.7,498.97 L47.9,500.22 L48.1,501.24 L48.3,502.07 L48.5,502.75 L48.7,503.31 L48.9,503.77 L49.1,504.15 L49.3,504.45 L49.5,504.7 L49.7,504.91 L49.9,505.08 L50.1,505.22 L50.3,505.33 L50.5,505.42 L50.7,505.5 L50.9,505.56 L51.1,505.61 L51.3,505.65 L51.5,505.69 L51.7,505.71 L51.9,505.74 L52.1,505.76 L53,505.79 L54,505.77 L55,505.73 L56,505.68 L57,505.61 L58,505.52 L59,505.4 L60,505.25 L61,505.07 L62,504.85 L63,504.6 L64,504.31 L65,504.01 L66,503.68 L67,503.36 L68,503.05 L69,502.77 L70,502.54 L71,502.37 L72,502.27 L73,502.24 L74,502.3 L75,502.43 L76,502.63 L77,502.88 L78,503.17 L79,503.49 L80,503.81 L81,504.13 L82,504.43 L83,504.7 L84,504.94 L85,505.15 L86,505.32 L87,505.45 L88,505.56 L89,505.64 L90,505.7 L91,505.75 L92,505.78 L93,505.8 L94,505.82 L95,505.82 L96,505.83 L97,505.83 L98,505.84 L99,505.84 L100,505.84 L101,505.84 L102,505.84 L103,505.84 L104,505.84 L105,505.84 L106,505.84 L107,505.84 L108,505.84 L109,505.84 L110,505.84 L111,505.84 L112,505.84 L113,505.84 L114,505.84 L115,505.84 L116,505.84 L117,505.84 L118,505.84 L119,505.84 L120,505.84 L121,505.84 L122,505.84 L123,505.84 L124,505.84 L125,505.84 L126,505.84 L127,505.84 L128,505.84 L129,505.84 L130,505.84 L131,505.84 L132,505.84 L133,505.84 L134,505.84 L135,505.84 L136,505.84 L137,505.84 L138,505.84 L139,505.84 L140,505.84 L141,505.84 L142,505.84 L143,505.84 L144,505.84 L145,505.84 L146,505.84 L147,505.84 L148,505.84 L149,505.84 L150,505.84 L151,505.84 L152,505.84 L153,505.84 L154,505.84 L155,505.84 L156,505.84 L157,505.84 L158,505.84 L158.6,505.84" stroke="#d85a72" stroke-width="1.0" fill="none" />
<path d="M36,501.02 L42.1,501.02 L42.5,300 L44.3,300 L44.5,336.44 L44.7,366.27 L44.9,390.7 L45.1,410.7 L45.3,427.07 L45.5,440.47 L45.7,451.45 L45.9,460.43 L46.1,467.79 L46.3,473.81 L46.5,478.75 L46.7,482.78 L46.9,486.09 L47.1,488.8 L47.3,491.01 L47.5,492.83 L47.7,494.31 L47.9,495.53 L48.1,496.52 L48.3,497.34 L48.5,498.01 L48.7,498.55 L48.9,499 L49.1,499.37 L49.3,499.67 L49.5,499.91 L49.7,500.11 L49.9,500.28 L50.1,500.41 L50.3,500.52 L50.5,500.61 L50.7,500.69 L50.9,500.75 L51.1,500.8 L51.3,500.84 L51.5,500.87 L51.7,500.9 L51.9,500.92 L52.1,500.94 L53,500.97 L54,500.95 L55,500.91 L56,500.86 L57,500.79 L58,500.7 L59,500.58 L60,500.43 L61,500.25 L62,500.03 L63,499.78 L64,499.49 L65,499.19 L66,498.86 L67,498.54 L68,498.23 L69,497.95 L70,497.72 L71,497.55 L72,497.45 L73,497.42 L74,497.48 L75,497.61 L76,497.81 L77,498.06 L78,498.35 L79,498.67 L80,498.99 L81,499.31 L82,499.61 L83,499.88 L84,500.12 L85,500.33 L86,500.5 L87,500.63 L88,500.74 L89,500.82 L90,500.88 L91,500.93 L92,500.96 L93,500.98 L94,501 L95,501 L96,501.01 L97,501.01 L98,501.02 L99,501.02 L100,501.02 L101,501.02 L102,501.02 L103,501.02 L104,501.02 L105,501.02 L106,501.02 L107,501.02 L108,501.02 L109,501.02 L110,501.02 L111,501.02 L112,501.02 L113,501.02 L114,501.02 L115,501.02 L116,501.02 L117,501.02 L118,501.02 L119,501.02 L120,501.02 L121,501.02 L122,501.02 L123,501.02 L124,501.02 L125,501.02 L126,501.02 L127,501.02 L128,501.02 L129,501.02 L130,501.02 L131,501.02 L132,501.02 L133,501.02 L134,501.02 L135,501.02 L136,501.02 L137,501.02 L138,501.02 L139,501.02 L140,501.02 L141,501.02 L142,501.02 L143,501.02 L144,501.02 L145,501.02 L146,501.02 L147,501.02 L148,501.02 L149,501.02 L150,501.02 L151,501.02 L152,501.02 L153,501.02 L154,501.02 L155,501.02 L156,501.02 L157,501.02 L158,501.02 L158.6,501.02" stroke="#bcc252" stroke-width="1.0" fill="none" />
<path d="M36,496.2 L42.1,496.2 L42.5,300 L44.3,300 L44.5,335.57 L44.7,364.68 L44.9,388.52 L45.1,408.04 L45.3,424.02 L45.5,437.11 L45.7,447.82 L45.9,456.59 L46.1,463.77 L46.3,469.65 L46.5,474.46 L46.7,478.4 L46.9,481.63 L47.1,484.27 L47.3,486.43 L47.5,488.2 L47.7,489.65 L47.9,490.84 L48.1,491.81 L48.3,492.61 L48.5,493.26 L48.7,493.79 L48.9,494.23 L49.1,494.59 L49.3,494.88 L49.5,495.12 L49.7,495.31 L49.9,495.47 L50.1,495.61 L50.3,495.71 L50.5,495.8 L50.7,495.87 L50.9,495.93 L51.1,495.98 L51.3,496.02 L51.5,496.05 L51.7,496.08 L51.9,496.1 L52.1,496.12 L53,496.15 L54,496.13 L55,496.09 L56,496.04 L57,495.97 L58,495.88 L59,495.76 L60,495.61 L61,495.43 L62,495.21 L63,494.96 L64,494.67 L65,494.37 L66,494.04 L67,493.72 L68,493.41 L69,493.13 L70,492.9 L71,492.73 L72,492.63 L73,492.6 L74,492.66 L75,492.79 L76,492.99 L77,493.24 L78,493.53 L79,493.85 L80,494.17 L81,494.49 L82,494.79 L83,495.06 L84,495.3 L85,495.51 L86,495.68 L87,495.81 L88,495.92 L89,496 L90,496.06 L91,496.11 L92,496.14 L93,496.16 L94,496.18 L95,496.18 L96,496.19 L97,496.19 L98,496.2 L99,496.2 L100,496.2 L101,496.2 L102,496.2 L103,496.2 L104,496.2 L105,496.2 L106,496.2 L107,496.2 L108,496.2 L109,496.2 L110,496.2 L111,496.2 L112,496.2 L113,496.2 L114,496.2 L115,496.2 L116,496.2 L117,496.2 L118,496.2 L119,496.2 L120,496.2 L121,496.2 L122,496.2 L123,496.2 L124,496.2 L125,496.2 L126,496.2 L127,496.2 L128,496.2 L129,496.2 L130,496.2 L131,496.2 L132,496.2 L133,496.2 L134,496.2 L135,496.2 L136,496.2 L137,496.2 L138,496.2 L139,496.2 L140,496.2 L141,496.2 L142,496.2 L143,496.2 L144,496.2 L145,496.2 L146,496.2 L147,496.2 L148,496.2 L149,496.2 L150,496.2 L151,496.2 L152,496.2 L153,496.2 L154,496.2 L155,496.2 L156,496.2 L157,496.2 L158,496.2 L158.6,496.2" stroke="#5c8cd0" stroke-width="1.0" fill="none" />
<path d="M36,491.38 L42.1,491.38 L42.5,300 L44.3,300 L44.5,334.69 L44.7,363.09 L44.9,386.35 L45.1,405.39 L45.3,420.98 L45.5,433.74 L45.7,444.19 L45.9,452.74 L46.1,459.75 L46.3,465.48 L46.5,470.17 L46.7,474.02 L46.9,477.17 L47.1,479.74 L47.3,481.85 L47.5,483.58 L47.7,484.99 L47.9,486.15 L48.1,487.1 L48.3,487.87 L48.5,488.51 L48.7,489.03 L48.9,489.46 L49.1,489.8 L49.3,490.09 L49.5,490.32 L49.7,490.52 L49.9,490.67 L50.1,490.8 L50.3,490.91 L50.5,490.99 L50.7,491.06 L50.9,491.12 L51.1,491.17 L51.3,491.21 L51.5,491.24 L51.7,491.26 L51.9,491.28 L52.1,491.3 L53,491.33 L54,491.31 L55,491.27 L56,491.22 L57,491.15 L58,491.06 L59,490.94 L60,490.79 L61,490.61 L62,490.39 L63,490.14 L64,489.85 L65,489.55 L66,489.22 L67,488.9 L68,488.59 L69,488.31 L70,488.08 L71,487.91 L72,487.81 L73,487.78 L74,487.84 L75,487.97 L76,488.17 L77,488.42 L78,488.71 L79,489.03 L80,489.35 L81,489.67 L82,489.97 L83,490.24 L84,490.48 L85,490.69 L86,490.86 L87,490.99 L88,491.1 L89,491.18 L90,491.24 L91,491.29 L92,491.32 L93,491.34 L94,491.36 L95,491.36 L96,491.37 L97,491.37 L98,491.38 L99,491.38 L100,491.38 L101,491.38 L102,491.38 L103,491.38 L104,491.38 L105,491.38 L106,491.38 L107,491.38 L108,491.38 L109,491.38 L110,491.38 L111,491.38 L112,491.38 L113,491.38 L114,491.38 L115,491.38 L116,491.38 L117,491.38 L118,491.38 L119,491.38 L120,491.38 L121,491.38 L122,491.38 L123,491.38 L124,491.38 L125,491.38 L126,491.38 L127,491.38 L128,491.38 L129,491.38 L130,491.38 L131,491.38 L132,491.38 L133,491.38 L134,491.38 L135,491.38 L136,491.38 L137,491.38 L138,491.38 L139,491.38 L140,491.38 L141,491.38 L142,491.38 L143,491.38 L144,491.38 L145,491.38 L146,491.38 L147,491.38 L148,491.38 L149,491.38 L150,491.38 L151,491.38 L152,491.38 L153,491.38 L154,491.38 L155,491.38 L156,491.38 L157,491.38 L158,491.38 L158.6,491.38" stroke="#84bcd8" stroke-width="1.0" fill="none" />
<path d="M36,486.56 L42.1,486.56 L42.5,300 L44.3,300 L44.5,333.82 L44.7,361.51 L44.9,384.17 L45.1,402.73 L45.3,417.93 L45.5,430.37 L45.7,440.55 L45.9,448.89 L46.1,455.72 L46.3,461.31 L46.5,465.89 L46.7,469.64 L46.9,472.7 L47.1,475.22 L47.3,477.27 L47.5,478.96 L47.7,480.33 L47.9,481.46 L48.1,482.39 L48.3,483.14 L48.5,483.76 L48.7,484.27 L48.9,484.68 L49.1,485.02 L49.3,485.3 L49.5,485.53 L49.7,485.72 L49.9,485.87 L50.1,486 L50.3,486.1 L50.5,486.18 L50.7,486.25 L50.9,486.31 L51.1,486.35 L51.3,486.39 L51.5,486.42 L51.7,486.45 L51.9,486.47 L52.1,486.48 L53,486.51 L54,486.49 L55,486.45 L56,486.4 L57,486.33 L58,486.24 L59,486.12 L60,485.97 L61,485.79 L62,485.57 L63,485.32 L64,485.03 L65,484.73 L66,484.4 L67,484.08 L68,483.77 L69,483.49 L70,483.26 L71,483.09 L72,482.99 L73,482.96 L74,483.02 L75,483.15 L76,483.35 L77,483.6 L78,483.89 L79,484.21 L80,484.53 L81,484.85 L82,485.15 L83,485.42 L84,485.66 L85,485.87 L86,486.04 L87,486.17 L88,486.28 L89,486.36 L90,486.42 L91,486.47 L92,486.5 L93,486.52 L94,486.54 L95,486.54 L96,486.55 L97,486.55 L98,486.56 L99,486.56 L100,486.56 L101,486.56 L102,486.56 L103,486.56 L104,486.56 L105,486.56 L106,486.56 L107,486.56 L108,486.56 L109,486.56 L110,486.56 L111,486.56 L112,486.56 L113,486.56 L114,486.56 L115,486.56 L116,486.56 L117,486.56 L118,486.56 L119,486.56 L120,486.56 L121,486.56 L122,486.56 L123,486.56 L124,486.56 L125,486.56 L126,486.56 L127,486.56 L128,486.56 L129,486.56 L130,486.56 L131,486.56 L132,486.56 L133,486.56 L134,486.56 L135,486.56 L136,486.56 L137,486.56 L138,486.56 L139,486.56 L140,486.56 L141,486.56 L142,486.56 L143,486.56 L144,486.56 L145,486.56 L146,486.56 L147,486.56 L148,486.56 L149,486.56 L150,486.56 L151,486.56 L152,486.56 L153,486.56 L154,486.56 L155,486.56 L156,486.56 L157,486.56 L158,486.56 L158.6,486.56" stroke="#c69c66" stroke-width="1.0" fill="none" />
<path d="M36,481.74 L42.1,481.74 L42.5,300 L44.3,300 L44.5,332.94 L44.7,359.92 L44.9,382 L45.1,400.08 L45.3,414.88 L45.5,427 L45.7,436.92 L45.9,445.05 L46.1,451.7 L46.3,457.14 L46.5,461.6 L46.7,465.25 L46.9,468.24 L47.1,470.69 L47.3,472.69 L47.5,474.33 L47.7,475.67 L47.9,476.77 L48.1,477.67 L48.3,478.41 L48.5,479.01 L48.7,479.51 L48.9,479.91 L49.1,480.24 L49.3,480.52 L49.5,480.74 L49.7,480.92 L49.9,481.07 L50.1,481.19 L50.3,481.29 L50.5,481.37 L50.7,481.44 L50.9,481.49 L51.1,481.54 L51.3,481.57 L51.5,481.6 L51.7,481.63 L51.9,481.65 L52.1,481.67 L53,481.69 L54,481.67 L55,481.63 L56,481.58 L57,481.51 L58,481.42 L59,481.3 L60,481.15 L61,480.97 L62,480.75 L63,480.5 L64,480.21 L65,479.91 L66,479.58 L67,479.26 L68,478.95 L69,478.67 L70,478.44 L71,478.27 L72,478.17 L73,478.14 L74,478.2 L75,478.33 L76,478.53 L77,478.78 L78,479.07 L79,479.39 L80,479.71 L81,480.03 L82,480.33 L83,480.6 L84,480.84 L85,481.05 L86,481.22 L87,481.35 L88,481.46 L89,481.54 L90,481.6 L91,481.65 L92,481.68 L93,481.7 L94,481.72 L95,481.72 L96,481.73 L97,481.73 L98,481.74 L99,481.74 L100,481.74 L101,481.74 L102,481.74 L103,481.74 L104,481.74 L105,481.74 L106,481.74 L107,481.74 L108,481.74 L109,481.74 L110,481.74 L111,481.74 L112,481.74 L113,481.74 L114,481.74 L115,481.74 L116,481.74 L117,481.74 L118,481.74 L119,481.74 L120,481.74 L121,481.74 L122,481.74 L123,481.74 L124,481.74 L125,481.74 L126,481.74 L127,481.74 L128,481.74 L129,481.74 L130,481.74 L131,481.74 L132,481.74 L133,481.74 L134,481.74 L135,481.74 L136,481.74 L137,481.74 L138,481.74 L139,481.74 L140,481.74 L141,481.74 L142,481.74 L143,481.74 L144,481.74 L145,481.74 L146,481.74 L147,481.74 L148,481.74 L149,481.74 L150,481.74 L151,481.74 L152,481.74 L153,481.74 L154,481.74 L155,481.74 L156,481.74 L157,481.74 L158,481.74 L158.6,481.74" stroke="#6cba6c" stroke-width="1.0" fill="none" />
<path d="M36,476.92 L42.1,476.92 L42.5,300 L44.3,300 L44.5,332.07 L44.7,358.33 L44.9,379.82 L45.1,397.42 L45.3,411.83 L45.5,423.63 L45.7,433.29 L45.9,441.2 L46.1,447.68 L46.3,452.98 L46.5,457.32 L46.7,460.87 L46.9,463.78 L47.1,466.16 L47.3,468.11 L47.5,469.71 L47.7,471.02 L47.9,472.09 L48.1,472.96 L48.3,473.68 L48.5,474.27 L48.7,474.75 L48.9,475.14 L49.1,475.46 L49.3,475.73 L49.5,475.94 L49.7,476.12 L49.9,476.27 L50.1,476.38 L50.3,476.48 L50.5,476.56 L50.7,476.63 L50.9,476.68 L51.1,476.72 L51.3,476.76 L51.5,476.79 L51.7,476.81 L51.9,476.83 L52.1,476.85 L53,476.87 L54,476.85 L55,476.81 L56,476.76 L57,476.69 L58,476.6 L59,476.48 L60,476.33 L61,476.15 L62,475.93 L63,475.68 L64,475.39 L65,475.09 L66,474.76 L67,474.44 L68,474.13 L69,473.85 L70,473.62 L71,473.45 L72,473.35 L73,473.32 L74,473.38 L75,473.51 L76,473.71 L77,473.96 L78,474.25 L79,474.57 L80,474.89 L81,475.21 L82,475.51 L83,475.78 L84,476.02 L85,476.23 L86,476.4 L87,476.53 L88,476.64 L89,476.72 L90,476.78 L91,476.83 L92,476.86 L93,476.88 L94,476.9 L95,476.9 L96,476.91 L97,476.91 L98,476.92 L99,476.92 L100,476.92 L101,476.92 L102,476.92 L103,476.92 L104,476.92 L105,476.92 L106,476.92 L107,476.92 L108,476.92 L109,476.92 L110,476.92 L111,476.92 L112,476.92 L113,476.92 L114,476.92 L115,476.92 L116,476.92 L117,476.92 L118,476.92 L119,476.92 L120,476.92 L121,476.92 L122,476.92 L123,476.92 L124,476.92 L125,476.92 L126,476.92 L127,476.92 L128,476.92 L129,476.92 L130,476.92 L131,476.92 L132,476.92 L133,476.92 L134,476.92 L135,476.92 L136,476.92 L137,476.92 L138,476.92 L139,476.92 L140,476.92 L141,476.92 L142,476.92 L143,476.92 L144,476.92 L145,476.92 L146,476.92 L147,476.92 L148,476.92 L149,476.92 L150,476.92 L151,476.92 L152,476.92 L153,476.92 L154,476.92 L155,476.92 L156,476.92 L157,476.92 L158,476.92 L158.6,476.92" stroke="#d674b6" stroke-width="1.0" fill="none" />
<path d="M36,472.1 L42.1,472.1 L42.5,300 L44.3,300 L44.5,331.2 L44.7,356.74 L44.9,377.65 L45.1,394.77 L45.3,408.79 L45.5,420.26 L45.7,429.66 L45.9,437.35 L46.1,443.65 L46.3,448.81 L46.5,453.03 L46.7,456.49 L46.9,459.32 L47.1,461.63 L47.3,463.53 L47.5,465.08 L47.7,466.36 L47.9,467.4 L48.1,468.25 L48.3,468.95 L48.5,469.52 L48.7,469.99 L48.9,470.37 L49.1,470.68 L49.3,470.94 L49.5,471.15 L49.7,471.32 L49.9,471.46 L50.1,471.58 L50.3,471.67 L50.5,471.75 L50.7,471.81 L50.9,471.87 L51.1,471.91 L51.3,471.94 L51.5,471.97 L51.7,471.99 L51.9,472.01 L52.1,472.03 L53,472.05 L54,472.03 L55,471.99 L56,471.94 L57,471.87 L58,471.78 L59,471.66 L60,471.51 L61,471.33 L62,471.11 L63,470.86 L64,470.57 L65,470.27 L66,469.94 L67,469.62 L68,469.31 L69,469.03 L70,468.8 L71,468.63 L72,468.53 L73,468.5 L74,468.56 L75,468.69 L76,468.89 L77,469.14 L78,469.43 L79,469.75 L80,470.07 L81,470.39 L82,470.69 L83,470.96 L84,471.2 L85,471.41 L86,471.58 L87,471.71 L88,471.82 L89,471.9 L90,471.96 L91,472.01 L92,472.04 L93,472.06 L94,472.08 L95,472.08 L96,472.09 L97,472.09 L98,472.1 L99,472.1 L100,472.1 L101,472.1 L102,472.1 L103,472.1 L104,472.1 L105,472.1 L106,472.1 L107,472.1 L108,472.1 L109,472.1 L110,472.1 L111,472.1 L112,472.1 L113,472.1 L114,472.1 L115,472.1 L116,472.1 L117,472.1 L118,472.1 L119,472.1 L120,472.1 L121,472.1 L122,472.1 L123,472.1 L124,472.1 L125,472.1 L126,472.1 L127,472.1 L128,472.1 L129,472.1 L130,472.1 L131,472.1 L132,472.1 L133,472.1 L134,472.1 L135,472.1 L136,472.1 L137,472.1 L138,472.1 L139,472.1 L140,472.1 L141,472.1 L142,472.1 L143,472.1 L144,472.1 L145,472.1 L146,472.1 L147,472.1 L148,472.1 L149,472.1 L150,472.1 L151,472.1 L152,472.1 L153,472.1 L154,472.1 L155,472.1 L156,472.1 L157,472.1 L158,472.1 L158.6,472.1" stroke="#84d2d6" stroke-width="1.0" fill="none" />
<path d="M36,467.28 L42.1,467.28 L42.5,300 L44.3,300 L44.5,330.32 L44.7,355.15 L44.9,375.47 L45.1,392.12 L45.3,405.74 L45.5,416.9 L45.7,426.03 L45.9,433.51 L46.1,439.63 L46.3,444.64 L46.5,448.74 L46.7,452.1 L46.9,454.86 L47.1,457.11 L47.3,458.95 L47.5,460.46 L47.7,461.7 L47.9,462.71 L48.1,463.54 L48.3,464.22 L48.5,464.77 L48.7,465.23 L48.9,465.6 L49.1,465.9 L49.3,466.15 L49.5,466.36 L49.7,466.52 L49.9,466.66 L50.1,466.77 L50.3,466.87 L50.5,466.94 L50.7,467 L50.9,467.05 L51.1,467.09 L51.3,467.13 L51.5,467.16 L51.7,467.18 L51.9,467.2 L52.1,467.21 L53,467.23 L54,467.21 L55,467.17 L56,467.12 L57,467.05 L58,466.96 L59,466.84 L60,466.69 L61,466.51 L62,466.29 L63,466.04 L64,465.75 L65,465.45 L66,465.12 L67,464.8 L68,464.49 L69,464.21 L70,463.98 L71,463.81 L72,463.71 L73,463.68 L74,463.74 L75,463.87 L76,464.07 L77,464.32 L78,464.61 L79,464.93 L80,465.25 L81,465.57 L82,465.87 L83,466.14 L84,466.38 L85,466.59 L86,466.76 L87,466.89 L88,467 L89,467.08 L90,467.14 L91,467.19 L92,467.22 L93,467.24 L94,467.26 L95,467.26 L96,467.27 L97,467.27 L98,467.28 L99,467.28 L100,467.28 L101,467.28 L102,467.28 L103,467.28 L104,467.28 L105,467.28 L106,467.28 L107,467.28 L108,467.28 L109,467.28 L110,467.28 L111,467.28 L112,467.28 L113,467.28 L114,467.28 L115,467.28 L116,467.28 L117,467.28 L118,467.28 L119,467.28 L120,467.28 L121,467.28 L122,467.28 L123,467.28 L124,467.28 L125,467.28 L126,467.28 L127,467.28 L128,467.28 L129,467.28 L130,467.28 L131,467.28 L132,467.28 L133,467.28 L134,467.28 L135,467.28 L136,467.28 L137,467.28 L138,467.28 L139,467.28 L140,467.28 L141,467.28 L142,467.28 L143,467.28 L144,467.28 L145,467.28 L146,467.28 L147,467.28 L148,467.28 L149,467.28 L150,467.28 L151,467.28 L152,467.28 L153,467.28 L154,467.28 L155,467.28 L156,467.28 L157,467.28 L158,467.28 L158.6,467.28" stroke="#8a86c8" stroke-width="1.0" fill="none" />
<path d="M36,462.46 L42.1,462.46 L42.5,300 L44.3,300 L44.5,329.45 L44.7,353.56 L44.9,373.3 L45.1,389.46 L45.3,402.69 L45.5,413.53 L45.7,422.4 L45.9,429.66 L46.1,435.61 L46.3,440.47 L46.5,444.46 L46.7,447.72 L46.9,450.39 L47.1,452.58 L47.3,454.37 L47.5,455.84 L47.7,457.04 L47.9,458.02 L48.1,458.83 L48.3,459.48 L48.5,460.02 L48.7,460.47 L48.9,460.83 L49.1,461.12 L49.3,461.37 L49.5,461.56 L49.7,461.73 L49.9,461.86 L50.1,461.97 L50.3,462.06 L50.5,462.13 L50.7,462.19 L50.9,462.24 L51.1,462.28 L51.3,462.31 L51.5,462.34 L51.7,462.36 L51.9,462.38 L52.1,462.39 L53,462.41 L54,462.39 L55,462.35 L56,462.3 L57,462.23 L58,462.14 L59,462.02 L60,461.87 L61,461.69 L62,461.47 L63,461.22 L64,460.93 L65,460.63 L66,460.3 L67,459.98 L68,459.67 L69,459.39 L70,459.16 L71,458.99 L72,458.89 L73,458.86 L74,458.92 L75,459.05 L76,459.25 L77,459.5 L78,459.79 L79,460.11 L80,460.43 L81,460.75 L82,461.05 L83,461.32 L84,461.56 L85,461.77 L86,461.94 L87,462.07 L88,462.18 L89,462.26 L90,462.32 L91,462.37 L92,462.4 L93,462.42 L94,462.44 L95,462.44 L96,462.45 L97,462.45 L98,462.46 L99,462.46 L100,462.46 L101,462.46 L102,462.46 L103,462.46 L104,462.46 L105,462.46 L106,462.46 L107,462.46 L108,462.46 L109,462.46 L110,462.46 L111,462.46 L112,462.46 L113,462.46 L114,462.46 L115,462.46 L116,462.46 L117,462.46 L118,462.46 L119,462.46 L120,462.46 L121,462.46 L122,462.46 L123,462.46 L124,462.46 L125,462.46 L126,462.46 L127,462.46 L128,462.46 L129,462.46 L130,462.46 L131,462.46 L132,462.46 L133,462.46 L134,462.46 L135,462.46 L136,462.46 L137,462.46 L138,462.46 L139,462.46 L140,462.46 L141,462.46 L142,462.46 L143,462.46 L144,462.46 L145,462.46 L146,462.46 L147,462.46 L148,462.46 L149,462.46 L150,462.46 L151,462.46 L152,462.46 L153,462.46 L154,462.46 L155,462.46 L156,462.46 L157,462.46 L158,462.46 L158.6,462.46" stroke="#bccb72" stroke-width="1.0" fill="none" />
<path d="M36,457.64 L42.1,457.64 L42.5,300 L44.3,300 L44.5,328.58 L44.7,351.97 L44.9,371.13 L45.1,386.81 L45.3,399.65 L45.5,410.16 L45.7,418.77 L45.9,425.81 L46.1,431.58 L46.3,436.31 L46.5,440.17 L46.7,443.34 L46.9,445.93 L47.1,448.05 L47.3,449.79 L47.5,451.21 L47.7,452.38 L47.9,453.33 L48.1,454.11 L48.3,454.75 L48.5,455.28 L48.7,455.7 L48.9,456.06 L49.1,456.34 L49.3,456.58 L49.5,456.77 L49.7,456.93 L49.9,457.06 L50.1,457.16 L50.3,457.25 L50.5,457.32 L50.7,457.38 L50.9,457.43 L51.1,457.46 L51.3,457.5 L51.5,457.52 L51.7,457.54 L51.9,457.56 L52.1,457.58 L53,457.59 L54,457.57 L55,457.53 L56,457.48 L57,457.41 L58,457.32 L59,457.2 L60,457.05 L61,456.87 L62,456.65 L63,456.4 L64,456.11 L65,455.81 L66,455.48 L67,455.16 L68,454.85 L69,454.57 L70,454.34 L71,454.17 L72,454.07 L73,454.04 L74,454.1 L75,454.23 L76,454.43 L77,454.68 L78,454.97 L79,455.29 L80,455.61 L81,455.93 L82,456.23 L83,456.5 L84,456.74 L85,456.95 L86,457.12 L87,457.25 L88,457.36 L89,457.44 L90,457.5 L91,457.55 L92,457.58 L93,457.6 L94,457.62 L95,457.62 L96,457.63 L97,457.63 L98,457.64 L99,457.64 L100,457.64 L101,457.64 L102,457.64 L103,457.64 L104,457.64 L105,457.64 L106,457.64 L107,457.64 L108,457.64 L109,457.64 L110,457.64 L111,457.64 L112,457.64 L113,457.64 L114,457.64 L115,457.64 L116,457.64 L117,457.64 L118,457.64 L119,457.64 L120,457.64 L121,457.64 L122,457.64 L123,457.64 L124,457.64 L125,457.64 L126,457.64 L127,457.64 L128,457.64 L129,457.64 L130,457.64 L131,457.64 L132,457.64 L133,457.64 L134,457.64 L135,457.64 L136,457.64 L137,457.64 L138,457.64 L139,457.64 L140,457.64 L141,457.64 L142,457.64 L143,457.64 L144,457.64 L145,457.64 L146,457.64 L147,457.64 L148,457.64 L149,457.64 L150,457.64 L151,457.64 L152,457.64 L153,457.64 L154,457.64 L155,457.64 L156,457.64 L157,457.64 L158,457.64 L158.6,457.64" stroke="#a2a2c8" stroke-width="1.0" fill="none" />
<path d="M36,452.82 L42.1,452.82 L42.5,300 L44.3,300 L44.5,327.7 L44.7,350.38 L44.9,368.95 L45.1,384.15 L45.3,396.6 L45.5,406.79 L45.7,415.14 L45.9,421.97 L46.1,427.56 L46.3,432.14 L46.5,435.89 L46.7,438.96 L46.9,441.47 L47.1,443.53 L47.3,445.21 L47.5,446.59 L47.7,447.72 L47.9,448.64 L48.1,449.4 L48.3,450.02 L48.5,450.53 L48.7,450.94 L48.9,451.28 L49.1,451.56 L49.3,451.79 L49.5,451.98 L49.7,452.13 L49.9,452.25 L50.1,452.36 L50.3,452.44 L50.5,452.51 L50.7,452.57 L50.9,452.61 L51.1,452.65 L51.3,452.68 L51.5,452.71 L51.7,452.73 L51.9,452.74 L52.1,452.76 L53,452.77 L54,452.75 L55,452.71 L56,452.66 L57,452.59 L58,452.5 L59,452.38 L60,452.23 L61,452.05 L62,451.83 L63,451.58 L64,451.29 L65,450.99 L66,450.66 L67,450.34 L68,450.03 L69,449.75 L70,449.52 L71,449.35 L72,449.25 L73,449.22 L74,449.28 L75,449.41 L76,449.61 L77,449.86 L78,450.15 L79,450.47 L80,450.79 L81,451.11 L82,451.41 L83,451.68 L84,451.92 L85,452.13 L86,452.3 L87,452.43 L88,452.54 L89,452.62 L90,452.68 L91,452.73 L92,452.76 L93,452.78 L94,452.8 L95,452.8 L96,452.81 L97,452.81 L98,452.82 L99,452.82 L100,452.82 L101,452.82 L102,452.82 L103,452.82 L104,452.82 L105,452.82 L106,452.82 L107,452.82 L108,452.82 L109,452.82 L110,452.82 L111,452.82 L112,452.82 L113,452.82 L114,452.82 L115,452.82 L116,452.82 L117,452.82 L118,452.82 L119,452.82 L120,452.82 L121,452.82 L122,452.82 L123,452.82 L124,452.82 L125,452.82 L126,452.82 L127,452.82 L128,452.82 L129,452.82 L130,452.82 L131,452.82 L132,452.82 L133,452.82 L134,452.82 L135,452.82 L136,452.82 L137,452.82 L138,452.82 L139,452.82 L140,452.82 L141,452.82 L142,452.82 L143,452.82 L144,452.82 L145,452.82 L146,452.82 L147,452.82 L148,452.82 L149,452.82 L150,452.82 L151,452.82 L152,452.82 L153,452.82 L154,452.82 L155,452.82 L156,452.82 L157,452.82 L158,452.82 L158.6,452.82" stroke="#b47e90" stroke-width="1.0" fill="none" />
<path d="M36,448 L42.1,448 L42.5,300 L44.3,300 L44.5,326.83 L44.7,348.79 L44.9,366.78 L45.1,381.5 L45.3,393.55 L45.5,403.42 L45.7,411.5 L45.9,418.12 L46.1,423.54 L46.3,427.97 L46.5,431.6 L46.7,434.57 L46.9,437.01 L47.1,439 L47.3,440.63 L47.5,441.97 L47.7,443.06 L47.9,443.96 L48.1,444.69 L48.3,445.29 L48.5,445.78 L48.7,446.18 L48.9,446.51 L49.1,446.78 L49.3,447 L49.5,447.18 L49.7,447.33 L49.9,447.45 L50.1,447.55 L50.3,447.63 L50.5,447.7 L50.7,447.75 L50.9,447.8 L51.1,447.84 L51.3,447.87 L51.5,447.89 L51.7,447.91 L51.9,447.93 L52.1,447.94 L53,447.95 L54,447.93 L55,447.89 L56,447.84 L57,447.77 L58,447.68 L59,447.56 L60,447.41 L61,447.23 L62,447.01 L63,446.76 L64,446.47 L65,446.17 L66,445.84 L67,445.52 L68,445.21 L69,444.93 L70,444.7 L71,444.53 L72,444.43 L73,444.4 L74,444.46 L75,444.59 L76,444.79 L77,445.04 L78,445.33 L79,445.65 L80,445.97 L81,446.29 L82,446.59 L83,446.86 L84,447.1 L85,447.31 L86,447.48 L87,447.61 L88,447.72 L89,447.8 L90,447.86 L91,447.91 L92,447.94 L93,447.96 L94,447.98 L95,447.98 L96,447.99 L97,447.99 L98,448 L99,448 L100,448 L101,448 L102,448 L103,448 L104,448 L105,448 L106,448 L107,448 L108,448 L109,448 L110,448 L111,448 L112,448 L113,448 L114,448 L115,448 L116,448 L117,448 L118,448 L119,448 L120,448 L121,448 L122,448 L123,448 L124,448 L125,448 L126,448 L127,448 L128,448 L129,448 L130,448 L131,448 L132,448 L133,448 L134,448 L135,448 L136,448 L137,448 L138,448 L139,448 L140,448 L141,448 L142,448 L143,448 L144,448 L145,448 L146,448 L147,448 L148,448 L149,448 L150,448 L151,448 L152,448 L153,448 L154,448 L155,448 L156,448 L157,448 L158,448 L158.6,448" stroke="#8fc09a" stroke-width="1.0" fill="none" />
</g>
<rect x="35.5" y="406.5" width="189" height="142" fill="none" stroke="#1a1a1a" stroke-width="1.2" />
<line x1="35.8" y1="548.5" x2="35.8" y2="551.5" stroke="#1a1a1a" stroke-width="1.1" />
<line x1="130.1" y1="548.5" x2="130.1" y2="551.5" stroke="#1a1a1a" stroke-width="1.1" />
<line x1="224.4" y1="548.5" x2="224.4" y2="551.5" stroke="#1a1a1a" stroke-width="1.1" />
<line x1="82.95" y1="548.5" x2="82.95" y2="550.3" stroke="#1a1a1a" stroke-width="1.1" />
<line x1="177.25" y1="548.5" x2="177.25" y2="550.3" stroke="#1a1a1a" stroke-width="1.1" />
<text x="38.4" y="559.2" font-size="9.8" text-anchor="middle" fill="#1a1a1a" font-family="Liberation Sans, sans-serif" font-weight="normal"  stroke="#1a1a1a" stroke-width="0.45">0</text>
<text x="130.1" y="559.2" font-size="9.8" text-anchor="middle" fill="#1a1a1a" font-family="Liberation Sans, sans-serif" font-weight="normal"  stroke="#1a1a1a" stroke-width="0.45">1</text>
<text x="224.4" y="559.2" font-size="9.8" text-anchor="middle" fill="#1a1a1a" font-family="Liberation Sans, sans-serif" font-weight="normal"  stroke="#1a1a1a" stroke-width="0.45">2</text>
<text x="125.5" y="569.8" font-size="10.5" text-anchor="middle" fill="#1a1a1a" font-family="Liberation Sans, sans-serif" font-weight="normal"  stroke="#1a1a1a" stroke-width="0.45">Time(min)</text>
<text x="27.8" y="472.4" font-size="10.5" text-anchor="middle" fill="#1a1a1a" font-family="Liberation Sans, sans-serif" font-weight="normal" transform="rotate(-90 27.8 472.4)"  stroke="#1a1a1a" stroke-width="0.45">Signal</text>
<line x1="60" y1="414.4" x2="46.5" y2="414.4" stroke="#111" stroke-width="1" />
<polygon points="44.8,414.4 51.6,412.5 50.4,414.4 51.6,416.3" fill="#111"/>
<text x="60.4" y="417.2" font-size="10.2" text-anchor="start" fill="#1a1a1a" font-family="Liberation Sans, sans-serif" font-weight="normal"  stroke="#1a1a1a" stroke-width="0.45">N<tspan font-size="7" dy="2.6">2</tspan></text>
<text x="66.8" y="437.6" font-size="10.2" text-anchor="start" fill="#1a1a1a" font-family="Liberation Sans, sans-serif" font-weight="normal"  stroke="#1a1a1a" stroke-width="0.45">SF<tspan font-size="7" dy="2.6">6</tspan></text>
<line x1="74.9" y1="436" x2="74.9" y2="444" stroke="#111" stroke-width="1" />
<polygon points="74.9,446.6 73.3,440.8 74.9,442 76.5,440.8" fill="#111"/>
<text x="158.5" y="439.7" font-size="10.5" text-anchor="start" fill="#1a1a1a" font-family="Liberation Sans, sans-serif" font-weight="normal"  stroke="#1a1a1a" stroke-width="0.45">Cycles</text>
<text x="167.8" y="448.2" font-size="6.0" text-anchor="start" fill="#1a1a1a" font-family="Liberation Sans, sans-serif" font-weight="normal"  stroke="#1a1a1a" stroke-width="0.3">1000</text>
<text x="167.8" y="453.4" font-size="6.0" text-anchor="start" fill="#1a1a1a" font-family="Liberation Sans, sans-serif" font-weight="normal"  stroke="#1a1a1a" stroke-width="0.3">950</text>
<text x="167.8" y="458.6" font-size="6.0" text-anchor="start" fill="#1a1a1a" font-family="Liberation Sans, sans-serif" font-weight="normal"  stroke="#1a1a1a" stroke-width="0.3">900</text>
<text x="167.8" y="463.8" font-size="6.0" text-anchor="start" fill="#1a1a1a" font-family="Liberation Sans, sans-serif" font-weight="normal"  stroke="#1a1a1a" stroke-width="0.3">850</text>
<text x="167.8" y="469" font-size="6.0" text-anchor="start" fill="#1a1a1a" font-family="Liberation Sans, sans-serif" font-weight="normal"  stroke="#1a1a1a" stroke-width="0.3">800</text>
<text x="167.8" y="474.2" font-size="6.0" text-anchor="start" fill="#1a1a1a" font-family="Liberation Sans, sans-serif" font-weight="normal"  stroke="#1a1a1a" stroke-width="0.3">750</text>
<text x="167.8" y="479.4" font-size="6.0" text-anchor="start" fill="#1a1a1a" font-family="Liberation Sans, sans-serif" font-weight="normal"  stroke="#1a1a1a" stroke-width="0.3">700</text>
<text x="167.8" y="484.6" font-size="6.0" text-anchor="start" fill="#1a1a1a" font-family="Liberation Sans, sans-serif" font-weight="normal"  stroke="#1a1a1a" stroke-width="0.3">650</text>
<text x="167.8" y="489.8" font-size="6.0" text-anchor="start" fill="#1a1a1a" font-family="Liberation Sans, sans-serif" font-weight="normal"  stroke="#1a1a1a" stroke-width="0.3">600</text>
<text x="167.8" y="495" font-size="6.0" text-anchor="start" fill="#1a1a1a" font-family="Liberation Sans, sans-serif" font-weight="normal"  stroke="#1a1a1a" stroke-width="0.3">550</text>
<text x="167.8" y="500.2" font-size="6.0" text-anchor="start" fill="#1a1a1a" font-family="Liberation Sans, sans-serif" font-weight="normal"  stroke="#1a1a1a" stroke-width="0.3">500</text>
<text x="167.8" y="505.4" font-size="6.0" text-anchor="start" fill="#1a1a1a" font-family="Liberation Sans, sans-serif" font-weight="normal"  stroke="#1a1a1a" stroke-width="0.3">450</text>
<text x="167.8" y="510.6" font-size="6.0" text-anchor="start" fill="#1a1a1a" font-family="Liberation Sans, sans-serif" font-weight="normal"  stroke="#1a1a1a" stroke-width="0.3">400</text>
<text x="167.8" y="515.8" font-size="6.0" text-anchor="start" fill="#1a1a1a" font-family="Liberation Sans, sans-serif" font-weight="normal"  stroke="#1a1a1a" stroke-width="0.3">350</text>
<text x="167.8" y="521" font-size="6.0" text-anchor="start" fill="#1a1a1a" font-family="Liberation Sans, sans-serif" font-weight="normal"  stroke="#1a1a1a" stroke-width="0.3">300</text>
<text x="167.8" y="526.2" font-size="6.0" text-anchor="start" fill="#1a1a1a" font-family="Liberation Sans, sans-serif" font-weight="normal"  stroke="#1a1a1a" stroke-width="0.3">250</text>
<text x="167.8" y="531.4" font-size="6.0" text-anchor="start" fill="#1a1a1a" font-family="Liberation Sans, sans-serif" font-weight="normal"  stroke="#1a1a1a" stroke-width="0.3">200</text>
<text x="167.8" y="536.6" font-size="6.0" text-anchor="start" fill="#1a1a1a" font-family="Liberation Sans, sans-serif" font-weight="normal"  stroke="#1a1a1a" stroke-width="0.3">150</text>
<text x="167.8" y="541.8" font-size="6.0" text-anchor="start" fill="#1a1a1a" font-family="Liberation Sans, sans-serif" font-weight="normal"  stroke="#1a1a1a" stroke-width="0.3">100</text>
<text x="167.8" y="547" font-size="6.0" text-anchor="start" fill="#1a1a1a" font-family="Liberation Sans, sans-serif" font-weight="normal"  stroke="#1a1a1a" stroke-width="0.3">50</text>
<rect x="265.1" y="416.4" width="14.6" height="131.8" fill="url(#gb)" stroke="#2e2e2e" stroke-width="1.0" />
<rect x="283.43" y="416.4" width="14.6" height="131.8" fill="url(#gb)" stroke="#2e2e2e" stroke-width="1.0" />
<rect x="301.76" y="416.4" width="14.6" height="131.8" fill="url(#gb)" stroke="#2e2e2e" stroke-width="1.0" />
<rect x="320.09" y="417.4" width="14.6" height="130.8" fill="url(#gb)" stroke="#2e2e2e" stroke-width="1.0" />
<rect x="338.42" y="416.4" width="14.6" height="131.8" fill="url(#gb)" stroke="#2e2e2e" stroke-width="1.0" />
<rect x="356.75" y="416.4" width="14.6" height="131.8" fill="url(#gb)" stroke="#2e2e2e" stroke-width="1.0" />
<rect x="375.08" y="416" width="14.6" height="132.2" fill="url(#gb)" stroke="#2e2e2e" stroke-width="1.0" />
<rect x="393.41" y="416" width="14.6" height="132.2" fill="url(#gb)" stroke="#2e2e2e" stroke-width="1.0" />
<rect x="411.74" y="416" width="14.6" height="132.2" fill="url(#gb)" stroke="#2e2e2e" stroke-width="1.0" />
<rect x="430.07" y="417.5" width="14.6" height="130.7" fill="url(#gb)" stroke="#2e2e2e" stroke-width="1.0" />
<rect x="448.4" y="416.5" width="14.6" height="131.7" fill="url(#gb)" stroke="#2e2e2e" stroke-width="1.0" />
<rect x="466.73" y="416.5" width="14.6" height="131.7" fill="url(#gb)" stroke="#2e2e2e" stroke-width="1.0" />
<rect x="485.06" y="416.5" width="14.6" height="131.7" fill="url(#gb)" stroke="#2e2e2e" stroke-width="1.0" />
<rect x="503.39" y="417.5" width="14.6" height="130.7" fill="url(#gb)" stroke="#2e2e2e" stroke-width="1.0" />
<rect x="521.72" y="416" width="14.6" height="132.2" fill="url(#gb)" stroke="#2e2e2e" stroke-width="1.0" />
<rect x="540.05" y="416" width="14.6" height="132.2" fill="url(#gb)" stroke="#2e2e2e" stroke-width="1.0" />
<rect x="558.38" y="417" width="14.6" height="131.2" fill="url(#gb)" stroke="#2e2e2e" stroke-width="1.0" />
<rect x="576.71" y="416.5" width="14.6" height="131.7" fill="url(#gb)" stroke="#2e2e2e" stroke-width="1.0" />
<rect x="595.04" y="417.5" width="14.6" height="130.7" fill="url(#gb)" stroke="#2e2e2e" stroke-width="1.0" />
<rect x="613.37" y="416.5" width="14.6" height="131.7" fill="url(#gb)" stroke="#2e2e2e" stroke-width="1.0" />
<rect x="631.7" y="416" width="14.6" height="132.2" fill="url(#gb)" stroke="#2e2e2e" stroke-width="1.0" />
<rect x="260.5" y="405.5" width="391" height="143" fill="none" stroke="#1a1a1a" stroke-width="1.2" />
<line x1="272.4" y1="548.5" x2="272.4" y2="551.5" stroke="#1a1a1a" stroke-width="1.1" />
<line x1="309.06" y1="548.5" x2="309.06" y2="551.5" stroke="#1a1a1a" stroke-width="1.1" />
<line x1="345.72" y1="548.5" x2="345.72" y2="551.5" stroke="#1a1a1a" stroke-width="1.1" />
<line x1="382.38" y1="548.5" x2="382.38" y2="551.5" stroke="#1a1a1a" stroke-width="1.1" />
<line x1="419.04" y1="548.5" x2="419.04" y2="551.5" stroke="#1a1a1a" stroke-width="1.1" />
<line x1="455.7" y1="548.5" x2="455.7" y2="551.5" stroke="#1a1a1a" stroke-width="1.1" />
<line x1="492.36" y1="548.5" x2="492.36" y2="551.5" stroke="#1a1a1a" stroke-width="1.1" />
<line x1="529.02" y1="548.5" x2="529.02" y2="551.5" stroke="#1a1a1a" stroke-width="1.1" />
<line x1="565.68" y1="548.5" x2="565.68" y2="551.5" stroke="#1a1a1a" stroke-width="1.1" />
<line x1="602.34" y1="548.5" x2="602.34" y2="551.5" stroke="#1a1a1a" stroke-width="1.1" />
<line x1="639" y1="548.5" x2="639" y2="551.5" stroke="#1a1a1a" stroke-width="1.1" />
<line x1="290.73" y1="548.5" x2="290.73" y2="550.3" stroke="#1a1a1a" stroke-width="1.1" />
<line x1="327.39" y1="548.5" x2="327.39" y2="550.3" stroke="#1a1a1a" stroke-width="1.1" />
<line x1="364.05" y1="548.5" x2="364.05" y2="550.3" stroke="#1a1a1a" stroke-width="1.1" />
<line x1="400.71" y1="548.5" x2="400.71" y2="550.3" stroke="#1a1a1a" stroke-width="1.1" />
<line x1="437.37" y1="548.5" x2="437.37" y2="550.3" stroke="#1a1a1a" stroke-width="1.1" />
<line x1="474.03" y1="548.5" x2="474.03" y2="550.3" stroke="#1a1a1a" stroke-width="1.1" />
<line x1="510.69" y1="548.5" x2="510.69" y2="550.3" stroke="#1a1a1a" stroke-width="1.1" />
<line x1="547.35" y1="548.5" x2="547.35" y2="550.3" stroke="#1a1a1a" stroke-width="1.1" />
<line x1="584.01" y1="548.5" x2="584.01" y2="550.3" stroke="#1a1a1a" stroke-width="1.1" />
<line x1="620.67" y1="548.5" x2="620.67" y2="550.3" stroke="#1a1a1a" stroke-width="1.1" />
<text x="272.4" y="562" font-size="9.8" text-anchor="middle" fill="#1a1a1a" font-family="Liberation Sans, sans-serif" font-weight="normal"  stroke="#1a1a1a" stroke-width="0.45">0</text>
<text x="309.06" y="562" font-size="9.8" text-anchor="middle" fill="#1a1a1a" font-family="Liberation Sans, sans-serif" font-weight="normal"  stroke="#1a1a1a" stroke-width="0.45">100</text>
<text x="345.72" y="562" font-size="9.8" text-anchor="middle" fill="#1a1a1a" font-family="Liberation Sans, sans-serif" font-weight="normal"  stroke="#1a1a1a" stroke-width="0.45">200</text>
<text x="382.38" y="562" font-size="9.8" text-anchor="middle" fill="#1a1a1a" font-family="Liberation Sans, sans-serif" font-weight="normal"  stroke="#1a1a1a" stroke-width="0.45">300</text>
<text x="419.04" y="562" font-size="9.8" text-anchor="middle" fill="#1a1a1a" font-family="Liberation Sans, sans-serif" font-weight="normal"  stroke="#1a1a1a" stroke-width="0.45">400</text>
<text x="455.7" y="562" font-size="9.8" text-anchor="middle" fill="#1a1a1a" font-family="Liberation Sans, sans-serif" font-weight="normal"  stroke="#1a1a1a" stroke-width="0.45">500</text>
<text x="492.36" y="562" font-size="9.8" text-anchor="middle" fill="#1a1a1a" font-family="Liberation Sans, sans-serif" font-weight="normal"  stroke="#1a1a1a" stroke-width="0.45">600</text>
<text x="529.02" y="562" font-size="9.8" text-anchor="middle" fill="#1a1a1a" font-family="Liberation Sans, sans-serif" font-weight="normal"  stroke="#1a1a1a" stroke-width="0.45">700</text>
<text x="565.68" y="562" font-size="9.8" text-anchor="middle" fill="#1a1a1a" font-family="Liberation Sans, sans-serif" font-weight="normal"  stroke="#1a1a1a" stroke-width="0.45">800</text>
<text x="602.34" y="562" font-size="9.8" text-anchor="middle" fill="#1a1a1a" font-family="Liberation Sans, sans-serif" font-weight="normal"  stroke="#1a1a1a" stroke-width="0.45">900</text>
<text x="639" y="562" font-size="9.8" text-anchor="middle" fill="#1a1a1a" font-family="Liberation Sans, sans-serif" font-weight="normal"  stroke="#1a1a1a" stroke-width="0.45">1000</text>
<text x="440.7" y="571.2" font-size="10.5" text-anchor="middle" fill="#1a1a1a" font-family="Liberation Sans, sans-serif" font-weight="normal"  stroke="#1a1a1a" stroke-width="0.45">Cycles</text>
<text x="252.6" y="473.6" font-size="10.5" text-anchor="middle" fill="#1a1a1a" font-family="Liberation Sans, sans-serif" font-weight="normal" transform="rotate(-90 252.6 473.6)"  stroke="#1a1a1a" stroke-width="0.45">Peak area of SF<tspan font-size="7" dy="3.3">6</tspan></text>
</svg>
</body></html>
